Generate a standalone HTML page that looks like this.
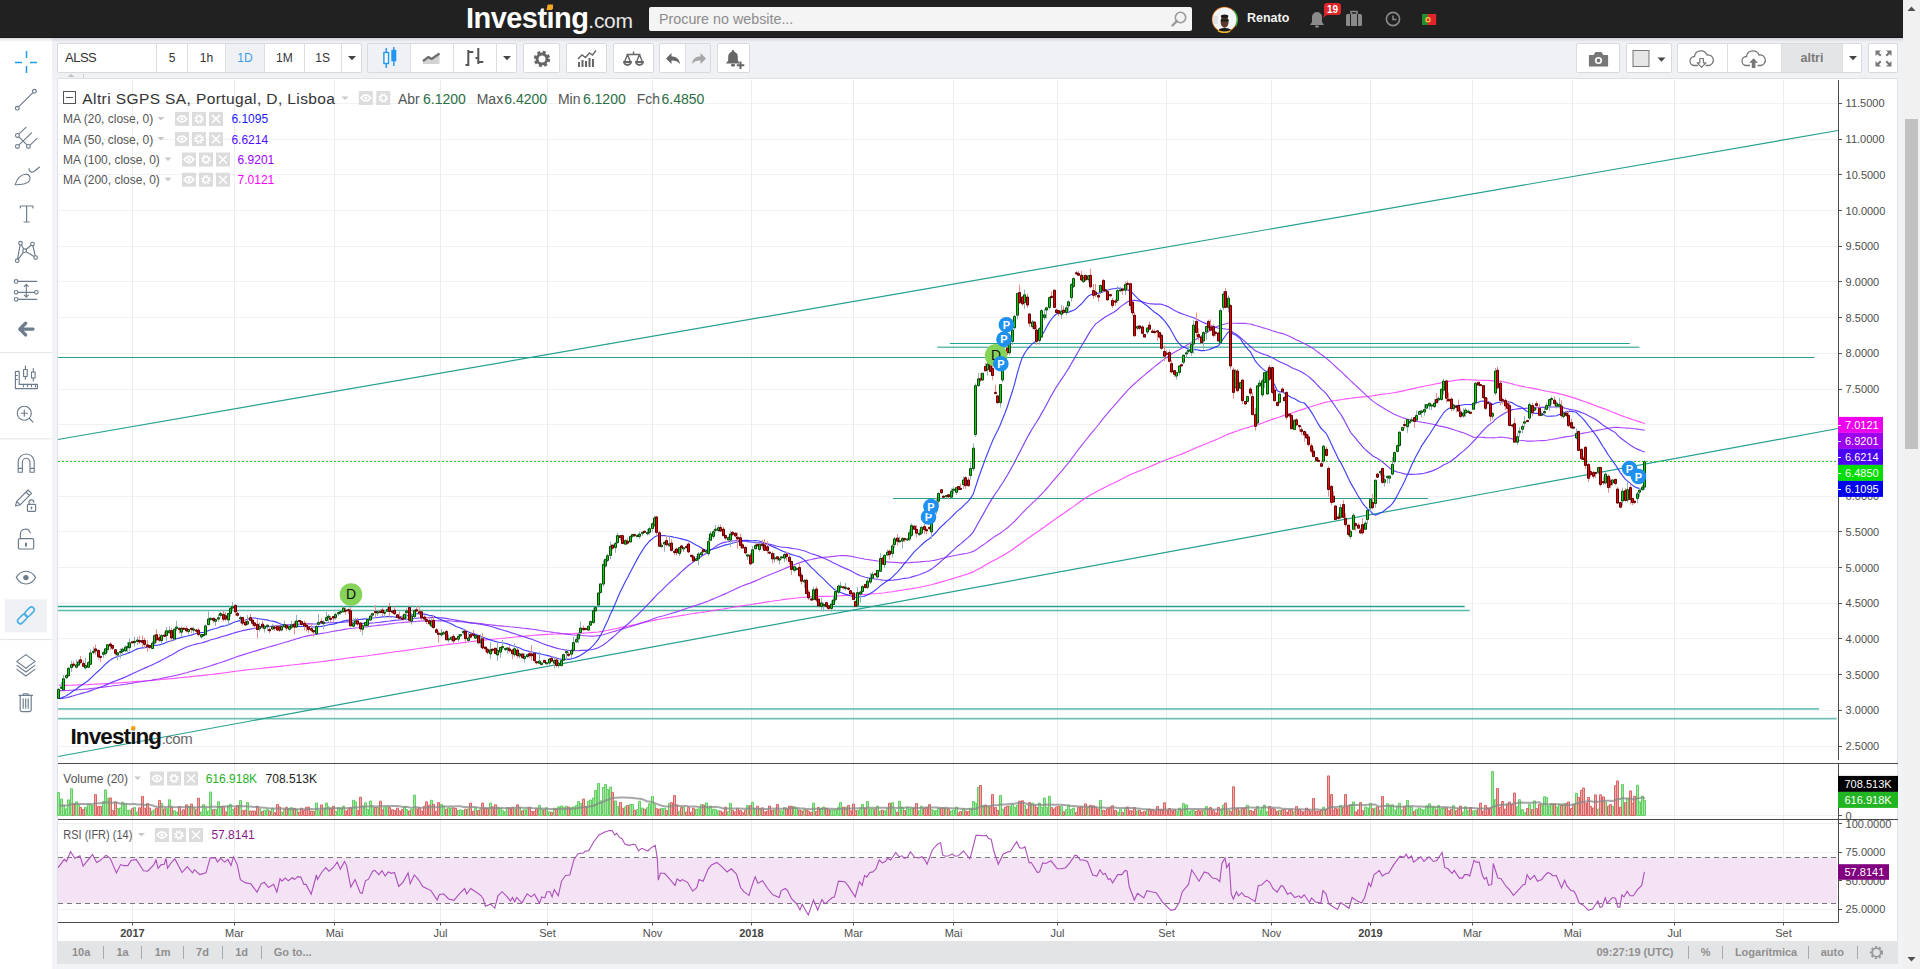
<!DOCTYPE html>
<html><head><meta charset="utf-8">
<style>
*{box-sizing:border-box;margin:0;padding:0}
html,body{width:1920px;height:969px;overflow:hidden;background:#f1f3f6;font-family:"Liberation Sans",sans-serif}
.abs{position:absolute}
#hdr{left:0;top:0;width:1903px;height:38px;background:#212121}
#logo{left:466px;top:3px;color:#fff;font-weight:bold;font-size:29px;letter-spacing:-0.55px;line-height:30px}
#logo span{font-weight:normal;font-size:21px;letter-spacing:-0.3px;color:#e8e8e8}
#search{left:649px;top:7px;width:543px;height:24px;background:#f4f4f4;border-radius:2px}
#search .ph{position:absolute;left:10px;top:4px;font-size:14.3px;color:#8c8c8c}
#uname{left:1247px;top:11px;font-size:12.5px;font-weight:bold;color:#f2f2f2}
#sb{left:1903px;top:0;width:17px;height:969px;background:#f1f1f1}
#thumb{left:1905px;top:119px;width:13px;height:330px;background:#c1c1c1}
#side{left:0;top:38px;width:52px;height:931px;background:#fff}
#tb{left:52px;top:38px;width:1851px;height:41px;background:#f0f1f5}
.grp{position:absolute;top:43.5px;height:29px;background:#fff;border:1px solid #d6d8db;border-radius:2px;overflow:hidden}
.btn{position:absolute;top:0;height:27px;border-left:1px solid #dcdde0;font-size:12px;color:#333;text-align:center;line-height:27px}
.btn.first{border-left:none}
.btn.on{background:#eff1f4}
#chart{left:57px;top:79px;width:1841px;height:885px;background:#fff;border-left:1px solid #dfe2e6;border-right:1px solid #e0e3e7}
#bbar{left:58px;top:941px;width:1840px;height:22.5px;background:#e3e4e6}
.bb{position:absolute;top:4.5px;font-size:11px;font-weight:bold;color:#8f8f8f}
.bsep{position:absolute;top:4.5px;width:1px;height:13px;background:#a8a8a8}
svg text{font-family:"Liberation Sans",sans-serif}
.ax{font-size:11px;fill:#4e4e4e}
.axw{font-size:11px;fill:#fff}
.tx{font-size:11px;fill:#4e4e4e}
.tx.b{font-weight:bold;fill:#444}
.ttl{font-size:15.5px;fill:#333;letter-spacing:0.4px}
.ohl{font-size:14px}
.lg{font-size:12px;fill:#555}
.wm{font-size:22.5px;font-weight:bold;fill:#111;letter-spacing:-0.9px}
.wmc{font-size:15px;font-weight:normal;fill:#666;letter-spacing:-0.5px}
</style></head><body>
<!-- header -->
<div id="hdr" class="abs"></div>
<div id="logo" class="abs">Investing<span>.com</span></div>
<svg class="abs" style="left:546px;top:3px" width="12" height="10"><rect x="2" y="1.5" width="5.5" height="5.5" fill="#f5a623" transform="skewX(-12)"/></svg>
<div id="search" class="abs"><div class="ph">Procure no website...</div>
<svg style="position:absolute;left:521px;top:3px" width="18" height="18" viewBox="0 0 18 18"><circle cx="10.5" cy="7.5" r="5.2" fill="none" stroke="#9a9a9a" stroke-width="1.6"/><path d="M6.8 11.2L2.5 15.5" stroke="#9a9a9a" stroke-width="2.4" stroke-linecap="round"/></svg>
</div>
<svg class="abs" style="left:1211px;top:6px" width="27" height="27" viewBox="0 0 27 27">
<defs><clipPath id="av"><circle cx="13.5" cy="13.4" r="12"/></clipPath></defs>
<circle cx="13.5" cy="13.4" r="12.7" fill="#e8780f"/>
<path d="M22.5 4.5A12.7 12.7 0 0 1 24.5 20" stroke="#3aa83a" stroke-width="1.6" fill="none"/>
<path d="M7 24.5A12.7 12.7 0 0 0 19 25" stroke="#f0b81a" stroke-width="1.8" fill="none"/>
<g clip-path="url(#av)"><rect width="27" height="27" fill="#f2f5f7"/><rect x="2" y="10" width="5" height="8" fill="#dfe2e8"/>
<ellipse cx="13.6" cy="15.6" rx="4" ry="6.2" fill="#5b3a2c"/><ellipse cx="13.6" cy="10.3" rx="3.8" ry="1.9" fill="#1c1c1c"/>
<rect x="9.8" y="13.2" width="7.8" height="2.2" rx="1" fill="#17201f"/>
<path d="M6.5 27L8 23.3Q13.5 20.8 19.5 23.3L21 27z" fill="#151515"/></g>
</svg>
<div id="uname" class="abs">Renato</div>
<svg class="abs" style="left:1306px;top:8px" width="22" height="22" viewBox="0 0 22 22"><path d="M4 17h14l-2-3V9a5 5 0 0 0-10 0v5z" fill="#8a8a8a"/><rect x="9" y="17.5" width="4" height="2" rx="1" fill="#8a8a8a"/></svg>
<svg class="abs" style="left:1321px;top:2px" width="22" height="16" viewBox="0 0 22 16"><path d="M6 1h11a3 3 0 0 1 3 3v6a3 3 0 0 1-3 3H6l-4 2.5 1.5-3.5A3 3 0 0 1 3 10V4a3 3 0 0 1 3-3z" fill="#e0262b"/><text x="11.5" y="11" font-size="10" font-weight="bold" fill="#fff" text-anchor="middle">19</text></svg>
<svg class="abs" style="left:1345px;top:10px" width="19" height="18" viewBox="0 0 19 18"><rect x="1" y="4" width="16" height="12" rx="1.5" fill="#8a8a8a"/><rect x="6" y="1.5" width="6" height="3" fill="none" stroke="#8a8a8a" stroke-width="1.5"/><path d="M5.5 4v12M12.5 4v12" stroke="#212121" stroke-width="1"/></svg>
<svg class="abs" style="left:1383.5px;top:10.7px" width="18" height="18" viewBox="0 0 18 18"><circle cx="9" cy="8" r="6.6" fill="none" stroke="#8a8a8a" stroke-width="1.6"/><path d="M9 4.5V8.5h3.5" fill="none" stroke="#8a8a8a" stroke-width="1.5"/></svg>
<svg class="abs" style="left:1422px;top:14px" width="15" height="12" viewBox="0 0 15 12"><rect width="14.2" height="11" fill="#e0262b"/><rect width="5.6" height="11" fill="#1f8f2f"/><circle cx="6" cy="5.7" r="2.6" fill="#f5d442"/><circle cx="6" cy="5.7" r="1.5" fill="#e0262b"/></svg>

<!-- scrollbar -->
<div id="sb" class="abs"></div>
<div id="thumb" class="abs"></div>
<svg class="abs" style="left:1906px;top:5px" width="11" height="8"><path d="M1.5 6h8l-4-4.5z" fill="#505050"/></svg>
<svg class="abs" style="left:1906px;top:955px" width="11" height="8"><path d="M1.5 2h8l-4 4.5z" fill="#505050"/></svg>

<!-- left sidebar -->
<div id="side" class="abs"></div>
<svg class="abs" style="left:0;top:38px" width="52" height="931" viewBox="0 38 52 931">
<g fill="none" stroke="#6c7c8c" stroke-width="1.15" stroke-linecap="round" stroke-linejoin="round">
<path d="M26.5 51v7M26.5 66v7M15 62.5h7M30 62.5h7" stroke="#1e9be6" stroke-width="1.5" stroke-linecap="butt"/>
<path d="M18.6 106.9L33 92.6"/><circle cx="17.3" cy="108.3" r="1.9" fill="#fff"/><circle cx="34.4" cy="91.3" r="1.9" fill="#fff"/>
<path d="M18.7 134.2L26 127.4M17.4 146.4L31.6 132.9M29.8 145.3L37 138.4M17.4 135.4L28.4 146.4"/><circle cx="17.4" cy="135.4" r="1.9" fill="#fff"/><circle cx="17.4" cy="146.4" r="1.9" fill="#fff"/><circle cx="28.4" cy="146.4" r="1.9" fill="#fff"/>
<path d="M15.2 184.7C17 179 21 174.6 25.5 174.2C29.5 174 31 178 29.5 180.8C27.5 184 21 184.7 15.2 184.7z"/><path d="M29 168.5c0 3 2.5 4.5 5 3l5.5-4.5"/>
<path d="M20.3 208v-2h12.6v2M26.6 206v16M24 222h5.2"/>
<path d="M20.5 243.2L17.2 260.7L24.6 250.7L20.5 243.2M24.6 250.7L32.5 244L35.6 257.5L24.6 250.7"/><circle cx="20.5" cy="243.2" r="1.8" fill="#fff"/><circle cx="32.5" cy="244" r="1.8" fill="#fff"/><circle cx="24.6" cy="250.7" r="1.8" fill="#fff"/><circle cx="17.2" cy="260.7" r="1.8" fill="#fff"/><circle cx="35.6" cy="257.5" r="1.8" fill="#fff"/>
<path d="M18 281.4H36.8M18 292.3H34.4M18 299.3H36.8M26.3 284.4v12.8M24.3 286.4l2-2 2 2M24.3 295.2l2 2 2-2"/><circle cx="16.1" cy="281.4" r="1.8" fill="#fff"/><circle cx="16.1" cy="292.3" r="1.8" fill="#fff"/><circle cx="36.3" cy="292.3" r="1.8" fill="#fff"/><circle cx="16.1" cy="299.3" r="1.8" fill="#fff"/>
<path d="M20 329.1h13M25.6 323.3l-5.8 5.8 5.8 5.8" stroke-width="3.4" stroke="#6c7c8c"/>
<path d="M0 352.5h52" stroke="#e2e6ea" stroke-width="1" stroke-linecap="butt"/>
<path d="M15.4 371.5v17.1h22v-4.2H19.2v-13z"/><path d="M23.5 384.4v2.3M27.5 384.4v2.3M31.5 384.4v2.3M35.5 384.4v2.3M15.4 375.5h2M15.4 379.5h2"/><rect x="23.6" y="369.5" width="3.6" height="7"/><path d="M25.4 366v3.5M25.4 376.5v2.7"/><rect x="31.5" y="372" width="3.6" height="6"/><path d="M33.3 368.6v3.4M33.3 378v3"/>
<circle cx="24.3" cy="413.2" r="7"/><path d="M21.2 413.2h6.2M24.3 410.1v6.2M29.4 418.5l3.6 3.6"/>
<path d="M0 438.9h52" stroke="#e2e6ea" stroke-width="1" stroke-linecap="butt"/>
<path d="M18.2 472.2V462a8 8 0 0 1 16 0v10.2h-4.2V462a3.8 3.8 0 0 0-7.6 0v10.2zM18.2 468.4h4.2M30 468.4h4.2"/>
<path d="M15.5 506l1.2-4.6 11.4-11.4 3.4 3.4-11.4 11.4zM16.7 501.4l3.4 3.4M26 492.1l3.4 3.4"/><rect x="27.4" y="504.4" width="8.2" height="7" rx="0.8"/><path d="M29 504.4v-2a2.4 2.4 0 0 1 4.8-0.3"/><path d="M31.5 507.3v1.5" stroke-width="1.4"/>
<rect x="18.4" y="538.6" width="15.3" height="10.4" rx="1.3"/><path d="M20.4 538.6v-4.4a5 5 0 0 1 9.8-1.4"/><path d="M26 543.4v2.4" stroke-width="2"/>
<path d="M16.3 577.6c4.5-8.5 14.8-8.5 19.3 0c-4.5 8.5-14.8 8.5-19.3 0z"/><circle cx="25.9" cy="577.6" r="2.7" fill="#6c7c8c" stroke="none"/>
<rect x="5" y="599.3" width="41.8" height="33.1" fill="#eff1f4" stroke="none"/>
<g transform="rotate(-45 25.9 615.4)" stroke="#46ace8" stroke-width="1.5"><rect x="15.3" y="612.6" width="11" height="5.6" rx="2.8"/><rect x="25.5" y="612.6" width="11" height="5.6" rx="2.8"/></g>
<path d="M0 639.6h52" stroke="#e2e6ea" stroke-width="1" stroke-linecap="butt"/>
<path d="M16.7 661.4l9.2-6.8 9.2 6.8-9.2 6.8zM16.9 665.4l9 6.6 9-6.6M16.9 669.4l9 6.6 9-6.6"/>
<path d="M19 695.3h13.5M23.5 695.3v-1.6h4.6v1.6M20.2 695.5v14.3a1.8 1.8 0 0 0 1.8 1.8h7.4a1.8 1.8 0 0 0 1.8-1.8V695.5M23.2 698.8v9.4M25.7 698.8v9.4M28.2 698.8v9.4"/>
</g>
</svg>

<!-- toolbar -->
<div id="tb" class="abs"></div>
<div class="abs" style="left:57.0px;top:43.0px;width:305.0px;height:30.0px;background:#fff;border:1px solid #d8dadd;border-radius:2px"></div><div class="abs" style="left:225.3px;top:44.0px;width:39.2px;height:28.0px;background:#eff1f4"></div><div class="abs" style="left:155.8px;top:44.0px;width:1px;height:28.0px;background:#dddee1"></div><div class="abs" style="left:187.0px;top:44.0px;width:1px;height:28.0px;background:#dddee1"></div><div class="abs" style="left:224.8px;top:44.0px;width:1px;height:28.0px;background:#dddee1"></div><div class="abs" style="left:264.0px;top:44.0px;width:1px;height:28.0px;background:#dddee1"></div><div class="abs" style="left:303.5px;top:44.0px;width:1px;height:28.0px;background:#dddee1"></div><div class="abs" style="left:340.8px;top:44.0px;width:1px;height:28.0px;background:#dddee1"></div>
<div class="abs" style="left:65px;top:50.0px;font-size:13px;color:#333;line-height:16px;letter-spacing:-0.5px">ALSS</div>
<div class="abs" style="left:172.0px;top:49.5px;width:60px;margin-left:-30px;text-align:center;font-size:12.0px;color:#333;line-height:16px;">5</div>
<div class="abs" style="left:206.4px;top:49.5px;width:60px;margin-left:-30px;text-align:center;font-size:12.0px;color:#333;line-height:16px;">1h</div>
<div class="abs" style="left:244.9px;top:49.5px;width:60px;margin-left:-30px;text-align:center;font-size:12.0px;color:#3a9fe8;line-height:16px;">1D</div>
<div class="abs" style="left:284.3px;top:49.5px;width:60px;margin-left:-30px;text-align:center;font-size:12.0px;color:#333;line-height:16px;">1M</div>
<div class="abs" style="left:322.6px;top:49.5px;width:60px;margin-left:-30px;text-align:center;font-size:12.0px;color:#333;line-height:16px;">1S</div>
<svg class="abs" style="left:346.7px;top:54.0px" width="10" height="8" viewBox="0 0 10 8"><path d="M1 2h8l-4 4.2z" fill="#444"/></svg>
<div class="abs" style="left:367.3px;top:43.0px;width:150.0px;height:30.0px;background:#fff;border:1px solid #d8dadd;border-radius:2px"></div><div class="abs" style="left:368.3px;top:44.0px;width:42.3px;height:28.0px;background:#eff1f4"></div><div class="abs" style="left:410.1px;top:44.0px;width:1px;height:28.0px;background:#dddee1"></div><div class="abs" style="left:453.2px;top:44.0px;width:1px;height:28.0px;background:#dddee1"></div><div class="abs" style="left:496.0px;top:44.0px;width:1px;height:28.0px;background:#dddee1"></div>
<svg class="abs" style="left:379.0px;top:47.0px" width="20" height="22" viewBox="0 0 20 22"><path d="M7.2 1v20M14.8 0v19" stroke="#2196f3" stroke-width="1.4"/><rect x="4.9" y="5.5" width="4.6" height="11" fill="#fff" stroke="#2196f3" stroke-width="1.4"/><rect x="12.3" y="2.8" width="5" height="11.5" fill="#2196f3"/></svg>
<svg class="abs" style="left:422.0px;top:51.0px" width="20" height="16" viewBox="0 0 20 16"><path d="M1 13V10L6.5 6 9.5 8 17.5 2.5V13z" fill="#d2d2d2"/><path d="M1 10L6.5 6 9.5 8 17.5 2.5" fill="none" stroke="#6e6e6e" stroke-width="2.2" stroke-linejoin="round"/></svg>
<svg class="abs" style="left:464.0px;top:47.0px" width="22" height="22" viewBox="0 0 22 22"><path d="M4.3 3v16M1.5 18h2.8M4.3 5h5M14.3 1v16M11.5 11h2.8M14.3 15h5" stroke="#555" stroke-width="2" fill="none"/></svg>
<svg class="abs" style="left:502.0px;top:54.0px" width="10" height="8" viewBox="0 0 10 8"><path d="M1 2h8l-4 4.2z" fill="#444"/></svg>
<div class="abs" style="left:522.5px;top:43.0px;width:37.9px;height:30.0px;background:#fff;border:1px solid #d8dadd;border-radius:2px"></div>
<svg class="abs" style="left:532.5px;top:49.5px" width="18" height="18" viewBox="0 0 18 18"><circle cx="9" cy="9" r="6.2" fill="none" stroke="#666" stroke-width="4" stroke-dasharray="2.6 2.26"/><circle cx="9" cy="9" r="5" fill="none" stroke="#666" stroke-width="3"/></svg>
<div class="abs" style="left:565.6px;top:43.0px;width:41.9px;height:30.0px;background:#fff;border:1px solid #d8dadd;border-radius:2px"></div>
<svg class="abs" style="left:577.0px;top:49.0px" width="20" height="20" viewBox="0 0 20 20"><path d="M2 18v-5M5.5 18v-7M9 18v-6M12.5 18v-9M16 18v-8" stroke="#666" stroke-width="2"/><path d="M1 10l4-4 3.5 2.5 4-4.5 3 2 3.5-4.5" fill="none" stroke="#666" stroke-width="1.4"/></svg>
<div class="abs" style="left:612.5px;top:43.0px;width:41.7px;height:30.0px;background:#fff;border:1px solid #d8dadd;border-radius:2px"></div>
<svg class="abs" style="left:623.0px;top:49.0px" width="21" height="20" viewBox="0 0 21 20"><path d="M3.5 5.5h14M10.5 2.5v3M4.5 5.5l-3 7.5M4.5 5.5l3 7.5M16.5 5.5l-3 7.5M16.5 5.5l3 7.5" stroke="#666" stroke-width="1.4" fill="none"/><path d="M1 13a3.5 3 0 0 0 7 0zM13 13a3.5 3 0 0 0 7 0z" fill="none" stroke="#666" stroke-width="1.8"/></svg>
<div class="abs" style="left:659.4px;top:43.0px;width:52.1px;height:30.0px;background:#fff;border:1px solid #d8dadd;border-radius:2px"></div><div class="abs" style="left:685.4px;top:44.0px;width:25.1px;height:28.0px;background:#eff1f4"></div><div class="abs" style="left:684.9px;top:44.0px;width:1px;height:28.0px;background:#dddee1"></div>
<svg class="abs" style="left:665.0px;top:50.0px" width="16" height="16" viewBox="0 0 16 16"><path d="M15 14c-0.5-5-3.5-7.5-8.5-7.5V3L1 8.5l5.5 5.5v-3.5c4 0 6.5 1 8.5 3.5z" fill="#666"/></svg>
<svg class="abs" style="left:690.5px;top:50.0px" width="16" height="16" viewBox="0 0 16 16"><path d="M1 14c0.5-5 3.5-7.5 8.5-7.5V3L15 8.5 9.5 14v-3.5c-4 0-6.5 1-8.5 3.5z" fill="#a6a6a6"/></svg>
<div class="abs" style="left:716.9px;top:43.0px;width:33.3px;height:30.0px;background:#fff;border:1px solid #d8dadd;border-radius:2px"></div>
<svg class="abs" style="left:724.0px;top:47.5px" width="22" height="22" viewBox="0 0 22 22"><path d="M2 15.5h14l-2.2-3V8.5a4.8 4.8 0 0 0-9.6 0v4z" fill="#666"/><circle cx="9" cy="3.2" r="1.2" fill="#666"/><rect x="7" y="16" width="4" height="2.5" rx="1.2" fill="#666"/><path d="M16.5 13.5v7.5M12.8 17.3h7.5" stroke="#666" stroke-width="2"/></svg>
<div class="abs" style="left:1575.6px;top:43.0px;width:44.8px;height:30.0px;background:#fff;border:1px solid #d8dadd;border-radius:2px"></div>
<svg class="abs" style="left:1587.5px;top:50.0px" width="21" height="18" viewBox="0 0 21 18"><path d="M1.5 5.5h4.5l1.8-3h5.4l1.8 3h4.5v10.5H1.5z" fill="#777" stroke="#777" stroke-width="1.2" stroke-linejoin="round"/><circle cx="10.5" cy="10.5" r="3.6" fill="#fff"/><circle cx="10.5" cy="10.5" r="1.9" fill="#777"/></svg>
<div class="abs" style="left:1625.6px;top:43.0px;width:46.0px;height:30.0px;background:#fff;border:1px solid #d8dadd;border-radius:2px"></div>
<svg class="abs" style="left:1631.5px;top:48.0px" width="38" height="22" viewBox="0 0 38 22"><rect x="1" y="2.5" width="16" height="16" fill="#e6e6e6" stroke="#777" stroke-width="1"/><path d="M25.5 9.5h8l-4 4.2z" fill="#444"/></svg>
<div class="abs" style="left:1676.6px;top:43.0px;width:185.7px;height:30.0px;background:#fff;border:1px solid #d8dadd;border-radius:2px"></div><div class="abs" style="left:1781.3px;top:44.0px;width:61.3px;height:28.0px;background:#e4e5e7"></div><div class="abs" style="left:1726.9px;top:44.0px;width:1px;height:28.0px;background:#dddee1"></div><div class="abs" style="left:1780.8px;top:44.0px;width:1px;height:28.0px;background:#dddee1"></div><div class="abs" style="left:1842.1px;top:44.0px;width:1px;height:28.0px;background:#dddee1"></div>
<svg class="abs" style="left:1688.0px;top:48.0px" width="28" height="22" viewBox="0 0 28 22"><path d="M6.5 17.5a4.5 4.5 0 0 1 0-9 6.5 6.5 0 0 1 12.5-1.5A5 5 0 0 1 21 17.5h-3.5M10 17.5H6.5" fill="none" stroke="#777" stroke-width="1.3"/><path d="M11.8 10.5h3.6v4.3h2.6L13.6 19.3 9.2 14.8h2.6z" fill="#fff" stroke="#777" stroke-width="1.2" stroke-linejoin="round"/></svg>
<svg class="abs" style="left:1740.0px;top:48.0px" width="28" height="22" viewBox="0 0 28 22"><path d="M6.5 17.5a4.5 4.5 0 0 1 0-9 6.5 6.5 0 0 1 12.5-1.5A5 5 0 0 1 21 17.5h-3.5M10 17.5H6.5" fill="none" stroke="#777" stroke-width="1.3"/><path d="M11.8 20v-5.2H9.2L13.6 10.3l4.4 4.5h-2.6V20z" fill="#777"/></svg>
<div class="abs" style="left:1812.0px;top:49.5px;width:60px;margin-left:-30px;text-align:center;font-size:12.5px;color:#7a7a7a;line-height:16px;font-weight:bold;">altri</div>
<svg class="abs" style="left:1847.5px;top:54.0px" width="10" height="8" viewBox="0 0 10 8"><path d="M1 2h8l-4 4.2z" fill="#444"/></svg>
<div class="abs" style="left:1867.5px;top:43.0px;width:30.9px;height:30.0px;background:#fff;border:1px solid #d8dadd;border-radius:2px"></div>
<svg class="abs" style="left:1873.5px;top:48.5px" width="19" height="19" viewBox="0 0 19 19"><path d="M1.5 1.5h5.5L5 3.5l2.5 2.5-1.5 1.5L3.5 5 1.5 7zM17.5 1.5H12l2 2-2.5 2.5 1.5 1.5L15.5 5l2 2zM1.5 17.5H7l-2-2 2.5-2.5-1.5-1.5L3.5 14l-2-2zM17.5 17.5H12l2-2-2.5-2.5 1.5-1.5 2.5 2.5 2-2z" fill="#777"/></svg>
<div class="abs" style="left:0;top:37px;width:1903px;height:1px;background:#18181a"></div>
<div class="abs" style="left:0;top:38px;width:1903px;height:3.5px;background:linear-gradient(rgba(0,0,20,0.13),rgba(0,0,20,0))"></div>
<!-- sub strip -->
<div class="abs" style="left:57px;top:78px;width:1841px;height:1px;background:#dfe1e5"></div>
<svg class="abs" style="left:57px;top:72px" width="30" height="7"><path d="M10.5 5h7l-3.5-3z" fill="#bfc2c6"/><path d="M26.5 1.5v5" stroke="#d0d2d6"/></svg>

<!-- chart -->
<div id="chart" class="abs"></div>
<div id="bbar" class="abs">
 <div class="bb" style="left:14px">10a</div><div class="bsep" style="left:44.7px"></div>
 <div class="bb" style="left:58.4px">1a</div><div class="bsep" style="left:82.6px"></div>
 <div class="bb" style="left:96.7px">1m</div><div class="bsep" style="left:124.5px"></div>
 <div class="bb" style="left:138.1px">7d</div><div class="bsep" style="left:163.6px"></div>
 <div class="bb" style="left:177.2px">1d</div><div class="bsep" style="left:202.6px"></div>
 <div class="bb" style="left:215.8px">Go to...</div>
 <div class="bb" style="left:1538.5px">09:27:19 (UTC)</div><div class="bsep" style="left:1629.5px"></div>
 <div class="bb" style="left:1642.7px">%</div><div class="bsep" style="left:1663.7px"></div>
 <div class="bb" style="left:1676.9px">Logarítmica</div><div class="bsep" style="left:1749.5px"></div>
 <div class="bb" style="left:1762.7px">auto</div><div class="bsep" style="left:1798.6px"></div>
 <svg style="position:absolute;left:1810px;top:3px" width="17" height="17" viewBox="0 0 20 20"><circle cx="10" cy="10" r="6" fill="none" stroke="#9a9a9a" stroke-width="3.4" stroke-dasharray="2.4 1.9"/><circle cx="10" cy="10" r="5" fill="none" stroke="#9a9a9a" stroke-width="2"/></svg>
</div>
<svg class="abs" style="left:0;top:0" width="1920" height="969" viewBox="0 0 1920 969">
<path d="M58 746.5H1838M58 710.5H1838M58 674.5H1838M58 638.5H1838M58 603.5H1838M58 567.5H1838M58 531.5H1838M58 496.5H1838M58 460.5H1838M58 424.5H1838M58 389.5H1838M58 353.5H1838M58 317.5H1838M58 281.5H1838M58 246.5H1838M58 210.5H1838M58 174.5H1838M58 139.5H1838M58 103.5H1838M58 815.5H1838M58 823.5H1838M58 852.5H1838M58 880.5H1838M58 909.5H1838" stroke="#f1f1f1" stroke-width="1" fill="none"/>
<path d="M132.5 80V763M132.5 764V819M132.5 820V922M234.5 80V763M234.5 764V819M234.5 820V922M334.5 80V763M334.5 764V819M334.5 820V922M440.5 80V763M440.5 764V819M440.5 820V922M547.5 80V763M547.5 764V819M547.5 820V922M652.5 80V763M652.5 764V819M652.5 820V922M751.5 80V763M751.5 764V819M751.5 820V922M853.5 80V763M853.5 764V819M853.5 820V922M953.5 80V763M953.5 764V819M953.5 820V922M1057.5 80V763M1057.5 764V819M1057.5 820V922M1166.5 80V763M1166.5 764V819M1166.5 820V922M1271.5 80V763M1271.5 764V819M1271.5 820V922M1370.5 80V763M1370.5 764V819M1370.5 820V922M1472.5 80V763M1472.5 764V819M1472.5 820V922M1572.5 80V763M1572.5 764V819M1572.5 820V922M1674.5 80V763M1674.5 764V819M1674.5 820V922M1783.5 80V763M1783.5 764V819M1783.5 820V922" stroke="#ececec" stroke-width="1" fill="none"/>
<rect x="58" y="857.5" width="1779" height="46" fill="#f3e3f5"/>
<path d="M58 857.5H1837M58 903.5H1837" stroke="#777" stroke-width="1" stroke-dasharray="5 4" fill="none"/>
<g stroke="#26a08f" fill="none">
<path d="M58 439.5L1838 130.5" stroke-width="1.2"/>
<path d="M58 756.5L1838 428.5" stroke-width="1.2"/>
<path d="M58 357.5H1814.5" stroke-width="1.2"/>
<path d="M949.8 343.5H1629.8" stroke-width="1.2"/>
<path d="M937.3 347.3H1639.5" stroke-width="1.6" opacity="0.7"/>
<path d="M893 498.5H1428" stroke-width="1.2"/>
<path d="M58 606.5H1464.7" stroke-width="1.3"/>
<path d="M58 610.5H1469.7" stroke-width="1.6" opacity="0.75"/>
<path d="M58 708.8H1819" stroke-width="1.8" opacity="0.65"/>
<path d="M58 718.7H1836.8" stroke-width="1.8" opacity="0.65"/>
</g>
<path d="M58 461.5H1838" stroke="#22cc22" stroke-width="1" stroke-dasharray="2 2"/>
<path d="M58.9 685.3L61.4 685.3L63.8 685.3L66.3 685.3L68.7 685.2L71.2 685.2L73.6 685.1L76.1 685.0L78.5 684.9L81.0 684.8L83.4 684.7L85.9 684.7L88.3 684.6L90.8 684.4L93.2 684.3L95.7 684.1L98.1 684.0L100.6 683.9L103.0 683.8L105.5 683.6L107.9 683.5L110.4 683.3L112.8 683.1L115.3 683.0L117.7 682.9L120.2 682.7L122.6 682.6L125.1 682.4L127.5 682.2L130.0 682.0L132.4 681.8L134.9 681.6L137.3 681.4L139.8 681.2L142.2 681.1L144.7 680.9L147.1 680.7L149.6 680.6L152.0 680.4L154.5 680.1L156.9 679.9L159.4 679.7L161.8 679.5L164.3 679.3L166.8 679.1L169.2 678.8L171.7 678.6L174.1 678.4L176.6 678.1L179.0 677.8L181.5 677.6L183.9 677.3L186.4 677.1L188.8 676.9L191.3 676.6L193.7 676.3L196.2 676.1L198.6 675.9L201.1 675.7L203.5 675.4L206.0 675.1L208.4 674.8L210.9 674.5L213.3 674.2L215.8 673.9L218.2 673.6L220.7 673.3L223.1 673.0L225.6 672.7L228.0 672.4L230.5 672.0L232.9 671.6L235.4 671.3L237.8 671.0L240.3 670.7L242.7 670.4L245.2 670.1L247.6 669.8L250.1 669.5L252.5 669.2L255.0 669.0L257.4 668.7L259.9 668.5L262.3 668.2L264.8 667.9L267.2 667.6L269.7 667.4L272.2 667.1L274.6 666.9L277.1 666.6L279.5 666.4L282.0 666.1L284.4 665.8L286.9 665.6L289.3 665.3L291.8 665.0L294.2 664.8L296.7 664.5L299.1 664.2L301.6 663.9L304.0 663.6L306.5 663.4L308.9 663.1L311.4 662.8L313.8 662.6L316.3 662.3L318.7 662.0L321.2 661.7L323.6 661.4L326.1 661.1L328.5 660.7L331.0 660.4L333.4 660.1L335.9 659.8L338.3 659.4L340.8 659.1L343.2 658.7L345.7 658.3L348.1 658.0L350.6 657.7L353.0 657.4L355.5 657.1L357.9 656.8L360.4 656.5L362.8 656.3L365.3 656.0L367.7 655.7L370.2 655.3L372.6 655.0L375.1 654.6L377.6 654.3L380.0 653.9L382.5 653.6L384.9 653.2L387.4 652.9L389.8 652.5L392.3 652.2L394.7 651.8L397.2 651.5L399.6 651.2L402.1 650.9L404.5 650.6L407.0 650.2L409.4 649.9L411.9 649.6L414.3 649.2L416.8 648.8L419.2 648.5L421.7 648.1L424.1 647.8L426.6 647.4L429.0 647.1L431.5 646.7L433.9 646.4L436.4 646.0L438.8 645.7L441.3 645.4L443.7 645.0L446.2 644.7L448.6 644.4L451.1 644.1L453.5 643.8L456.0 643.6L458.4 643.2L460.9 642.9L463.3 642.6L465.8 642.3L468.2 642.0L470.7 641.7L473.1 641.4L475.6 641.0L478.0 640.7L480.5 640.5L483.0 640.2L485.4 639.9L487.9 639.7L490.3 639.5L492.8 639.2L495.2 639.0L497.7 638.7L500.1 638.5L502.6 638.2L505.0 638.0L507.5 637.7L509.9 637.5L512.4 637.3L514.8 637.0L517.3 636.8L519.7 636.6L522.2 636.4L524.6 636.2L527.1 635.9L529.5 635.7L532.0 635.5L534.4 635.3L536.9 635.1L539.3 634.9L541.8 634.8L544.2 634.6L546.7 634.4L549.1 634.2L551.6 634.1L554.0 634.0L556.5 634.0L558.9 633.9L561.4 633.9L563.8 633.9L566.3 633.8L568.7 633.8L571.2 633.7L573.6 633.6L576.1 633.4L578.5 633.3L581.0 633.2L583.4 633.1L585.9 633.0L588.4 632.8L590.8 632.6L593.3 632.4L595.7 632.2L598.2 632.0L600.6 631.6L603.1 631.2L605.5 630.8L608.0 630.3L610.4 629.7L612.9 629.2L615.3 628.7L617.8 628.2L620.2 627.6L622.7 627.1L625.1 626.6L627.6 626.2L630.0 625.6L632.5 625.1L634.9 624.5L637.4 624.0L639.8 623.4L642.3 622.9L644.7 622.4L647.2 621.8L649.6 621.3L652.1 620.7L654.5 620.1L657.0 619.6L659.4 619.2L661.9 618.7L664.3 618.3L666.8 617.9L669.2 617.5L671.7 617.1L674.1 616.7L676.6 616.3L679.0 615.9L681.5 615.5L683.9 615.1L686.4 614.7L688.8 614.2L691.3 613.8L693.8 613.5L696.2 613.1L698.7 612.8L701.1 612.5L703.6 612.1L706.0 611.8L708.5 611.4L710.9 611.0L713.4 610.6L715.8 610.1L718.3 609.7L720.7 609.3L723.2 609.0L725.6 608.6L728.1 608.2L730.5 607.8L733.0 607.3L735.4 606.9L737.9 606.5L740.3 606.1L742.8 605.7L745.2 605.4L747.7 605.0L750.1 604.7L752.6 604.3L755.0 603.9L757.5 603.5L759.9 603.1L762.4 602.7L764.8 602.3L767.3 601.9L769.7 601.5L772.2 601.2L774.6 600.8L777.1 600.5L779.5 600.2L782.0 599.8L784.4 599.4L786.9 599.1L789.3 598.8L791.8 598.6L794.2 598.3L796.7 598.0L799.2 597.7L801.6 597.5L804.1 597.2L806.5 597.0L809.0 596.9L811.4 596.8L813.9 596.6L816.3 596.5L818.8 596.5L821.2 596.4L823.7 596.3L826.1 596.3L828.6 596.3L831.0 596.2L833.5 596.2L835.9 596.1L838.4 596.0L840.8 595.8L843.3 595.6L845.7 595.4L848.2 595.3L850.6 595.1L853.1 595.0L855.5 594.9L858.0 594.7L860.4 594.6L862.9 594.5L865.3 594.4L867.8 594.2L870.2 594.0L872.7 593.8L875.1 593.7L877.6 593.5L880.0 593.2L882.5 593.0L884.9 592.7L887.4 592.3L889.8 592.0L892.3 591.7L894.7 591.3L897.2 590.9L899.6 590.5L902.1 590.1L904.5 589.8L907.0 589.4L909.5 589.0L911.9 588.6L914.4 588.1L916.8 587.7L919.3 587.2L921.7 586.8L924.2 586.3L926.6 585.8L929.1 585.2L931.5 584.7L934.0 584.0L936.4 583.4L938.9 582.6L941.3 581.9L943.8 581.2L946.2 580.5L948.7 579.8L951.1 579.1L953.6 578.3L956.0 577.6L958.5 576.8L960.9 576.1L963.4 575.3L965.8 574.6L968.3 573.8L970.7 572.9L973.2 571.9L975.6 570.6L978.1 569.3L980.5 567.9L983.0 566.5L985.4 565.1L987.9 563.7L990.3 562.3L992.8 560.9L995.2 559.7L997.7 558.4L1000.1 557.1L1002.6 555.7L1005.0 554.3L1007.5 552.7L1009.9 551.2L1012.4 549.5L1014.9 547.8L1017.3 546.0L1019.8 544.3L1022.2 542.5L1024.7 540.7L1027.1 538.9L1029.6 537.2L1032.0 535.5L1034.5 533.8L1036.9 532.2L1039.4 530.6L1041.8 528.8L1044.3 527.1L1046.7 525.3L1049.2 523.5L1051.6 521.7L1054.1 519.9L1056.5 518.2L1059.0 516.5L1061.4 514.8L1063.9 513.2L1066.3 511.5L1068.8 509.8L1071.2 508.1L1073.7 506.4L1076.1 504.6L1078.6 502.8L1081.0 501.1L1083.5 499.5L1085.9 497.8L1088.4 496.2L1090.8 494.8L1093.3 493.4L1095.7 492.1L1098.2 490.8L1100.6 489.5L1103.1 488.2L1105.5 486.9L1108.0 485.8L1110.4 484.6L1112.9 483.4L1115.3 482.2L1117.8 480.9L1120.3 479.7L1122.7 478.5L1125.2 477.2L1127.6 475.9L1130.1 474.8L1132.5 473.7L1135.0 472.7L1137.4 471.7L1139.9 470.7L1142.3 469.7L1144.8 468.8L1147.2 467.8L1149.7 466.7L1152.1 465.7L1154.6 464.6L1157.0 463.5L1159.5 462.5L1161.9 461.5L1164.4 460.5L1166.8 459.5L1169.3 458.6L1171.7 457.7L1174.2 456.8L1176.6 456.0L1179.1 455.0L1181.5 454.1L1184.0 453.1L1186.4 452.0L1188.9 451.0L1191.3 450.0L1193.8 448.8L1196.2 447.7L1198.7 446.7L1201.1 445.8L1203.6 444.8L1206.0 443.8L1208.5 442.8L1210.9 441.7L1213.4 440.7L1215.8 439.7L1218.3 438.7L1220.7 437.6L1223.2 436.4L1225.7 435.3L1228.1 434.1L1230.6 433.2L1233.0 432.4L1235.5 431.5L1237.9 430.7L1240.4 429.8L1242.8 429.0L1245.3 428.3L1247.7 427.6L1250.2 426.8L1252.6 426.1L1255.1 425.5L1257.5 424.7L1260.0 423.9L1262.4 423.0L1264.9 422.0L1267.3 421.1L1269.8 420.2L1272.2 419.4L1274.7 418.6L1277.1 417.8L1279.6 417.0L1282.0 416.1L1284.5 415.3L1286.9 414.5L1289.4 413.7L1291.8 413.0L1294.3 412.2L1296.7 411.3L1299.2 410.5L1301.6 409.6L1304.1 408.9L1306.5 408.0L1309.0 407.2L1311.4 406.5L1313.9 405.7L1316.3 405.0L1318.8 404.3L1321.2 403.6L1323.7 402.8L1326.1 402.1L1328.6 401.7L1331.1 401.2L1333.5 400.8L1336.0 400.5L1338.4 400.1L1340.9 399.7L1343.3 399.3L1345.8 398.9L1348.2 398.6L1350.7 398.3L1353.1 397.9L1355.6 397.6L1358.0 397.3L1360.5 397.1L1362.9 396.9L1365.4 396.7L1367.8 396.3L1370.3 396.1L1372.7 395.8L1375.2 395.4L1377.6 395.0L1380.1 394.6L1382.5 394.3L1385.0 394.0L1387.4 393.7L1389.9 393.3L1392.3 393.0L1394.8 392.5L1397.2 392.1L1399.7 391.6L1402.1 391.1L1404.6 390.6L1407.0 390.0L1409.5 389.4L1411.9 388.9L1414.4 388.4L1416.8 387.8L1419.3 387.2L1421.7 386.6L1424.2 386.2L1426.6 385.7L1429.1 385.2L1431.5 384.8L1434.0 384.3L1436.5 383.8L1438.9 383.4L1441.4 382.8L1443.8 382.3L1446.3 381.9L1448.7 381.4L1451.2 381.0L1453.6 380.6L1456.1 380.2L1458.5 379.9L1461.0 379.6L1463.4 379.4L1465.9 379.6L1468.3 379.7L1470.8 379.9L1473.2 380.0L1475.7 380.1L1478.1 380.2L1480.6 380.3L1483.0 380.4L1485.5 380.4L1487.9 380.5L1490.4 380.6L1492.8 380.9L1495.3 380.9L1497.7 381.0L1500.2 381.3L1502.6 381.7L1505.1 382.1L1507.5 382.7L1510.0 383.3L1512.4 383.9L1514.9 384.7L1517.3 385.3L1519.8 385.9L1522.2 386.4L1524.7 386.9L1527.1 387.3L1529.6 387.6L1532.0 388.1L1534.5 388.6L1536.9 389.1L1539.4 389.7L1541.9 390.3L1544.3 390.8L1546.8 391.3L1549.2 391.7L1551.7 392.1L1554.1 392.6L1556.6 393.1L1559.0 393.6L1561.5 394.2L1563.9 394.9L1566.4 395.6L1568.8 396.4L1571.3 397.1L1573.7 397.9L1576.2 398.6L1578.6 399.5L1581.1 400.4L1583.5 401.2L1586.0 402.0L1588.4 402.9L1590.9 403.9L1593.3 404.8L1595.8 405.7L1598.2 406.6L1600.7 407.5L1603.1 408.4L1605.6 409.2L1608.0 410.2L1610.5 411.2L1612.9 412.2L1615.4 413.1L1617.8 414.2L1620.3 415.3L1622.7 416.1L1625.2 417.0L1627.6 417.8L1630.1 418.6L1632.5 419.5L1635.0 420.3L1637.4 421.1L1639.9 421.9L1642.3 422.7L1644.8 423.4" stroke="#ff40ff" stroke-width="1.15" fill="none" opacity="0.9"/>
<path d="M58.9 690.6L61.4 690.6L63.8 690.6L66.3 690.5L68.7 690.4L71.2 690.2L73.6 690.0L76.1 689.9L78.5 689.7L81.0 689.5L83.4 689.3L85.9 689.1L88.3 688.9L90.8 688.6L93.2 688.3L95.7 688.0L98.1 687.8L100.6 687.5L103.0 687.2L105.5 686.9L107.9 686.5L110.4 686.2L112.8 685.8L115.3 685.5L117.7 685.3L120.2 685.0L122.6 684.6L125.1 684.3L127.5 683.9L130.0 683.5L132.4 683.1L134.9 682.7L137.3 682.3L139.8 681.9L142.2 681.5L144.7 681.2L147.1 680.8L149.6 680.5L152.0 680.1L154.5 679.6L156.9 679.2L159.4 678.8L161.8 678.3L164.3 677.9L166.8 677.4L169.2 676.8L171.7 676.4L174.1 675.8L176.6 675.2L179.0 674.6L181.5 674.0L183.9 673.3L186.4 672.7L188.8 672.0L191.3 671.3L193.7 670.6L196.2 669.9L198.6 669.3L201.1 668.7L203.5 668.0L206.0 667.3L208.4 666.5L210.9 665.7L213.3 664.9L215.8 664.1L218.2 663.3L220.7 662.5L223.1 661.7L225.6 660.9L228.0 660.0L230.5 659.1L232.9 658.2L235.4 657.3L237.8 656.4L240.3 655.6L242.7 654.9L245.2 654.1L247.6 653.3L250.1 652.6L252.5 651.8L255.0 651.1L257.4 650.4L259.9 649.6L262.3 648.9L264.8 648.2L267.2 647.5L269.7 646.8L272.2 646.1L274.6 645.4L277.1 644.7L279.5 644.0L282.0 643.3L284.4 642.5L286.9 641.8L289.3 641.1L291.8 640.3L294.2 639.6L296.7 638.8L299.1 638.1L301.6 637.3L304.0 636.7L306.5 636.1L308.9 635.6L311.4 635.1L313.8 634.7L316.3 634.4L318.7 633.9L321.2 633.5L323.6 633.1L326.1 632.7L328.5 632.2L331.0 631.7L333.4 631.3L335.9 630.9L338.3 630.5L340.8 630.1L343.2 629.6L345.7 629.1L348.1 628.7L350.6 628.5L353.0 628.3L355.5 628.0L357.9 627.8L360.4 627.5L362.8 627.3L365.3 627.0L367.7 626.7L370.2 626.4L372.6 626.0L375.1 625.7L377.6 625.4L380.0 625.1L382.5 624.9L384.9 624.6L387.4 624.2L389.8 623.9L392.3 623.6L394.7 623.2L397.2 623.0L399.6 622.8L402.1 622.6L404.5 622.3L407.0 622.1L409.4 621.9L411.9 621.8L414.3 621.6L416.8 621.3L419.2 621.1L421.7 621.0L424.1 620.9L426.6 620.9L429.0 620.8L431.5 620.7L433.9 620.7L436.4 620.7L438.8 620.8L441.3 620.8L443.7 620.8L446.2 620.8L448.6 620.9L451.1 621.0L453.5 621.2L456.0 621.4L458.4 621.6L460.9 621.7L463.3 621.9L465.8 622.1L468.2 622.3L470.7 622.5L473.1 622.7L475.6 623.0L478.0 623.3L480.5 623.6L483.0 623.9L485.4 624.3L487.9 624.5L490.3 624.8L492.8 625.1L495.2 625.4L497.7 625.7L500.1 625.9L502.6 626.1L505.0 626.3L507.5 626.5L509.9 626.8L512.4 627.0L514.8 627.2L517.3 627.5L519.7 627.8L522.2 628.1L524.6 628.3L527.1 628.6L529.5 628.9L532.0 629.2L534.4 629.5L536.9 629.9L539.3 630.2L541.8 630.7L544.2 631.1L546.7 631.5L549.1 631.8L551.6 632.1L554.0 632.5L556.5 632.8L558.9 633.1L561.4 633.5L563.8 633.8L566.3 634.1L568.7 634.4L571.2 634.7L573.6 635.0L576.1 635.2L578.5 635.4L581.0 635.5L583.4 635.7L585.9 635.8L588.4 636.0L590.8 636.1L593.3 636.1L595.7 635.9L598.2 635.6L600.6 635.3L603.1 634.7L605.5 634.0L608.0 633.3L610.4 632.5L612.9 631.8L615.3 631.1L617.8 630.3L620.2 629.5L622.7 628.9L625.1 628.1L627.6 627.5L630.0 626.7L632.5 625.9L634.9 625.2L637.4 624.4L639.8 623.6L642.3 622.8L644.7 621.9L647.2 621.1L649.6 620.2L652.1 619.3L654.5 618.3L657.0 617.5L659.4 616.8L661.9 616.2L664.3 615.5L666.8 614.7L669.2 614.0L671.7 613.3L674.1 612.6L676.6 611.9L679.0 611.1L681.5 610.2L683.9 609.4L686.4 608.5L688.8 607.7L691.3 606.9L693.8 606.1L696.2 605.3L698.7 604.4L701.1 603.6L703.6 602.7L706.0 601.9L708.5 601.0L710.9 599.9L713.4 598.9L715.8 597.8L718.3 596.7L720.7 595.7L723.2 594.6L725.6 593.6L728.1 592.5L730.5 591.3L733.0 590.2L735.4 589.0L737.9 587.9L740.3 586.8L742.8 585.8L745.2 584.9L747.7 583.9L750.1 583.1L752.6 582.1L755.0 581.1L757.5 580.0L759.9 578.9L762.4 577.8L764.8 576.8L767.3 575.7L769.7 574.7L772.2 573.7L774.6 572.8L777.1 571.8L779.5 570.8L782.0 569.7L784.4 568.7L786.9 567.6L789.3 566.6L791.8 565.6L794.2 564.7L796.7 563.8L799.2 562.9L801.6 562.1L804.1 561.3L806.5 560.6L809.0 560.0L811.4 559.5L813.9 558.9L816.3 558.4L818.8 558.0L821.2 557.6L823.7 557.3L826.1 557.1L828.6 556.9L831.0 556.6L833.5 556.4L835.9 556.1L838.4 555.8L840.8 555.6L843.3 555.6L845.7 555.6L848.2 555.9L850.6 556.2L853.1 556.6L855.5 557.2L858.0 557.7L860.4 558.2L862.9 558.7L865.3 559.2L867.8 559.5L870.2 559.9L872.7 560.2L875.1 560.6L877.6 561.0L880.0 561.2L882.5 561.5L884.9 561.7L887.4 561.9L889.8 562.1L892.3 562.3L894.7 562.4L897.2 562.5L899.6 562.8L902.1 562.8L904.5 562.8L907.0 562.7L909.5 562.6L911.9 562.4L914.4 562.3L916.8 562.1L919.3 561.9L921.7 561.6L924.2 561.5L926.6 561.3L929.1 561.1L931.5 560.8L934.0 560.4L936.4 559.9L938.9 559.2L941.3 558.5L943.8 558.0L946.2 557.4L948.7 556.8L951.1 556.2L953.6 555.7L956.0 555.2L958.5 554.8L960.9 554.4L963.4 553.9L965.8 553.5L968.3 553.0L970.7 552.3L973.2 551.4L975.6 549.9L978.1 548.4L980.5 546.8L983.0 545.1L985.4 543.4L987.9 541.5L990.3 539.7L992.8 537.9L995.2 536.2L997.7 534.8L1000.1 533.2L1002.6 531.4L1005.0 529.6L1007.5 527.7L1009.9 525.6L1012.4 523.4L1014.9 521.0L1017.3 518.3L1019.8 515.8L1022.2 513.2L1024.7 510.6L1027.1 508.1L1029.6 505.8L1032.0 503.4L1034.5 501.1L1036.9 498.8L1039.4 496.4L1041.8 493.8L1044.3 491.2L1046.7 488.5L1049.2 485.7L1051.6 482.7L1054.1 479.8L1056.5 476.9L1059.0 474.2L1061.4 471.3L1063.9 468.3L1066.3 465.4L1068.8 462.4L1071.2 459.1L1073.7 455.9L1076.1 452.5L1078.6 449.3L1081.0 446.2L1083.5 443.1L1085.9 440.0L1088.4 436.9L1090.8 433.9L1093.3 431.0L1095.7 428.0L1098.2 425.0L1100.6 421.8L1103.1 418.7L1105.5 415.7L1108.0 412.9L1110.4 409.9L1112.9 407.2L1115.3 404.4L1117.8 401.6L1120.3 398.7L1122.7 395.9L1125.2 393.2L1127.6 390.4L1130.1 387.9L1132.5 385.5L1135.0 383.3L1137.4 381.1L1139.9 379.0L1142.3 376.9L1144.8 374.9L1147.2 372.8L1149.7 370.7L1152.1 368.6L1154.6 366.6L1157.0 364.7L1159.5 362.8L1161.9 360.9L1164.4 359.1L1166.8 357.4L1169.3 355.7L1171.7 354.1L1174.2 352.6L1176.6 351.1L1179.1 349.7L1181.5 348.3L1184.0 346.9L1186.4 345.5L1188.9 344.1L1191.3 342.6L1193.8 340.8L1196.2 339.3L1198.7 337.7L1201.1 336.3L1203.6 334.7L1206.0 333.1L1208.5 331.6L1210.9 330.0L1213.4 328.5L1215.8 327.2L1218.3 326.1L1220.7 325.3L1223.2 324.5L1225.7 323.8L1228.1 323.0L1230.6 323.0L1233.0 323.2L1235.5 323.2L1237.9 323.4L1240.4 323.3L1242.8 323.3L1245.3 323.4L1247.7 323.8L1250.2 324.0L1252.6 324.6L1255.1 325.5L1257.5 326.0L1260.0 326.7L1262.4 327.6L1264.9 328.3L1267.3 329.0L1269.8 329.8L1272.2 330.7L1274.7 331.4L1277.1 332.3L1279.6 332.9L1282.0 333.4L1284.5 334.2L1286.9 335.2L1289.4 336.2L1291.8 337.4L1294.3 338.7L1296.7 339.9L1299.2 341.1L1301.6 342.3L1304.1 343.5L1306.5 344.8L1309.0 346.1L1311.4 347.6L1313.9 349.1L1316.3 350.9L1318.8 352.7L1321.2 354.6L1323.7 356.3L1326.1 358.1L1328.6 360.2L1331.1 362.4L1333.5 364.7L1336.0 367.0L1338.4 369.3L1340.9 371.4L1343.3 373.6L1345.8 376.0L1348.2 378.4L1350.7 380.8L1353.1 383.0L1355.6 385.3L1358.0 387.5L1360.5 389.8L1362.9 392.2L1365.4 394.6L1367.8 396.8L1370.3 398.9L1372.7 401.1L1375.2 402.9L1377.6 404.5L1380.1 405.9L1382.5 407.5L1385.0 409.0L1387.4 410.4L1389.9 411.8L1392.3 413.2L1394.8 414.4L1397.2 415.5L1399.7 416.5L1402.1 417.5L1404.6 418.4L1407.0 419.1L1409.5 419.7L1411.9 420.4L1414.4 421.0L1416.8 421.4L1419.3 421.8L1421.7 422.2L1424.2 422.6L1426.6 423.0L1429.1 423.5L1431.5 424.0L1434.0 424.5L1436.5 425.1L1438.9 425.9L1441.4 426.4L1443.8 426.9L1446.3 427.4L1448.7 428.1L1451.2 428.9L1453.6 429.7L1456.1 430.5L1458.5 431.2L1461.0 432.1L1463.4 432.8L1465.9 433.8L1468.3 434.9L1470.8 436.0L1473.2 437.1L1475.7 437.2L1478.1 437.2L1480.6 437.3L1483.0 437.4L1485.5 437.6L1487.9 437.7L1490.4 437.8L1492.8 437.9L1495.3 437.7L1497.7 437.5L1500.2 437.2L1502.6 437.3L1505.1 437.6L1507.5 437.8L1510.0 438.4L1512.4 438.9L1514.9 439.5L1517.3 440.0L1519.8 440.3L1522.2 440.5L1524.7 440.8L1527.1 441.1L1529.6 441.1L1532.0 441.1L1534.5 441.0L1536.9 440.8L1539.4 440.7L1541.9 440.6L1544.3 440.5L1546.8 440.2L1549.2 439.8L1551.7 439.5L1554.1 439.0L1556.6 438.6L1559.0 438.0L1561.5 437.6L1563.9 437.1L1566.4 436.6L1568.8 436.4L1571.3 436.1L1573.7 435.5L1576.2 434.8L1578.6 434.3L1581.1 433.7L1583.5 433.1L1586.0 432.7L1588.4 432.3L1590.9 431.8L1593.3 431.2L1595.8 430.6L1598.2 430.1L1600.7 429.7L1603.1 429.3L1605.6 428.7L1608.0 428.2L1610.5 427.9L1612.9 427.5L1615.4 427.4L1617.8 427.3L1620.3 427.6L1622.7 427.8L1625.2 428.0L1627.6 428.1L1630.1 428.3L1632.5 428.6L1635.0 428.8L1637.4 429.1L1639.9 429.5L1642.3 429.9L1644.8 430.2" stroke="#a033ff" stroke-width="1.15" fill="none" opacity="0.9"/>
<path d="M58.9 698.6L61.4 698.5L63.8 698.1L66.3 697.7L68.7 697.1L71.2 696.4L73.6 695.7L76.1 695.0L78.5 694.3L81.0 693.6L83.4 692.9L85.9 692.3L88.3 691.6L90.8 690.6L93.2 689.7L95.7 688.7L98.1 687.9L100.6 687.1L103.0 686.2L105.5 685.1L107.9 684.1L110.4 683.0L112.8 681.9L115.3 681.0L117.7 680.1L120.2 679.1L122.6 678.1L125.1 677.1L127.5 676.0L130.0 674.9L132.4 673.8L134.9 672.6L137.3 671.5L139.8 670.3L142.2 669.2L144.7 668.1L147.1 667.1L149.6 666.1L152.0 664.9L154.5 663.7L156.9 662.5L159.4 661.4L161.8 660.1L164.3 658.8L166.8 657.5L169.2 656.1L171.7 654.9L174.1 653.4L176.6 652.0L179.0 650.6L181.5 649.4L183.9 648.2L186.4 647.2L188.8 646.3L191.3 645.5L193.7 644.8L196.2 644.1L198.6 643.5L201.1 643.0L203.5 642.4L206.0 641.6L208.4 640.7L210.9 639.8L213.3 639.2L215.8 638.5L218.2 637.9L220.7 637.0L223.1 636.2L225.6 635.6L228.0 634.9L230.5 634.1L232.9 633.3L235.4 632.6L237.8 631.9L240.3 631.2L242.7 630.6L245.2 630.1L247.6 629.6L250.1 629.1L252.5 628.7L255.0 628.3L257.4 628.1L259.9 627.8L262.3 627.5L264.8 627.2L267.2 626.8L269.7 626.5L272.2 626.1L274.6 625.8L277.1 625.7L279.5 625.5L282.0 625.2L284.4 625.0L286.9 624.8L289.3 624.7L291.8 624.6L294.2 624.4L296.7 624.2L299.1 624.1L301.6 624.0L304.0 624.0L306.5 623.9L308.9 623.9L311.4 623.9L313.8 624.0L316.3 623.9L318.7 623.7L321.2 623.5L323.6 623.2L326.1 622.9L328.5 622.7L331.0 622.7L333.4 622.7L335.9 622.6L338.3 622.4L340.8 622.3L343.2 622.2L345.7 622.0L348.1 621.9L350.6 622.1L353.0 622.4L355.5 622.7L357.9 623.0L360.4 623.2L362.8 623.4L365.3 623.4L367.7 623.3L370.2 623.1L372.6 623.0L375.1 622.8L377.6 622.5L380.0 622.2L382.5 621.9L384.9 621.6L387.4 621.3L389.8 621.0L392.3 620.6L394.7 620.4L397.2 620.2L399.6 619.9L402.1 619.7L404.5 619.5L407.0 619.2L409.4 619.0L411.9 618.8L414.3 618.5L416.8 618.2L419.2 618.0L421.7 618.0L424.1 617.9L426.6 617.8L429.0 617.7L431.5 617.6L433.9 617.5L436.4 617.5L438.8 617.7L441.3 617.9L443.7 618.1L446.2 618.4L448.6 618.9L451.1 619.3L453.5 619.7L456.0 620.1L458.4 620.6L460.9 621.0L463.3 621.4L465.8 622.0L468.2 622.6L470.7 623.1L473.1 623.3L475.6 623.5L478.0 624.0L480.5 624.3L483.0 624.7L485.4 625.1L487.9 625.7L490.3 626.3L492.8 627.0L495.2 627.8L497.7 628.6L500.1 629.3L502.6 630.0L505.0 630.7L507.5 631.4L509.9 632.2L512.4 633.1L514.8 633.8L517.3 634.7L519.7 635.4L522.2 636.2L524.6 636.9L527.1 637.7L529.5 638.6L532.0 639.3L534.4 640.2L536.9 641.3L539.3 642.3L541.8 643.3L544.2 644.2L546.7 645.1L549.1 645.8L551.6 646.6L554.0 647.4L556.5 648.1L558.9 648.7L561.4 649.3L563.8 649.7L566.3 650.1L568.7 650.4L571.2 650.6L573.6 650.7L576.1 650.7L578.5 650.6L581.0 650.4L583.4 650.3L585.9 650.3L588.4 650.0L590.8 649.7L593.3 649.2L595.7 648.6L598.2 647.8L600.6 646.6L603.1 645.1L605.5 643.3L608.0 641.4L610.4 639.3L612.9 637.3L615.3 635.1L617.8 632.8L620.2 630.5L622.7 628.5L625.1 626.3L627.6 624.2L630.0 622.0L632.5 619.7L634.9 617.3L637.4 615.0L639.8 612.6L642.3 610.2L644.7 607.7L647.2 605.2L649.6 602.7L652.1 600.0L654.5 597.3L657.0 594.7L659.4 592.4L661.9 590.1L664.3 587.6L666.8 585.3L669.2 582.9L671.7 580.7L674.1 578.6L676.6 576.4L679.0 574.0L681.5 571.7L683.9 569.5L686.4 567.3L688.8 565.3L691.3 563.4L693.8 561.6L696.2 559.9L698.7 558.2L701.1 556.5L703.6 555.0L706.0 553.5L708.5 551.7L710.9 549.9L713.4 548.1L715.8 546.4L718.3 544.8L720.7 543.6L723.2 542.6L725.6 542.1L728.1 541.7L730.5 541.2L733.0 541.0L735.4 540.8L737.9 540.7L740.3 540.9L742.8 541.1L745.2 541.3L747.7 541.6L750.1 542.0L752.6 542.2L755.0 542.5L757.5 542.7L759.9 542.8L762.4 543.1L764.8 543.4L767.3 543.8L769.7 544.2L772.2 544.8L774.6 545.5L777.1 546.3L779.5 546.8L782.0 547.1L784.4 547.3L786.9 547.5L789.3 547.9L791.8 548.4L794.2 548.7L796.7 549.0L799.2 549.5L801.6 550.2L804.1 550.8L806.5 551.7L809.0 552.8L811.4 553.7L813.9 554.4L816.3 555.2L818.8 556.1L821.2 557.1L823.7 558.1L826.1 559.2L828.6 560.3L831.0 561.6L833.5 562.9L835.9 564.1L838.4 565.2L840.8 566.4L843.3 567.5L845.7 568.6L848.2 569.6L850.6 570.7L853.1 572.0L855.5 573.5L858.0 574.6L860.4 575.7L862.9 576.5L865.3 577.3L867.8 577.8L870.2 578.3L872.7 578.5L875.1 579.0L877.6 579.5L880.0 579.7L882.5 580.1L884.9 580.3L887.4 580.4L889.8 580.4L892.3 580.3L894.7 579.9L897.2 579.6L899.6 579.2L902.1 578.8L904.5 578.4L907.0 578.1L909.5 577.7L911.9 576.9L914.4 576.1L916.8 575.5L919.3 574.7L921.7 573.8L924.2 572.7L926.6 571.7L929.1 570.4L931.5 568.9L934.0 567.1L936.4 565.3L938.9 563.2L941.3 560.9L943.8 558.8L946.2 556.6L948.7 554.5L951.1 552.1L953.6 549.8L956.0 547.6L958.5 545.5L960.9 543.6L963.4 541.5L965.8 539.4L968.3 537.4L970.7 535.0L973.2 532.1L975.6 527.8L978.1 523.2L980.5 519.0L983.0 514.6L985.4 510.3L987.9 505.8L990.3 501.6L992.8 497.6L995.2 494.0L997.7 490.5L1000.1 486.8L1002.6 483.0L1005.0 479.0L1007.5 475.0L1009.9 470.8L1012.4 466.3L1014.9 461.7L1017.3 456.8L1019.8 452.0L1022.2 447.3L1024.7 442.4L1027.1 437.7L1029.6 433.4L1032.0 429.2L1034.5 425.2L1036.9 421.5L1039.4 417.4L1041.8 412.9L1044.3 408.7L1046.7 404.3L1049.2 399.6L1051.6 395.0L1054.1 390.7L1056.5 386.8L1059.0 383.0L1061.4 379.4L1063.9 375.7L1066.3 372.0L1068.8 368.1L1071.2 363.8L1073.7 359.6L1076.1 355.3L1078.6 351.0L1081.0 346.8L1083.5 342.6L1085.9 338.6L1088.4 334.4L1090.8 330.4L1093.3 327.0L1095.7 323.9L1098.2 322.1L1100.6 320.3L1103.1 318.5L1105.5 316.8L1108.0 315.4L1110.4 314.0L1112.9 312.7L1115.3 311.3L1117.8 309.2L1120.3 306.9L1122.7 305.1L1125.2 303.4L1127.6 301.8L1130.1 300.8L1132.5 300.3L1135.0 300.4L1137.4 300.6L1139.9 301.3L1142.3 301.9L1144.8 302.5L1147.2 303.2L1149.7 303.7L1152.1 303.9L1154.6 304.1L1157.0 304.1L1159.5 304.0L1161.9 304.4L1164.4 305.3L1166.8 306.1L1169.3 307.2L1171.7 308.7L1174.2 310.2L1176.6 311.5L1179.1 312.6L1181.5 313.6L1184.0 314.5L1186.4 315.3L1188.9 316.2L1191.3 317.0L1193.8 317.8L1196.2 318.9L1198.7 320.2L1201.1 321.5L1203.6 322.6L1206.0 323.6L1208.5 324.5L1210.9 325.6L1213.4 326.6L1215.8 327.3L1218.3 328.3L1220.7 328.5L1223.2 328.7L1225.7 329.0L1228.1 329.2L1230.6 330.5L1233.0 332.4L1235.5 333.7L1237.9 335.5L1240.4 337.4L1242.8 339.6L1245.3 341.8L1247.7 344.1L1250.2 346.3L1252.6 348.4L1255.1 350.7L1257.5 351.7L1260.0 352.8L1262.4 353.9L1264.9 354.7L1267.3 355.4L1269.8 356.4L1272.2 357.7L1274.7 359.0L1277.1 360.5L1279.6 361.7L1282.0 362.8L1284.5 363.9L1286.9 365.1L1289.4 366.3L1291.8 367.7L1294.3 368.7L1296.7 369.7L1299.2 370.8L1301.6 372.1L1304.1 373.5L1306.5 375.1L1309.0 376.9L1311.4 379.0L1313.9 381.2L1316.3 383.9L1318.8 386.5L1321.2 389.1L1323.7 391.1L1326.1 393.6L1328.6 396.9L1331.1 400.4L1333.5 403.8L1336.0 407.5L1338.4 411.2L1340.9 414.5L1343.3 418.6L1345.8 423.3L1348.2 427.8L1350.7 432.5L1353.1 435.4L1355.6 438.1L1358.0 441.3L1360.5 444.1L1362.9 447.1L1365.4 449.6L1367.8 451.7L1370.3 453.7L1372.7 456.0L1375.2 457.3L1377.6 458.4L1380.1 460.1L1382.5 462.1L1385.0 464.0L1387.4 466.1L1389.9 468.2L1392.3 469.9L1394.8 471.1L1397.2 472.0L1399.7 472.5L1402.1 473.2L1404.6 473.9L1407.0 474.3L1409.5 474.4L1411.9 474.4L1414.4 474.3L1416.8 474.2L1419.3 473.9L1421.7 473.6L1424.2 473.2L1426.6 472.6L1429.1 471.9L1431.5 471.1L1434.0 470.1L1436.5 469.0L1438.9 467.8L1441.4 466.4L1443.8 464.7L1446.3 463.7L1448.7 462.6L1451.2 461.0L1453.6 459.0L1456.1 457.2L1458.5 455.0L1461.0 452.9L1463.4 451.1L1465.9 448.9L1468.3 446.6L1470.8 444.2L1473.2 441.6L1475.7 439.0L1478.1 436.2L1480.6 433.3L1483.0 430.6L1485.5 428.1L1487.9 425.7L1490.4 423.9L1492.8 422.1L1495.3 419.4L1497.7 417.6L1500.2 416.0L1502.6 414.6L1505.1 413.1L1507.5 411.7L1510.0 410.6L1512.4 409.6L1514.9 409.2L1517.3 408.9L1519.8 408.6L1522.2 408.5L1524.7 408.4L1527.1 408.3L1529.6 408.0L1532.0 407.8L1534.5 407.6L1536.9 407.2L1539.4 407.2L1541.9 407.3L1544.3 407.3L1546.8 407.2L1549.2 407.1L1551.7 407.0L1554.1 407.0L1556.6 407.0L1559.0 407.0L1561.5 407.4L1563.9 407.9L1566.4 408.5L1568.8 409.1L1571.3 409.6L1573.7 410.0L1576.2 410.6L1578.6 411.4L1581.1 412.4L1583.5 413.2L1586.0 414.3L1588.4 415.7L1590.9 416.9L1593.3 418.2L1595.8 419.6L1598.2 421.3L1600.7 423.3L1603.1 425.2L1605.6 426.7L1608.0 428.3L1610.5 430.0L1612.9 431.2L1615.4 432.6L1617.8 435.3L1620.3 437.7L1622.7 439.5L1625.2 441.5L1627.6 443.1L1630.1 445.0L1632.5 446.5L1635.0 448.0L1637.4 449.1L1639.9 450.1L1642.3 451.2L1644.8 452.0" stroke="#6a2bff" stroke-width="1.15" fill="none" opacity="0.9"/>
<path d="M58.9 698.5L61.4 697.9L63.8 696.9L66.3 695.7L68.7 694.2L71.2 692.5L73.6 690.8L76.1 689.2L78.5 687.3L81.0 685.6L83.4 684.0L85.9 682.3L88.3 680.5L90.8 678.1L93.2 675.8L95.7 673.3L98.1 671.2L100.6 669.1L103.0 666.7L105.5 664.2L107.9 662.0L110.4 659.9L112.8 658.4L115.3 657.3L117.7 656.5L120.2 655.8L122.6 655.0L125.1 654.2L127.5 653.4L130.0 652.4L132.4 651.2L134.9 650.0L137.3 648.9L139.8 648.3L142.2 647.9L144.7 647.6L147.1 647.1L149.6 646.6L152.0 646.1L154.5 645.4L156.9 645.2L159.4 644.9L161.8 644.3L164.3 643.4L166.8 642.3L169.2 641.2L171.7 640.7L174.1 639.8L176.6 638.8L179.0 638.1L181.5 637.4L183.9 636.8L186.4 636.3L188.8 635.7L191.3 635.1L193.7 634.3L196.2 633.5L198.6 632.9L201.1 632.5L203.5 632.4L206.0 631.7L208.4 630.6L210.9 629.8L213.3 629.0L215.8 628.5L218.2 627.8L220.7 626.6L223.1 626.1L225.6 625.7L228.0 624.9L230.5 623.9L232.9 622.8L235.4 621.8L237.8 621.1L240.3 620.6L242.7 620.2L245.2 620.0L247.6 619.3L250.1 618.6L252.5 618.0L255.0 618.0L257.4 618.5L259.9 618.9L262.3 619.2L264.8 619.6L267.2 619.9L269.7 620.8L272.2 621.1L274.6 621.6L277.1 622.4L279.5 623.5L282.0 624.5L284.4 625.1L286.9 625.7L289.3 626.2L291.8 626.3L294.2 626.4L296.7 626.3L299.1 626.4L301.6 626.5L304.0 626.5L306.5 626.3L308.9 626.5L311.4 626.7L313.8 627.0L316.3 627.0L318.7 626.6L321.2 626.4L323.6 626.1L326.1 625.5L328.5 624.8L331.0 624.4L333.4 624.1L335.9 623.4L338.3 622.8L340.8 622.1L343.2 621.1L345.7 620.6L348.1 620.1L350.6 620.2L353.0 620.1L355.5 619.8L357.9 619.5L360.4 619.4L362.8 619.1L365.3 618.9L367.7 618.8L370.2 618.5L372.6 618.0L375.1 617.8L377.6 617.5L380.0 617.2L382.5 616.9L384.9 616.8L387.4 616.6L389.8 616.6L392.3 616.8L394.7 617.0L397.2 617.3L399.6 616.9L402.1 616.7L404.5 616.3L407.0 615.7L409.4 615.3L411.9 614.8L414.3 614.2L416.8 613.8L419.2 613.6L421.7 613.8L424.1 614.1L426.6 614.6L429.0 615.2L431.5 615.6L433.9 616.4L436.4 617.5L438.8 618.7L441.3 619.7L443.7 620.7L446.2 621.8L448.6 622.8L451.1 623.7L453.5 625.1L456.0 626.5L458.4 627.3L460.9 628.2L463.3 629.3L465.8 630.7L468.2 631.9L470.7 632.9L473.1 633.7L475.6 634.4L478.0 635.4L480.5 636.3L483.0 637.4L485.4 638.2L487.9 639.1L490.3 639.9L492.8 640.8L495.2 641.4L497.7 642.0L500.1 642.5L502.6 642.8L505.0 643.3L507.5 643.9L509.9 644.7L512.4 645.8L514.8 646.3L517.3 647.2L519.7 648.0L522.2 649.2L524.6 650.2L527.1 650.8L529.5 651.6L532.0 652.0L534.4 652.5L536.9 653.1L539.3 653.6L541.8 654.3L544.2 654.7L546.7 655.4L549.1 655.9L551.6 656.7L554.0 657.3L556.5 658.1L558.9 658.7L561.4 659.1L563.8 659.4L566.3 659.2L568.7 659.3L571.2 658.9L573.6 658.2L576.1 657.4L578.5 656.4L581.0 655.0L583.4 653.4L585.9 651.8L588.4 650.0L590.8 647.9L593.3 645.4L595.7 642.6L598.2 639.3L600.6 635.4L603.1 630.6L605.5 625.3L608.0 619.9L610.4 614.2L612.9 608.9L615.3 603.5L617.8 597.5L620.2 591.9L622.7 586.9L625.1 582.0L627.6 577.4L630.0 572.8L632.5 568.1L634.9 563.4L637.4 558.9L639.8 554.5L642.3 550.6L644.7 546.8L647.2 543.8L649.6 541.0L652.1 539.0L654.5 536.9L657.0 535.7L659.4 535.7L661.9 535.6L664.3 535.5L666.8 536.0L669.2 536.3L671.7 536.6L674.1 537.2L676.6 537.7L679.0 538.3L681.5 538.9L683.9 539.6L686.4 540.1L688.8 541.0L691.3 542.2L693.8 543.7L696.2 545.0L698.7 546.2L701.1 547.7L703.6 549.4L706.0 550.3L708.5 550.1L710.9 549.5L713.4 549.0L715.8 548.2L718.3 547.4L720.7 546.5L723.2 545.6L725.6 544.9L728.1 544.4L730.5 543.7L733.0 543.0L735.4 542.5L737.9 541.8L740.3 541.3L742.8 540.6L745.2 540.3L747.7 540.4L750.1 540.9L752.6 540.8L755.0 540.5L757.5 540.8L759.9 541.3L762.4 542.0L764.8 543.0L767.3 544.2L769.7 545.3L772.2 546.4L774.6 547.4L777.1 548.5L779.5 549.8L782.0 550.9L784.4 551.8L786.9 552.7L789.3 553.5L791.8 554.6L794.2 555.3L796.7 556.0L799.2 556.6L801.6 558.1L804.1 559.9L806.5 562.3L809.0 564.9L811.4 567.6L813.9 569.6L816.3 572.1L818.8 574.7L821.2 576.9L823.7 579.2L826.1 581.6L828.6 584.1L831.0 586.4L833.5 588.7L835.9 590.4L838.4 591.6L840.8 592.5L843.3 593.5L845.7 594.4L848.2 595.1L850.6 595.7L853.1 596.7L855.5 597.3L858.0 597.1L860.4 596.7L862.9 596.5L865.3 595.9L867.8 594.7L870.2 593.4L872.7 591.9L875.1 590.3L877.6 588.4L880.0 586.1L882.5 584.3L884.9 582.5L887.4 580.8L889.8 579.3L892.3 577.2L894.7 574.7L897.2 572.3L899.6 569.7L902.1 566.7L904.5 563.3L907.0 560.6L909.5 557.7L911.9 554.6L914.4 551.7L916.8 549.3L919.3 547.1L921.7 544.7L924.2 542.5L926.6 540.5L929.1 539.0L931.5 536.8L934.0 534.5L936.4 532.0L938.9 529.0L941.3 526.3L943.8 524.2L946.2 521.9L948.7 519.7L951.1 517.4L953.6 514.8L956.0 512.3L958.5 510.1L960.9 508.3L963.4 505.8L965.8 503.4L968.3 501.1L970.7 498.1L973.2 494.1L975.6 486.8L978.1 479.3L980.5 472.3L983.0 465.5L985.4 458.9L987.9 452.5L990.3 446.4L992.8 440.3L995.2 435.2L997.7 430.5L1000.1 425.2L1002.6 419.0L1005.0 413.0L1007.5 406.2L1009.9 398.8L1012.4 391.3L1014.9 382.8L1017.3 373.2L1019.8 364.9L1022.2 357.7L1024.7 353.2L1027.1 349.5L1029.6 346.6L1032.0 344.1L1034.5 342.0L1036.9 340.9L1039.4 338.7L1041.8 335.5L1044.3 331.5L1046.7 326.8L1049.2 322.4L1051.6 319.0L1054.1 316.0L1056.5 314.0L1059.0 312.6L1061.4 311.6L1063.9 311.4L1066.3 312.2L1068.8 312.1L1071.2 311.1L1073.7 310.3L1076.1 308.8L1078.6 306.4L1081.0 304.3L1083.5 301.7L1085.9 298.6L1088.4 296.0L1090.8 294.8L1093.3 293.8L1095.7 293.2L1098.2 293.2L1100.6 292.6L1103.1 291.7L1105.5 290.6L1108.0 290.0L1110.4 289.2L1112.9 288.8L1115.3 288.6L1117.8 288.0L1120.3 288.3L1122.7 288.9L1125.2 289.4L1127.6 289.9L1130.1 291.1L1132.5 292.9L1135.0 295.7L1137.4 298.2L1139.9 300.3L1142.3 302.2L1144.8 304.3L1147.2 305.8L1149.7 308.0L1152.1 310.1L1154.6 312.2L1157.0 313.8L1159.5 315.8L1161.9 318.0L1164.4 320.7L1166.8 323.9L1169.3 327.4L1171.7 331.5L1174.2 336.0L1176.6 340.4L1179.1 343.4L1181.5 346.0L1184.0 347.0L1186.4 348.3L1188.9 349.5L1191.3 350.0L1193.8 349.4L1196.2 349.7L1198.7 350.1L1201.1 350.6L1203.6 350.6L1206.0 350.3L1208.5 349.8L1210.9 348.9L1213.4 347.9L1215.8 346.9L1218.3 345.8L1220.7 342.8L1223.2 338.8L1225.7 335.5L1228.1 332.1L1230.6 332.1L1233.0 334.0L1235.5 334.9L1237.9 336.9L1240.4 338.8L1242.8 342.6L1245.3 346.2L1247.7 349.1L1250.2 351.6L1252.6 355.8L1255.1 360.7L1257.5 363.7L1260.0 366.3L1262.4 368.6L1264.9 370.6L1267.3 372.1L1269.8 375.5L1272.2 380.5L1274.7 385.1L1277.1 390.5L1279.6 391.9L1282.0 391.8L1284.5 393.3L1286.9 394.7L1289.4 396.3L1291.8 397.7L1294.3 398.5L1296.7 400.0L1299.2 401.6L1301.6 402.5L1304.1 402.9L1306.5 405.5L1309.0 408.6L1311.4 412.1L1313.9 416.3L1316.3 420.8L1318.8 424.9L1321.2 428.5L1323.7 430.8L1326.1 433.3L1328.6 438.1L1331.1 443.6L1333.5 448.7L1336.0 453.8L1338.4 458.9L1340.9 462.9L1343.3 467.7L1345.8 472.7L1348.2 478.1L1350.7 483.1L1353.1 487.1L1355.6 491.5L1358.0 495.7L1360.5 499.8L1362.9 503.6L1365.4 506.7L1367.8 509.2L1370.3 510.8L1372.7 513.9L1375.2 515.1L1377.6 514.5L1380.1 513.0L1382.5 512.0L1385.0 510.0L1387.4 507.9L1389.9 506.3L1392.3 503.7L1394.8 500.1L1397.2 495.6L1399.7 490.7L1402.1 486.3L1404.6 481.3L1407.0 475.8L1409.5 470.3L1411.9 464.6L1414.4 459.6L1416.8 454.8L1419.3 450.4L1421.7 445.6L1424.2 442.1L1426.6 438.4L1429.1 435.0L1431.5 431.2L1434.0 427.3L1436.5 423.6L1438.9 419.8L1441.4 416.0L1443.8 412.5L1446.3 410.1L1448.7 408.5L1451.2 407.6L1453.6 406.5L1456.1 405.9L1458.5 405.4L1461.0 405.2L1463.4 404.8L1465.9 404.5L1468.3 404.5L1470.8 404.6L1473.2 404.3L1475.7 403.2L1478.1 402.3L1480.6 401.3L1483.0 401.0L1485.5 401.3L1487.9 401.6L1490.4 402.9L1492.8 404.5L1495.3 403.2L1497.7 402.5L1500.2 402.1L1502.6 401.9L1505.1 401.8L1507.5 401.7L1510.0 402.1L1512.4 402.8L1514.9 404.4L1517.3 405.7L1519.8 406.6L1522.2 407.8L1524.7 409.7L1527.1 411.5L1529.6 412.5L1532.0 413.2L1534.5 413.2L1536.9 413.3L1539.4 413.2L1541.9 413.3L1544.3 415.3L1546.8 416.2L1549.2 416.2L1551.7 416.1L1554.1 416.0L1556.6 415.7L1559.0 414.6L1561.5 414.1L1563.9 412.7L1566.4 411.6L1568.8 411.3L1571.3 411.4L1573.7 411.7L1576.2 412.3L1578.6 414.6L1581.1 416.9L1583.5 419.4L1586.0 422.4L1588.4 425.6L1590.9 428.6L1593.3 431.8L1595.8 435.2L1598.2 438.6L1600.7 442.9L1603.1 446.8L1605.6 450.4L1608.0 454.5L1610.5 458.0L1612.9 461.3L1615.4 464.8L1617.8 468.6L1620.3 472.6L1622.7 475.8L1625.2 479.1L1627.6 481.1L1630.1 483.1L1632.5 485.3L1635.0 487.1L1637.4 487.9L1639.9 488.7L1642.3 489.2L1644.8 488.7" stroke="#2b2bff" stroke-width="1.15" fill="none" opacity="0.9"/>
<path d="M58.5 688.0V698.8M61.5 682.0V688.5M63.5 674.9V690.2M66.5 673.8V679.2M68.5 666.8V676.7M71.5 660.8V672.0M76.5 659.7V668.4M78.5 659.8V666.1M85.5 657.7V669.4M88.5 661.2V667.8M90.5 649.3V664.4M93.5 647.0V654.3M103.5 650.6V657.9M105.5 648.4V655.4M107.5 644.0V652.7M117.5 652.5V660.5M120.5 648.3V658.4M122.5 647.5V656.1M125.5 645.3V651.8M127.5 642.0V653.7M129.5 638.3V651.1M134.5 636.4V646.5M137.5 636.9V644.9M152.5 641.2V648.8M154.5 634.3V644.6M161.5 633.9V644.7M166.5 626.7V642.3M169.5 626.2V633.2M174.5 628.8V640.8M176.5 620.8V630.9M181.5 626.5V637.2M188.5 629.2V634.4M193.5 626.7V633.9M201.5 633.8V638.8M203.5 633.9V636.7M205.5 624.4V635.0M208.5 611.4V625.3M210.5 616.7V620.7M215.5 618.2V625.9M218.5 614.1V621.7M220.5 611.6V617.4M228.5 612.7V625.1M230.5 606.1V616.5M232.5 601.8V611.3M240.5 615.6V623.5M247.5 615.0V625.2M259.5 622.5V631.5M264.5 625.4V632.6M267.5 624.3V631.0M272.5 623.6V629.7M281.5 625.2V631.4M284.5 620.6V627.0M289.5 625.2V631.3M291.5 620.6V629.1M296.5 614.9V627.6M316.5 625.1V633.9M318.5 614.0V625.6M323.5 620.2V629.1M326.5 611.7V623.2M328.5 614.1V622.4M335.5 612.7V619.8M338.5 612.4V615.9M340.5 610.6V614.6M343.5 606.0V611.9M353.5 618.1V626.9M355.5 617.9V624.8M362.5 624.2V635.2M365.5 622.1V626.2M367.5 618.2V627.4M370.5 614.4V620.9M372.5 612.5V617.6M377.5 610.5V616.1M384.5 611.3V617.9M387.5 605.6V611.5M404.5 613.9V619.7M406.5 608.4V620.5M411.5 613.1V624.7M414.5 609.0V618.6M431.5 618.5V627.5M441.5 629.1V636.4M443.5 631.1V634.6M448.5 634.5V642.4M451.5 636.9V641.2M458.5 634.3V641.6M460.5 634.1V636.5M463.5 628.8V635.0M468.5 630.5V642.1M475.5 635.6V638.9M480.5 634.3V647.6M490.5 642.2V659.1M497.5 642.6V660.9M500.5 647.3V657.9M502.5 639.9V649.8M505.5 648.4V651.0M507.5 648.2V653.8M514.5 643.4V656.8M519.5 652.5V658.7M524.5 653.4V662.6M527.5 653.7V658.1M539.5 651.8V663.3M541.5 662.4V665.2M546.5 662.9V663.7M549.5 658.0V665.5M554.5 656.6V668.4M558.5 660.0V668.1M561.5 660.4V666.5M563.5 654.4V661.1M566.5 648.9V660.6M571.5 648.7V658.5M573.5 636.7V652.6M576.5 636.7V642.9M578.5 632.2V643.4M580.5 621.3V635.2M588.5 625.7V631.1M590.5 620.5V625.4M593.5 607.4V623.1M595.5 607.2V612.0M598.5 591.8V605.5M600.5 583.7V593.6M603.5 560.3V586.8M605.5 559.2V567.5M607.5 553.7V562.1M610.5 541.6V559.1M615.5 541.6V552.8M617.5 532.8V543.7M625.5 539.1V544.3M630.5 535.8V542.4M632.5 533.8V538.0M637.5 534.1V536.8M639.5 531.7V538.8M642.5 532.0V536.0M647.5 528.9V535.4M649.5 526.9V535.2M652.5 522.5V532.2M654.5 515.9V526.9M661.5 542.5V547.7M664.5 541.3V551.7M669.5 536.4V547.2M679.5 547.4V556.3M683.5 547.8V551.9M696.5 556.0V560.4M698.5 552.0V565.0M701.5 550.8V556.0M706.5 550.6V551.7M708.5 537.8V555.8M710.5 530.9V540.7M713.5 529.6V539.0M715.5 524.7V532.8M718.5 525.2V532.3M728.5 536.4V540.1M730.5 530.7V546.9M747.5 554.4V559.7M752.5 546.2V563.8M755.5 541.0V549.4M759.5 543.7V551.7M774.5 553.0V562.6M779.5 557.6V564.3M781.5 557.0V559.3M784.5 552.5V562.1M794.5 565.6V572.4M796.5 567.3V570.1M804.5 578.9V587.9M813.5 586.7V600.0M821.5 597.7V609.7M823.5 602.5V611.7M831.5 600.4V611.8M833.5 596.3V605.2M835.5 588.4V601.5M838.5 584.6V594.1M840.5 582.1V591.1M845.5 583.0V590.7M857.5 587.3V605.9M860.5 590.6V603.0M862.5 585.5V593.8M867.5 577.7V589.0M870.5 572.8V584.2M872.5 571.6V579.5M877.5 570.2V580.1M880.5 553.1V571.8M884.5 554.3V568.2M887.5 549.4V555.4M892.5 543.6V557.4M894.5 537.0V547.9M899.5 536.5V542.8M902.5 537.1V548.4M907.5 538.5V540.3M909.5 529.4V541.1M911.5 523.4V537.1M919.5 529.5V536.0M921.5 526.2V534.9M931.5 518.1V538.9M933.5 505.0V523.0M936.5 497.6V514.2M938.5 492.4V506.5M946.5 495.5V497.0M951.5 488.6V497.4M953.5 486.7V494.4M956.5 487.0V494.9M963.5 476.6V488.9M970.5 462.2V479.8M973.5 443.5V471.1M975.5 383.4V436.9M978.5 373.0V386.7M982.5 373.2V381.1M987.5 361.7V375.3M1000.5 384.3V407.6M1002.5 361.4V382.4M1009.5 337.0V355.2M1012.5 327.7V345.0M1014.5 314.7V329.4M1017.5 293.5V319.5M1024.5 289.5V309.1M1032.5 319.8V328.8M1039.5 326.8V344.7M1041.5 309.1V337.3M1044.5 308.8V320.1M1046.5 306.7V318.8M1049.5 296.5V309.5M1061.5 304.9V319.0M1066.5 305.4V315.1M1068.5 300.4V310.9M1071.5 283.2V301.6M1073.5 277.1V288.2M1083.5 275.0V282.6M1088.5 275.3V282.6M1100.5 284.5V293.7M1117.5 286.0V302.4M1120.5 286.8V291.6M1125.5 281.7V295.2M1137.5 326.3V330.1M1147.5 327.5V334.3M1176.5 372.2V379.7M1179.5 365.2V375.6M1183.5 354.7V364.4M1186.5 350.9V357.1M1188.5 346.1V353.5M1191.5 341.8V355.8M1193.5 319.8V353.8M1203.5 331.4V349.5M1206.5 326.1V340.0M1220.5 308.6V343.9M1223.5 291.0V310.0M1228.5 295.5V312.6M1235.5 369.2V388.7M1240.5 382.2V388.3M1247.5 395.8V401.9M1257.5 385.7V425.4M1259.5 379.6V386.6M1262.5 378.6V397.2M1264.5 372.1V387.9M1267.5 368.9V394.4M1279.5 393.5V403.5M1294.5 419.8V429.8M1323.5 444.8V463.4M1340.5 504.0V518.7M1350.5 529.3V539.0M1353.5 513.3V530.0M1365.5 520.6V529.8M1367.5 509.5V523.9M1370.5 498.2V511.3M1375.5 479.7V507.7M1380.5 470.6V475.8M1384.5 474.6V486.7M1387.5 475.3V483.5M1389.5 475.8V483.6M1392.5 457.1V475.4M1394.5 451.9V463.5M1397.5 444.4V452.1M1399.5 431.4V446.7M1402.5 426.9V430.8M1407.5 419.2V432.9M1409.5 421.6V423.4M1411.5 416.9V422.1M1416.5 410.5V420.6M1419.5 410.4V415.1M1421.5 409.9V417.5M1424.5 404.2V415.7M1426.5 404.1V408.9M1429.5 403.2V410.0M1431.5 404.9V410.3M1434.5 398.9V408.0M1438.5 396.3V402.5M1441.5 388.4V400.8M1443.5 378.8V394.4M1453.5 404.1V411.1M1463.5 408.3V417.6M1465.5 407.9V416.8M1468.5 409.5V413.4M1473.5 402.5V409.4M1475.5 382.3V404.9M1492.5 412.3V419.5M1495.5 367.9V395.2M1517.5 433.3V444.9M1519.5 427.2V437.2M1522.5 423.7V433.1M1524.5 415.9V427.0M1529.5 402.4V419.8M1534.5 406.2V411.2M1541.5 411.6V415.9M1544.5 407.9V415.8M1546.5 402.6V410.1M1549.5 398.9V410.8M1551.5 396.4V404.5M1556.5 401.2V408.5M1559.5 397.8V408.6M1563.5 411.4V418.5M1576.5 428.4V439.5M1598.5 466.8V474.4M1605.5 472.3V484.5M1612.5 479.8V485.8M1622.5 487.6V505.7M1627.5 482.3V502.4M1637.5 491.8V503.1M1639.5 487.6V496.9M1642.5 484.7V490.7M1644.5 460.2V490.0" stroke="#8fb3b8" stroke-width="1" fill="none"/>
<path d="M73.5 661.3V667.1M80.5 656.1V664.2M83.5 660.5V667.2M95.5 644.5V654.8M98.5 650.2V659.6M100.5 656.2V662.2M110.5 642.3V650.1M112.5 645.2V650.1M115.5 649.7V655.6M132.5 641.4V642.6M139.5 635.9V644.0M142.5 635.6V647.0M144.5 637.8V648.2M147.5 640.0V651.8M149.5 645.4V649.1M156.5 629.1V642.8M159.5 633.8V641.8M164.5 631.5V637.1M171.5 627.9V642.0M179.5 627.3V633.5M183.5 628.0V629.4M186.5 626.2V632.5M191.5 628.2V633.1M196.5 628.9V633.2M198.5 628.2V636.6M213.5 617.9V623.0M223.5 611.0V621.5M225.5 612.1V621.0M235.5 604.5V615.7M237.5 611.2V616.6M242.5 616.9V625.6M245.5 618.9V625.7M250.5 613.8V621.3M252.5 618.6V625.9M254.5 621.9V629.3M257.5 619.1V638.1M262.5 620.7V628.6M269.5 627.1V633.4M274.5 625.1V630.7M277.5 624.5V630.5M279.5 625.8V632.1M286.5 624.4V630.8M294.5 621.0V634.4M299.5 619.8V622.1M301.5 620.7V625.6M304.5 620.6V630.3M306.5 622.5V631.5M308.5 625.8V633.1M311.5 623.7V632.3M313.5 630.4V636.9M321.5 618.6V622.9M330.5 615.9V622.6M333.5 615.8V621.6M345.5 607.7V614.8M348.5 608.7V614.0M350.5 606.9V626.9M357.5 617.9V625.9M360.5 622.0V631.9M375.5 605.1V617.2M380.5 609.4V612.5M382.5 607.2V616.4M389.5 602.7V617.6M392.5 611.0V613.8M394.5 606.2V615.1M397.5 614.6V618.4M399.5 611.5V619.7M402.5 614.8V619.3M409.5 605.3V622.7M416.5 606.0V612.2M419.5 606.0V615.0M421.5 610.1V620.8M424.5 615.3V620.4M426.5 616.8V624.1M429.5 616.4V625.6M433.5 615.7V628.8M436.5 628.0V633.3M438.5 631.2V642.8M446.5 629.8V640.2M453.5 634.1V643.0M455.5 638.1V640.7M465.5 629.3V643.5M470.5 632.6V638.0M473.5 630.0V636.8M478.5 635.0V643.4M482.5 633.1V649.5M485.5 646.9V652.1M487.5 648.1V654.5M492.5 649.6V652.1M495.5 647.9V654.2M509.5 645.0V652.4M512.5 649.1V659.4M517.5 648.0V658.5M522.5 653.7V658.5M529.5 652.3V658.1M531.5 645.1V660.4M534.5 652.6V662.3M536.5 661.8V664.3M544.5 659.9V662.6M551.5 657.1V661.9M556.5 657.7V667.4M568.5 651.9V656.9M583.5 625.5V630.5M585.5 627.9V629.6M612.5 544.8V550.4M620.5 535.7V540.2M622.5 534.7V543.8M627.5 538.0V544.6M634.5 533.7V536.7M644.5 530.8V532.8M656.5 516.4V535.3M659.5 530.5V546.4M666.5 535.2V546.7M671.5 539.2V551.5M674.5 549.4V555.3M676.5 547.7V555.5M681.5 544.7V551.9M686.5 544.6V548.3M688.5 542.1V553.4M691.5 555.2V558.2M693.5 555.1V562.6M703.5 548.0V552.2M720.5 524.7V531.7M723.5 526.9V535.8M725.5 534.5V540.0M732.5 531.1V536.0M735.5 532.6V537.5M737.5 532.3V548.9M740.5 534.0V547.9M742.5 542.7V548.2M745.5 546.4V554.3M750.5 552.9V565.1M757.5 544.0V546.1M762.5 539.6V548.8M764.5 539.0V551.1M767.5 541.2V553.9M769.5 552.1V553.9M772.5 551.5V563.7M777.5 556.7V561.4M786.5 551.7V560.7M789.5 554.0V564.9M791.5 560.7V574.9M799.5 562.9V577.3M801.5 572.8V584.4M806.5 578.9V594.0M808.5 589.6V599.9M811.5 598.0V600.7M816.5 586.3V602.4M818.5 598.4V606.6M826.5 601.9V608.0M828.5 605.3V610.9M843.5 586.6V587.7M848.5 587.2V590.3M850.5 590.3V595.7M853.5 592.8V599.6M855.5 601.2V607.0M865.5 584.2V588.7M875.5 574.1V575.3M882.5 556.8V564.8M889.5 549.5V559.5M897.5 533.9V545.8M904.5 537.5V542.2M914.5 525.8V529.4M916.5 525.2V537.4M924.5 523.4V534.2M926.5 527.7V534.4M929.5 526.8V530.1M941.5 489.2V494.2M943.5 495.8V497.4M948.5 494.2V499.3M958.5 486.2V490.4M960.5 483.5V490.0M965.5 476.2V488.8M968.5 477.3V486.5M980.5 372.9V382.0M985.5 363.2V371.1M990.5 363.1V372.1M992.5 364.8V380.3M995.5 384.8V393.8M997.5 394.7V403.7M1005.5 365.6V370.0M1007.5 345.5V354.9M1019.5 284.6V304.1M1022.5 296.1V305.6M1027.5 293.5V307.9M1029.5 313.1V326.9M1034.5 321.6V329.0M1036.5 324.9V345.0M1051.5 291.4V298.6M1054.5 289.9V307.8M1056.5 308.7V312.9M1058.5 310.2V316.3M1063.5 306.1V314.1M1076.5 271.1V274.3M1078.5 271.1V275.6M1081.5 270.9V281.1M1085.5 274.8V280.8M1090.5 268.8V288.5M1093.5 284.1V298.9M1095.5 283.9V297.0M1098.5 293.7V301.9M1103.5 279.1V291.6M1105.5 289.2V291.9M1107.5 290.8V300.5M1110.5 294.1V296.8M1112.5 297.9V308.0M1115.5 299.0V305.9M1122.5 287.6V294.9M1127.5 280.7V290.3M1130.5 282.9V310.2M1132.5 301.2V315.3M1134.5 311.8V336.9M1139.5 325.6V330.3M1142.5 325.0V334.0M1144.5 334.2V337.3M1149.5 321.5V330.3M1152.5 328.9V333.1M1154.5 329.4V333.4M1157.5 330.8V340.8M1159.5 332.2V338.9M1161.5 333.8V350.0M1164.5 345.5V361.0M1166.5 350.2V355.3M1169.5 349.5V362.5M1171.5 360.3V373.2M1174.5 370.4V377.0M1181.5 363.8V366.9M1196.5 312.7V336.9M1198.5 328.4V340.4M1201.5 336.7V343.7M1208.5 319.6V331.0M1210.5 319.3V331.2M1213.5 324.4V337.3M1215.5 331.0V336.4M1218.5 331.8V341.0M1225.5 287.9V308.2M1230.5 304.2V369.4M1233.5 367.4V399.0M1237.5 369.1V392.3M1242.5 379.9V404.1M1245.5 401.1V405.2M1250.5 387.1V395.7M1252.5 392.4V414.7M1255.5 407.9V430.7M1269.5 364.8V380.6M1272.5 366.9V394.1M1274.5 386.5V401.6M1277.5 401.8V406.1M1282.5 387.1V393.0M1284.5 396.4V401.0M1286.5 391.5V419.8M1289.5 413.9V417.4M1291.5 413.7V429.0M1296.5 418.4V425.5M1299.5 424.8V431.7M1301.5 426.5V435.2M1304.5 430.6V441.8M1306.5 432.3V438.8M1308.5 433.9V446.5M1311.5 443.3V453.4M1313.5 447.4V457.3M1316.5 457.0V461.4M1318.5 457.7V461.7M1321.5 460.4V466.8M1326.5 446.6V456.6M1328.5 466.4V496.7M1331.5 485.0V505.3M1333.5 491.3V503.1M1335.5 505.1V520.1M1338.5 513.3V519.7M1343.5 499.9V517.5M1345.5 513.3V527.2M1348.5 524.8V536.3M1355.5 522.4V530.8M1358.5 522.7V528.8M1360.5 528.2V534.1M1362.5 518.2V534.4M1372.5 494.0V509.3M1377.5 472.8V478.1M1382.5 467.9V484.0M1404.5 420.5V428.5M1414.5 417.6V428.0M1436.5 393.0V403.4M1446.5 380.2V402.7M1448.5 392.6V401.0M1451.5 397.5V411.2M1456.5 406.2V412.4M1458.5 399.5V411.6M1460.5 408.4V418.0M1470.5 412.4V413.9M1478.5 382.0V385.3M1480.5 384.1V385.7M1483.5 385.0V398.9M1485.5 397.0V410.0M1487.5 397.9V403.8M1490.5 402.7V421.6M1497.5 366.6V388.7M1500.5 380.4V405.6M1502.5 397.8V404.3M1505.5 398.4V409.9M1507.5 400.7V412.6M1509.5 401.2V426.4M1512.5 424.9V427.6M1514.5 418.2V442.5M1527.5 419.8V421.4M1532.5 402.6V416.3M1536.5 401.3V409.3M1539.5 403.8V416.5M1554.5 396.5V405.9M1561.5 400.2V417.7M1566.5 410.6V417.1M1568.5 410.9V427.3M1571.5 418.7V429.0M1573.5 427.5V428.4M1578.5 430.7V450.8M1581.5 448.1V460.3M1583.5 456.2V459.9M1585.5 446.0V468.9M1588.5 463.4V482.0M1590.5 467.4V476.8M1593.5 470.7V478.5M1595.5 472.9V478.2M1600.5 466.7V486.5M1603.5 477.3V484.8M1608.5 474.6V492.8M1610.5 478.1V488.3M1615.5 479.3V485.5M1617.5 487.1V503.5M1620.5 502.5V507.9M1625.5 487.8V501.8M1630.5 483.6V504.7M1632.5 498.0V505.1M1634.5 500.2V504.1" stroke="#f08c8c" stroke-width="1" fill="none"/>
<path d="M57.5 689.4h2v9.1h-2zM60.5 687.1h2v1.2h-2zM62.5 678.8h2v11.0h-2zM65.5 675.6h2v2.1h-2zM67.5 668.3h2v7.5h-2zM70.5 664.7h2v2.9h-2zM75.5 664.9h2v2.4h-2zM77.5 662.0h2v3.2h-2zM84.5 665.4h2v2.5h-2zM87.5 662.5h2v4.8h-2zM89.5 652.9h2v11.4h-2zM92.5 651.3h2v1.2h-2zM102.5 652.7h2v1.6h-2zM104.5 648.8h2v4.6h-2zM106.5 644.7h2v5.0h-2zM116.5 652.8h2v2.2h-2zM119.5 651.5h2v1.2h-2zM121.5 649.1h2v2.4h-2zM124.5 647.2h2v3.7h-2zM126.5 646.6h2v1.2h-2zM128.5 642.8h2v4.8h-2zM133.5 641.3h2v1.3h-2zM136.5 640.0h2v1.4h-2zM151.5 643.1h2v5.4h-2zM153.5 635.8h2v7.2h-2zM160.5 635.6h2v5.1h-2zM165.5 630.8h2v4.7h-2zM168.5 630.7h2v2.2h-2zM173.5 629.1h2v9.9h-2zM175.5 627.1h2v1.5h-2zM180.5 628.5h2v3.7h-2zM187.5 629.5h2v2.1h-2zM192.5 629.0h2v1.2h-2zM200.5 634.6h2v2.3h-2zM202.5 634.5h2v1.2h-2zM204.5 625.9h2v8.9h-2zM207.5 619.0h2v5.7h-2zM209.5 618.3h2v1.2h-2zM214.5 619.5h2v1.8h-2zM217.5 617.7h2v1.4h-2zM219.5 613.5h2v1.9h-2zM227.5 613.5h2v6.5h-2zM229.5 608.3h2v5.2h-2zM231.5 606.8h2v1.3h-2zM239.5 617.7h2v1.2h-2zM246.5 621.4h2v2.7h-2zM258.5 626.4h2v2.5h-2zM263.5 626.1h2v2.5h-2zM266.5 625.2h2v1.4h-2zM271.5 626.7h2v2.4h-2zM280.5 626.5h2v3.5h-2zM283.5 624.6h2v2.3h-2zM288.5 626.5h2v2.8h-2zM290.5 624.9h2v2.5h-2zM295.5 621.0h2v6.1h-2zM315.5 626.5h2v7.2h-2zM317.5 622.4h2v1.9h-2zM322.5 622.1h2v1.6h-2zM325.5 617.6h2v2.9h-2zM327.5 616.2h2v1.2h-2zM334.5 614.6h2v3.1h-2zM337.5 612.6h2v1.2h-2zM339.5 611.6h2v1.2h-2zM342.5 608.0h2v3.9h-2zM352.5 623.6h2v2.7h-2zM354.5 620.9h2v2.2h-2zM361.5 625.6h2v3.7h-2zM364.5 622.4h2v3.3h-2zM366.5 619.5h2v5.9h-2zM369.5 616.1h2v4.0h-2zM371.5 613.6h2v1.6h-2zM376.5 611.7h2v1.4h-2zM383.5 612.1h2v1.2h-2zM386.5 609.4h2v2.0h-2zM403.5 614.3h2v4.4h-2zM405.5 610.9h2v1.8h-2zM410.5 615.9h2v5.3h-2zM413.5 610.8h2v5.9h-2zM430.5 621.4h2v4.5h-2zM440.5 633.3h2v1.6h-2zM442.5 632.7h2v1.2h-2zM447.5 638.7h2v1.2h-2zM450.5 637.2h2v2.2h-2zM457.5 636.4h2v2.8h-2zM459.5 634.6h2v1.3h-2zM462.5 631.5h2v1.3h-2zM467.5 637.9h2v2.6h-2zM474.5 635.6h2v2.6h-2zM479.5 640.1h2v2.3h-2zM489.5 649.8h2v4.1h-2zM496.5 650.5h2v4.5h-2zM499.5 647.5h2v4.6h-2zM501.5 646.6h2v1.2h-2zM504.5 648.4h2v1.3h-2zM506.5 647.9h2v1.2h-2zM513.5 648.7h2v6.0h-2zM518.5 653.8h2v2.3h-2zM523.5 656.5h2v2.1h-2zM526.5 654.8h2v1.7h-2zM538.5 661.1h2v2.2h-2zM540.5 663.0h2v1.6h-2zM545.5 662.7h2v1.2h-2zM548.5 659.1h2v4.0h-2zM553.5 660.6h2v2.6h-2zM557.5 663.0h2v2.6h-2zM560.5 660.6h2v5.0h-2zM562.5 654.6h2v5.7h-2zM565.5 651.6h2v1.3h-2zM570.5 650.5h2v3.7h-2zM572.5 642.6h2v7.7h-2zM575.5 639.5h2v2.4h-2zM577.5 634.3h2v4.6h-2zM579.5 628.0h2v4.5h-2zM587.5 626.2h2v3.9h-2zM589.5 621.6h2v3.6h-2zM592.5 610.7h2v12.0h-2zM594.5 607.6h2v3.3h-2zM597.5 593.0h2v12.1h-2zM599.5 583.9h2v8.5h-2zM602.5 564.4h2v19.7h-2zM604.5 559.3h2v6.8h-2zM606.5 555.7h2v4.7h-2zM609.5 546.3h2v9.1h-2zM614.5 543.5h2v4.1h-2zM616.5 535.6h2v7.1h-2zM624.5 540.5h2v3.7h-2zM629.5 536.3h2v5.7h-2zM631.5 534.6h2v1.6h-2zM636.5 535.5h2v1.2h-2zM638.5 534.1h2v2.3h-2zM641.5 532.2h2v1.2h-2zM646.5 532.6h2v1.2h-2zM648.5 528.7h2v3.6h-2zM651.5 523.7h2v4.8h-2zM653.5 518.0h2v7.1h-2zM660.5 545.2h2v1.5h-2zM663.5 542.5h2v1.5h-2zM668.5 543.8h2v1.9h-2zM678.5 547.6h2v5.9h-2zM682.5 547.8h2v1.2h-2zM695.5 558.7h2v1.7h-2zM697.5 554.0h2v4.9h-2zM700.5 552.7h2v2.2h-2zM705.5 550.9h2v1.2h-2zM707.5 541.6h2v12.1h-2zM709.5 533.9h2v6.4h-2zM712.5 531.7h2v4.7h-2zM714.5 529.2h2v1.2h-2zM717.5 527.8h2v2.7h-2zM727.5 537.6h2v2.4h-2zM729.5 534.0h2v6.1h-2zM746.5 554.8h2v1.3h-2zM751.5 549.8h2v12.8h-2zM754.5 545.6h2v3.2h-2zM758.5 544.2h2v5.2h-2zM773.5 557.8h2v1.2h-2zM778.5 558.9h2v1.2h-2zM780.5 556.8h2v1.2h-2zM783.5 554.5h2v3.6h-2zM793.5 566.7h2v3.7h-2zM795.5 568.4h2v1.2h-2zM803.5 580.5h2v1.5h-2zM812.5 589.8h2v9.9h-2zM820.5 602.9h2v3.5h-2zM822.5 604.4h2v1.5h-2zM830.5 604.1h2v4.3h-2zM832.5 600.0h2v4.5h-2zM834.5 591.5h2v8.1h-2zM837.5 586.0h2v6.2h-2zM839.5 586.2h2v1.2h-2zM844.5 587.3h2v1.2h-2zM856.5 592.6h2v12.7h-2zM859.5 592.0h2v2.1h-2zM861.5 586.4h2v5.1h-2zM866.5 581.1h2v6.2h-2zM869.5 578.2h2v3.9h-2zM871.5 574.3h2v3.8h-2zM876.5 570.4h2v6.6h-2zM879.5 558.5h2v12.8h-2zM883.5 555.3h2v9.3h-2zM886.5 552.1h2v3.0h-2zM891.5 545.9h2v7.6h-2zM893.5 538.8h2v5.8h-2zM898.5 540.7h2v1.2h-2zM901.5 538.4h2v2.7h-2zM906.5 538.9h2v1.2h-2zM908.5 532.8h2v6.3h-2zM910.5 525.6h2v9.7h-2zM918.5 533.1h2v1.5h-2zM920.5 527.3h2v5.8h-2zM930.5 521.3h2v10.6h-2zM932.5 508.2h2v13.4h-2zM935.5 502.6h2v8.2h-2zM937.5 493.5h2v7.7h-2zM945.5 495.5h2v1.3h-2zM950.5 491.2h2v6.0h-2zM952.5 489.1h2v1.3h-2zM955.5 487.7h2v4.6h-2zM962.5 480.0h2v4.5h-2zM969.5 468.6h2v6.9h-2zM972.5 448.2h2v20.4h-2zM974.5 385.7h2v48.8h-2zM977.5 378.9h2v6.8h-2zM981.5 373.2h2v6.8h-2zM986.5 364.0h2v5.8h-2zM999.5 384.5h2v18.2h-2zM1001.5 365.2h2v14.8h-2zM1008.5 341.4h2v11.3h-2zM1011.5 330.0h2v11.4h-2zM1013.5 316.4h2v11.3h-2zM1016.5 293.6h2v21.6h-2zM1023.5 294.8h2v7.9h-2zM1031.5 322.0h2v4.6h-2zM1038.5 328.7h2v11.8h-2zM1040.5 310.6h2v26.5h-2zM1043.5 314.8h2v2.8h-2zM1045.5 307.8h2v2.3h-2zM1048.5 297.6h2v9.8h-2zM1060.5 311.1h2v3.2h-2zM1065.5 307.8h2v4.7h-2zM1067.5 301.8h2v4.2h-2zM1070.5 284.6h2v13.0h-2zM1072.5 278.6h2v7.9h-2zM1082.5 277.6h2v4.2h-2zM1087.5 275.8h2v3.7h-2zM1099.5 285.5h2v6.5h-2zM1116.5 290.6h2v9.8h-2zM1119.5 289.8h2v1.2h-2zM1124.5 284.6h2v5.6h-2zM1136.5 326.4h2v1.8h-2zM1146.5 327.9h2v4.1h-2zM1175.5 372.4h2v3.7h-2zM1178.5 365.9h2v6.5h-2zM1182.5 355.2h2v7.0h-2zM1185.5 352.8h2v1.2h-2zM1187.5 350.2h2v1.2h-2zM1190.5 344.6h2v7.9h-2zM1192.5 325.1h2v19.0h-2zM1202.5 332.5h2v8.4h-2zM1205.5 326.5h2v5.5h-2zM1219.5 310.6h2v32.2h-2zM1222.5 294.0h2v13.3h-2zM1227.5 298.2h2v9.1h-2zM1234.5 371.0h2v16.4h-2zM1239.5 382.5h2v5.8h-2zM1246.5 396.5h2v5.0h-2zM1256.5 385.8h2v37.2h-2zM1258.5 383.0h2v3.0h-2zM1261.5 380.8h2v14.1h-2zM1263.5 372.6h2v9.9h-2zM1266.5 371.7h2v22.3h-2zM1278.5 394.0h2v8.3h-2zM1293.5 420.2h2v9.3h-2zM1322.5 446.2h2v15.0h-2zM1339.5 507.6h2v9.8h-2zM1349.5 531.3h2v5.2h-2zM1352.5 515.3h2v14.0h-2zM1364.5 523.1h2v6.2h-2zM1366.5 510.2h2v9.3h-2zM1369.5 499.3h2v8.8h-2zM1374.5 480.2h2v23.3h-2zM1379.5 471.5h2v1.5h-2zM1383.5 479.7h2v2.6h-2zM1386.5 476.4h2v1.2h-2zM1388.5 476.1h2v2.1h-2zM1391.5 464.3h2v9.8h-2zM1393.5 452.4h2v9.3h-2zM1396.5 445.7h2v5.8h-2zM1398.5 432.2h2v13.3h-2zM1401.5 427.4h2v3.0h-2zM1406.5 419.6h2v7.1h-2zM1408.5 421.7h2v1.2h-2zM1410.5 419.8h2v1.2h-2zM1415.5 415.5h2v4.6h-2zM1418.5 411.6h2v2.7h-2zM1420.5 410.9h2v1.6h-2zM1423.5 409.5h2v2.4h-2zM1425.5 404.6h2v3.6h-2zM1428.5 403.2h2v2.6h-2zM1430.5 404.9h2v1.2h-2zM1433.5 403.1h2v3.5h-2zM1437.5 398.5h2v1.5h-2zM1440.5 389.2h2v10.3h-2zM1442.5 381.2h2v9.0h-2zM1452.5 405.0h2v3.7h-2zM1462.5 413.0h2v3.1h-2zM1464.5 410.0h2v3.0h-2zM1467.5 411.1h2v1.4h-2zM1472.5 403.2h2v6.1h-2zM1474.5 383.2h2v19.6h-2zM1491.5 413.4h2v2.8h-2zM1494.5 371.2h2v21.8h-2zM1516.5 436.7h2v5.5h-2zM1518.5 431.2h2v1.2h-2zM1521.5 426.4h2v2.8h-2zM1523.5 421.8h2v1.4h-2zM1528.5 404.6h2v13.5h-2zM1533.5 407.9h2v2.3h-2zM1540.5 413.9h2v1.4h-2zM1543.5 411.6h2v1.2h-2zM1545.5 405.5h2v3.8h-2zM1548.5 399.6h2v6.3h-2zM1550.5 398.5h2v1.2h-2zM1555.5 403.2h2v3.0h-2zM1558.5 404.3h2v2.0h-2zM1562.5 413.0h2v3.6h-2zM1575.5 433.4h2v4.6h-2zM1597.5 467.5h2v4.6h-2zM1604.5 474.2h2v8.8h-2zM1611.5 479.9h2v3.1h-2zM1621.5 491.2h2v9.8h-2zM1626.5 489.7h2v10.3h-2zM1636.5 493.8h2v4.6h-2zM1638.5 490.2h2v2.0h-2zM1641.5 487.1h2v2.6h-2zM1643.5 461.8h2v25.3h-2z" fill="#0fcf0f" stroke="#0b4a0b" stroke-width="1"/>
<path d="M72.5 664.1h2v1.2h-2zM79.5 659.8h2v2.8h-2zM82.5 663.4h2v2.9h-2zM94.5 648.9h2v2.0h-2zM97.5 650.3h2v6.5h-2zM99.5 656.3h2v1.2h-2zM109.5 644.0h2v2.1h-2zM111.5 645.4h2v2.9h-2zM114.5 649.7h2v3.6h-2zM131.5 641.7h2v1.2h-2zM138.5 640.5h2v1.5h-2zM141.5 640.5h2v2.0h-2zM143.5 640.4h2v4.0h-2zM146.5 644.9h2v1.8h-2zM148.5 645.5h2v1.9h-2zM155.5 634.7h2v5.2h-2zM158.5 637.8h2v2.4h-2zM163.5 635.1h2v1.2h-2zM170.5 630.6h2v7.4h-2zM178.5 628.4h2v1.2h-2zM182.5 628.1h2v1.2h-2zM185.5 628.6h2v2.2h-2zM190.5 628.2h2v1.2h-2zM195.5 630.0h2v1.2h-2zM197.5 630.2h2v4.4h-2zM212.5 618.2h2v2.2h-2zM222.5 614.4h2v4.8h-2zM224.5 615.8h2v3.3h-2zM234.5 605.3h2v6.6h-2zM236.5 613.6h2v1.7h-2zM241.5 617.4h2v5.8h-2zM244.5 622.0h2v3.0h-2zM249.5 617.6h2v2.7h-2zM251.5 620.0h2v3.2h-2zM253.5 622.9h2v2.7h-2zM256.5 624.3h2v5.2h-2zM261.5 624.1h2v2.7h-2zM268.5 629.6h2v1.2h-2zM273.5 627.0h2v1.2h-2zM276.5 626.6h2v3.5h-2zM278.5 627.0h2v3.1h-2zM285.5 625.3h2v2.8h-2zM293.5 624.0h2v3.1h-2zM298.5 620.5h2v1.2h-2zM300.5 621.5h2v3.0h-2zM303.5 623.2h2v2.6h-2zM305.5 625.1h2v1.8h-2zM307.5 627.1h2v2.4h-2zM310.5 628.5h2v1.8h-2zM312.5 630.6h2v1.4h-2zM320.5 621.4h2v1.2h-2zM329.5 618.2h2v1.2h-2zM332.5 616.5h2v1.6h-2zM344.5 610.0h2v1.2h-2zM347.5 609.7h2v1.2h-2zM349.5 610.8h2v15.1h-2zM356.5 620.8h2v3.3h-2zM359.5 623.1h2v5.6h-2zM374.5 611.5h2v1.2h-2zM379.5 611.4h2v1.2h-2zM381.5 610.0h2v2.5h-2zM388.5 607.0h2v4.5h-2zM391.5 611.1h2v1.2h-2zM393.5 610.3h2v3.5h-2zM396.5 614.8h2v2.6h-2zM398.5 617.1h2v1.2h-2zM401.5 618.1h2v1.2h-2zM408.5 607.5h2v12.8h-2zM415.5 609.8h2v1.2h-2zM418.5 611.8h2v1.2h-2zM420.5 611.8h2v6.1h-2zM423.5 617.0h2v2.1h-2zM425.5 619.5h2v1.9h-2zM428.5 620.7h2v3.0h-2zM432.5 620.3h2v7.3h-2zM435.5 629.8h2v2.6h-2zM437.5 633.2h2v1.2h-2zM445.5 631.5h2v8.3h-2zM452.5 636.4h2v4.6h-2zM454.5 638.3h2v1.2h-2zM464.5 631.2h2v7.5h-2zM469.5 634.4h2v2.8h-2zM472.5 634.1h2v1.3h-2zM477.5 635.7h2v7.3h-2zM481.5 638.7h2v9.3h-2zM484.5 647.0h2v1.9h-2zM486.5 649.3h2v3.0h-2zM491.5 649.1h2v1.2h-2zM494.5 648.3h2v5.2h-2zM508.5 648.9h2v1.9h-2zM511.5 650.1h2v3.6h-2zM516.5 650.0h2v5.6h-2zM521.5 653.9h2v3.8h-2zM528.5 653.7h2v1.9h-2zM530.5 653.9h2v1.9h-2zM533.5 653.4h2v7.3h-2zM535.5 661.7h2v1.2h-2zM543.5 660.3h2v2.2h-2zM550.5 658.3h2v2.9h-2zM555.5 659.9h2v5.6h-2zM567.5 654.2h2v1.2h-2zM582.5 628.3h2v1.4h-2zM584.5 628.4h2v1.2h-2zM611.5 545.0h2v3.2h-2zM619.5 535.7h2v1.9h-2zM621.5 535.7h2v7.9h-2zM626.5 541.2h2v2.0h-2zM633.5 534.6h2v1.2h-2zM643.5 531.2h2v1.2h-2zM655.5 516.9h2v15.5h-2zM658.5 532.8h2v13.4h-2zM665.5 540.6h2v4.1h-2zM670.5 543.1h2v7.3h-2zM673.5 551.4h2v1.2h-2zM675.5 549.0h2v3.7h-2zM680.5 545.9h2v1.8h-2zM685.5 546.5h2v1.2h-2zM687.5 544.0h2v7.9h-2zM690.5 555.2h2v1.2h-2zM692.5 556.8h2v4.3h-2zM702.5 549.7h2v2.1h-2zM719.5 527.6h2v3.5h-2zM722.5 529.2h2v6.5h-2zM724.5 535.6h2v2.5h-2zM731.5 532.3h2v2.0h-2zM734.5 533.2h2v2.8h-2zM736.5 537.2h2v1.8h-2zM739.5 537.7h2v7.8h-2zM741.5 544.8h2v3.3h-2zM744.5 547.3h2v5.6h-2zM749.5 555.2h2v8.7h-2zM756.5 544.3h2v1.6h-2zM761.5 544.0h2v1.7h-2zM763.5 544.9h2v5.4h-2zM766.5 546.7h2v4.0h-2zM768.5 552.0h2v1.2h-2zM771.5 553.6h2v5.2h-2zM776.5 556.8h2v2.1h-2zM785.5 554.1h2v2.5h-2zM788.5 557.3h2v4.3h-2zM790.5 561.5h2v8.0h-2zM798.5 567.4h2v8.3h-2zM800.5 575.2h2v6.0h-2zM805.5 580.2h2v13.5h-2zM807.5 592.2h2v5.7h-2zM810.5 598.9h2v1.2h-2zM815.5 589.0h2v11.0h-2zM817.5 599.2h2v6.7h-2zM825.5 602.6h2v3.7h-2zM827.5 605.8h2v2.6h-2zM842.5 586.8h2v1.2h-2zM847.5 588.1h2v1.2h-2zM849.5 590.7h2v3.1h-2zM852.5 592.9h2v6.6h-2zM854.5 601.4h2v4.9h-2zM864.5 584.4h2v3.2h-2zM874.5 573.7h2v1.2h-2zM881.5 558.2h2v5.7h-2zM888.5 551.1h2v3.5h-2zM896.5 538.0h2v3.2h-2zM903.5 538.6h2v1.2h-2zM913.5 526.1h2v3.2h-2zM915.5 529.3h2v3.9h-2zM923.5 526.6h2v2.9h-2zM925.5 529.7h2v1.2h-2zM928.5 527.4h2v1.2h-2zM940.5 489.7h2v3.1h-2zM942.5 496.1h2v1.2h-2zM947.5 494.8h2v1.9h-2zM957.5 486.5h2v2.9h-2zM959.5 488.3h2v1.2h-2zM964.5 477.7h2v8.0h-2zM967.5 480.0h2v5.7h-2zM979.5 378.8h2v1.2h-2zM984.5 366.4h2v4.5h-2zM989.5 364.0h2v7.6h-2zM991.5 368.6h2v6.9h-2zM994.5 392.4h2v1.2h-2zM996.5 395.9h2v6.8h-2zM1004.5 366.0h2v1.9h-2zM1006.5 348.2h2v4.5h-2zM1018.5 292.5h2v10.2h-2zM1021.5 297.0h2v6.9h-2zM1026.5 297.0h2v8.0h-2zM1028.5 314.0h2v9.2h-2zM1033.5 322.0h2v6.9h-2zM1035.5 330.0h2v11.4h-2zM1050.5 296.3h2v1.2h-2zM1053.5 290.2h2v17.2h-2zM1055.5 310.0h2v2.5h-2zM1057.5 310.6h2v2.8h-2zM1062.5 310.1h2v2.4h-2zM1075.5 272.8h2v1.2h-2zM1077.5 273.5h2v1.8h-2zM1080.5 275.3h2v4.7h-2zM1084.5 275.3h2v4.7h-2zM1089.5 275.3h2v11.6h-2zM1092.5 290.6h2v4.7h-2zM1094.5 292.0h2v2.8h-2zM1097.5 295.3h2v1.8h-2zM1102.5 280.4h2v10.2h-2zM1104.5 289.8h2v1.2h-2zM1106.5 291.6h2v8.3h-2zM1109.5 294.6h2v1.2h-2zM1111.5 300.4h2v5.1h-2zM1114.5 300.9h2v1.3h-2zM1121.5 289.1h2v1.2h-2zM1126.5 283.3h2v1.2h-2zM1129.5 283.7h2v21.8h-2zM1131.5 302.2h2v10.7h-2zM1133.5 315.2h2v20.5h-2zM1138.5 325.9h2v2.3h-2zM1141.5 326.9h2v6.5h-2zM1143.5 334.4h2v2.7h-2zM1148.5 325.1h2v4.1h-2zM1151.5 331.2h2v1.2h-2zM1153.5 331.5h2v1.2h-2zM1156.5 330.8h2v1.2h-2zM1158.5 332.5h2v4.6h-2zM1160.5 335.3h2v13.0h-2zM1163.5 351.5h2v4.7h-2zM1165.5 353.1h2v1.2h-2zM1168.5 352.5h2v8.8h-2zM1170.5 363.6h2v8.4h-2zM1173.5 370.6h2v3.7h-2zM1180.5 364.7h2v1.2h-2zM1195.5 321.4h2v11.1h-2zM1197.5 334.4h2v2.7h-2zM1200.5 337.1h2v5.6h-2zM1207.5 321.4h2v6.0h-2zM1209.5 326.9h2v3.3h-2zM1212.5 326.5h2v8.8h-2zM1214.5 332.2h2v1.2h-2zM1217.5 333.0h2v8.0h-2zM1224.5 291.6h2v15.7h-2zM1229.5 305.6h2v60.4h-2zM1232.5 370.0h2v22.4h-2zM1236.5 371.0h2v19.7h-2zM1241.5 380.0h2v20.7h-2zM1244.5 401.5h2v2.5h-2zM1249.5 389.0h2v4.2h-2zM1251.5 396.5h2v18.2h-2zM1254.5 414.7h2v11.6h-2zM1268.5 367.6h2v11.6h-2zM1271.5 367.6h2v24.8h-2zM1273.5 390.0h2v10.7h-2zM1276.5 402.3h2v3.3h-2zM1281.5 389.0h2v2.6h-2zM1283.5 397.4h2v3.3h-2zM1285.5 392.4h2v24.8h-2zM1288.5 414.0h2v2.0h-2zM1290.5 415.5h2v13.3h-2zM1295.5 419.8h2v5.1h-2zM1298.5 425.5h2v1.2h-2zM1300.5 429.7h2v1.7h-2zM1303.5 431.5h2v3.4h-2zM1305.5 434.6h2v3.4h-2zM1307.5 436.9h2v7.7h-2zM1310.5 445.8h2v5.4h-2zM1312.5 451.2h2v5.4h-2zM1315.5 457.5h2v3.1h-2zM1317.5 460.3h2v1.2h-2zM1320.5 463.7h2v2.6h-2zM1325.5 449.3h2v6.2h-2zM1327.5 468.4h2v21.1h-2zM1330.5 486.4h2v16.0h-2zM1332.5 496.2h2v5.7h-2zM1334.5 506.0h2v13.5h-2zM1337.5 516.9h2v1.5h-2zM1342.5 504.5h2v12.9h-2zM1344.5 518.4h2v6.2h-2zM1347.5 525.1h2v9.3h-2zM1354.5 523.6h2v2.1h-2zM1357.5 525.1h2v3.1h-2zM1359.5 530.3h2v2.6h-2zM1361.5 524.6h2v8.3h-2zM1371.5 502.4h2v5.2h-2zM1376.5 474.1h2v3.1h-2zM1381.5 468.4h2v13.9h-2zM1403.5 424.4h2v1.2h-2zM1413.5 417.6h2v3.9h-2zM1435.5 399.5h2v3.3h-2zM1445.5 380.9h2v17.3h-2zM1447.5 399.3h2v1.7h-2zM1450.5 399.1h2v9.5h-2zM1455.5 406.3h2v1.2h-2zM1457.5 405.5h2v5.6h-2zM1459.5 411.9h2v4.5h-2zM1469.5 412.2h2v1.2h-2zM1477.5 382.3h2v2.8h-2zM1479.5 384.5h2v1.2h-2zM1482.5 385.6h2v12.0h-2zM1484.5 397.6h2v10.7h-2zM1486.5 402.3h2v1.4h-2zM1489.5 403.7h2v12.5h-2zM1496.5 370.2h2v17.7h-2zM1499.5 383.2h2v17.2h-2zM1501.5 399.6h2v1.2h-2zM1504.5 400.4h2v5.6h-2zM1506.5 403.7h2v4.6h-2zM1508.5 405.5h2v20.0h-2zM1511.5 424.9h2v1.2h-2zM1513.5 423.7h2v18.5h-2zM1526.5 420.5h2v1.2h-2zM1531.5 405.5h2v7.0h-2zM1535.5 403.7h2v1.8h-2zM1538.5 408.3h2v7.0h-2zM1553.5 400.1h2v3.5h-2zM1560.5 406.1h2v9.5h-2zM1565.5 413.1h2v2.4h-2zM1567.5 415.4h2v10.2h-2zM1570.5 422.6h2v5.1h-2zM1572.5 427.0h2v1.2h-2zM1577.5 431.4h2v19.0h-2zM1580.5 449.4h2v9.3h-2zM1582.5 458.3h2v1.2h-2zM1584.5 447.3h2v18.1h-2zM1587.5 464.4h2v13.9h-2zM1589.5 471.6h2v3.1h-2zM1592.5 472.6h2v3.6h-2zM1594.5 472.4h2v1.2h-2zM1599.5 467.5h2v17.0h-2zM1602.5 481.6h2v1.2h-2zM1607.5 476.2h2v11.4h-2zM1609.5 480.9h2v4.1h-2zM1614.5 479.3h2v4.2h-2zM1616.5 489.1h2v14.0h-2zM1619.5 502.6h2v4.6h-2zM1624.5 490.7h2v9.8h-2zM1629.5 487.6h2v11.9h-2zM1631.5 498.4h2v4.2h-2zM1633.5 501.2h2v1.2h-2z" fill="#ee0000" stroke="#5a0000" stroke-width="1"/>
<circle cx="351.0" cy="594.5" r="11.3" fill="#86d35a"/><text x="351.0" y="599.0" font-size="14" fill="#111" text-anchor="middle">D</text>
<circle cx="996.1" cy="355.4" r="11.3" fill="#86d35a"/><text x="996.1" y="359.9" font-size="14" fill="#111" text-anchor="middle">D</text>
<circle cx="1006.4" cy="324.7" r="7.8" fill="#1e90f0"/><text x="1006.4" y="328.7" font-size="11" font-weight="bold" fill="#fff" text-anchor="middle">P</text>
<circle cx="1004.0" cy="339.3" r="7.8" fill="#1e90f0"/><text x="1004.0" y="343.3" font-size="11" font-weight="bold" fill="#fff" text-anchor="middle">P</text>
<circle cx="1000.8" cy="363.8" r="7.8" fill="#1e90f0"/><text x="1000.8" y="367.8" font-size="11" font-weight="bold" fill="#fff" text-anchor="middle">P</text>
<circle cx="928.5" cy="517.0" r="7.8" fill="#1e90f0"/><text x="928.5" y="521.0" font-size="11" font-weight="bold" fill="#fff" text-anchor="middle">P</text>
<circle cx="931.0" cy="506.5" r="7.8" fill="#1e90f0"/><text x="931.0" y="510.5" font-size="11" font-weight="bold" fill="#fff" text-anchor="middle">P</text>
<circle cx="1629.5" cy="468.5" r="7.8" fill="#1e90f0"/><text x="1629.5" y="472.5" font-size="11" font-weight="bold" fill="#fff" text-anchor="middle">P</text>
<circle cx="1638.5" cy="476.5" r="7.8" fill="#1e90f0"/><text x="1638.5" y="480.5" font-size="11" font-weight="bold" fill="#fff" text-anchor="middle">P</text>
<path d="M57.5 792.5h2v23.0h-2zM60.5 799.1h2v16.4h-2zM62.5 805.4h2v10.1h-2zM65.5 808.8h2v6.7h-2zM67.5 799.9h2v15.6h-2zM70.5 788.8h2v26.7h-2zM75.5 801.9h2v13.6h-2zM77.5 804.8h2v10.7h-2zM84.5 807.3h2v8.2h-2zM87.5 804.7h2v10.8h-2zM89.5 805.0h2v10.5h-2zM92.5 805.4h2v10.1h-2zM102.5 801.5h2v14.0h-2zM104.5 789.9h2v25.6h-2zM106.5 798.2h2v17.3h-2zM116.5 808.5h2v7.0h-2zM119.5 808.0h2v7.5h-2zM121.5 802.3h2v13.2h-2zM124.5 804.3h2v11.2h-2zM126.5 810.6h2v4.9h-2zM128.5 810.2h2v5.3h-2zM133.5 807.4h2v8.1h-2zM136.5 812.0h2v3.5h-2zM151.5 811.0h2v4.5h-2zM153.5 809.9h2v5.6h-2zM160.5 803.4h2v12.1h-2zM165.5 808.6h2v6.9h-2zM168.5 799.8h2v15.7h-2zM173.5 810.8h2v4.7h-2zM175.5 812.1h2v3.4h-2zM180.5 811.6h2v3.9h-2zM187.5 806.5h2v9.0h-2zM192.5 807.7h2v7.8h-2zM200.5 812.0h2v3.5h-2zM202.5 804.7h2v10.8h-2zM204.5 807.9h2v7.6h-2zM207.5 811.2h2v4.3h-2zM209.5 792.0h2v23.5h-2zM214.5 809.4h2v6.1h-2zM217.5 801.8h2v13.7h-2zM219.5 806.6h2v8.9h-2zM227.5 805.6h2v9.9h-2zM229.5 804.4h2v11.1h-2zM231.5 809.5h2v6.0h-2zM239.5 800.4h2v15.1h-2zM246.5 802.5h2v13.0h-2zM258.5 808.8h2v6.7h-2zM263.5 810.3h2v5.2h-2zM266.5 809.6h2v5.9h-2zM271.5 808.2h2v7.3h-2zM280.5 812.1h2v3.4h-2zM283.5 809.5h2v6.0h-2zM288.5 808.3h2v7.2h-2zM290.5 807.6h2v7.9h-2zM295.5 809.4h2v6.1h-2zM315.5 803.1h2v12.3h-2zM317.5 810.4h2v5.1h-2zM322.5 808.5h2v7.0h-2zM325.5 803.1h2v12.3h-2zM327.5 806.9h2v8.6h-2zM334.5 811.4h2v4.1h-2zM337.5 807.5h2v8.0h-2zM339.5 808.4h2v7.1h-2zM342.5 806.1h2v9.4h-2zM352.5 800.3h2v15.2h-2zM354.5 802.0h2v13.5h-2zM361.5 806.3h2v9.2h-2zM364.5 802.8h2v12.7h-2zM366.5 809.3h2v6.2h-2zM369.5 801.0h2v14.5h-2zM371.5 807.4h2v8.1h-2zM376.5 807.3h2v8.2h-2zM383.5 807.3h2v8.2h-2zM386.5 806.8h2v8.7h-2zM403.5 806.4h2v9.1h-2zM405.5 809.6h2v5.9h-2zM410.5 809.3h2v6.2h-2zM413.5 795.1h2v20.4h-2zM430.5 800.3h2v15.2h-2zM440.5 804.4h2v11.1h-2zM442.5 806.1h2v9.4h-2zM447.5 807.8h2v7.7h-2zM450.5 808.0h2v7.5h-2zM457.5 810.6h2v4.9h-2zM459.5 809.9h2v5.6h-2zM462.5 810.5h2v5.0h-2zM467.5 808.9h2v6.6h-2zM474.5 807.5h2v8.0h-2zM479.5 809.3h2v6.2h-2zM489.5 803.1h2v12.3h-2zM496.5 807.2h2v8.3h-2zM499.5 808.3h2v7.2h-2zM501.5 810.4h2v5.1h-2zM504.5 811.7h2v3.8h-2zM506.5 807.6h2v7.9h-2zM513.5 809.1h2v6.4h-2zM518.5 807.3h2v8.2h-2zM523.5 809.8h2v5.7h-2zM526.5 808.9h2v6.6h-2zM538.5 805.3h2v10.2h-2zM540.5 809.0h2v6.5h-2zM545.5 807.7h2v7.8h-2zM548.5 811.7h2v3.8h-2zM553.5 808.2h2v7.3h-2zM557.5 806.8h2v8.7h-2zM560.5 806.0h2v9.5h-2zM562.5 807.3h2v8.2h-2zM565.5 806.2h2v9.3h-2zM570.5 807.7h2v7.8h-2zM572.5 806.9h2v8.6h-2zM575.5 805.4h2v10.1h-2zM577.5 801.6h2v13.9h-2zM579.5 803.6h2v11.9h-2zM587.5 801.3h2v14.2h-2zM589.5 800.0h2v15.5h-2zM592.5 798.0h2v17.5h-2zM594.5 790.5h2v25.0h-2zM597.5 783.5h2v32.0h-2zM599.5 800.8h2v14.7h-2zM602.5 787.5h2v28.0h-2zM604.5 784.5h2v31.0h-2zM606.5 789.5h2v26.0h-2zM609.5 787.0h2v28.5h-2zM614.5 801.0h2v14.5h-2zM616.5 806.4h2v9.1h-2zM624.5 806.9h2v8.6h-2zM629.5 804.6h2v10.9h-2zM631.5 804.5h2v11.0h-2zM636.5 809.5h2v6.0h-2zM638.5 801.2h2v14.3h-2zM641.5 808.0h2v7.5h-2zM646.5 807.7h2v7.8h-2zM648.5 803.7h2v11.8h-2zM651.5 796.5h2v19.0h-2zM653.5 804.4h2v11.1h-2zM660.5 808.4h2v7.1h-2zM663.5 808.3h2v7.2h-2zM668.5 803.6h2v11.9h-2zM678.5 811.6h2v3.9h-2zM682.5 807.1h2v8.4h-2zM695.5 809.4h2v6.1h-2zM697.5 808.8h2v6.7h-2zM700.5 804.6h2v10.9h-2zM705.5 802.9h2v12.6h-2zM707.5 808.5h2v7.0h-2zM709.5 806.1h2v9.4h-2zM712.5 809.2h2v6.3h-2zM714.5 809.5h2v6.0h-2zM717.5 810.7h2v4.8h-2zM727.5 811.6h2v3.9h-2zM729.5 803.3h2v12.2h-2zM746.5 805.6h2v9.9h-2zM751.5 802.2h2v13.3h-2zM754.5 808.9h2v6.6h-2zM758.5 808.6h2v6.9h-2zM773.5 809.8h2v5.7h-2zM778.5 810.7h2v4.8h-2zM780.5 810.9h2v4.6h-2zM783.5 807.7h2v7.8h-2zM793.5 806.8h2v8.7h-2zM795.5 808.4h2v7.1h-2zM803.5 809.3h2v6.2h-2zM812.5 803.1h2v12.4h-2zM820.5 808.3h2v7.2h-2zM822.5 807.0h2v8.5h-2zM830.5 810.0h2v5.5h-2zM832.5 810.1h2v5.4h-2zM834.5 810.0h2v5.5h-2zM837.5 807.2h2v8.3h-2zM839.5 802.6h2v12.9h-2zM844.5 807.1h2v8.4h-2zM856.5 810.3h2v5.2h-2zM859.5 809.2h2v6.3h-2zM861.5 804.5h2v11.0h-2zM866.5 801.5h2v14.0h-2zM869.5 809.1h2v6.4h-2zM871.5 808.8h2v6.7h-2zM876.5 806.2h2v9.3h-2zM879.5 811.0h2v4.5h-2zM883.5 810.8h2v4.7h-2zM886.5 808.2h2v7.3h-2zM891.5 802.7h2v12.8h-2zM893.5 809.6h2v5.9h-2zM898.5 801.2h2v14.2h-2zM901.5 807.6h2v7.9h-2zM906.5 807.1h2v8.4h-2zM908.5 809.5h2v6.0h-2zM910.5 807.9h2v7.6h-2zM918.5 810.7h2v4.8h-2zM920.5 806.2h2v9.3h-2zM930.5 809.6h2v5.9h-2zM932.5 810.6h2v4.9h-2zM935.5 810.6h2v4.9h-2zM937.5 808.0h2v7.5h-2zM945.5 808.2h2v7.3h-2zM950.5 811.0h2v4.5h-2zM952.5 809.9h2v5.6h-2zM955.5 807.1h2v8.4h-2zM962.5 808.8h2v6.7h-2zM969.5 808.1h2v7.4h-2zM972.5 801.6h2v13.9h-2zM974.5 803.2h2v12.3h-2zM977.5 787.5h2v28.0h-2zM981.5 805.4h2v10.1h-2zM986.5 807.1h2v8.4h-2zM999.5 795.5h2v20.0h-2zM1001.5 809.3h2v6.2h-2zM1008.5 806.1h2v9.4h-2zM1011.5 804.4h2v11.1h-2zM1013.5 807.3h2v8.2h-2zM1016.5 805.3h2v10.2h-2zM1023.5 805.3h2v10.2h-2zM1031.5 803.2h2v12.3h-2zM1038.5 803.1h2v12.4h-2zM1040.5 807.5h2v8.0h-2zM1043.5 798.0h2v17.5h-2zM1045.5 807.3h2v8.2h-2zM1048.5 796.2h2v19.3h-2zM1060.5 806.2h2v9.3h-2zM1065.5 809.7h2v5.8h-2zM1067.5 805.1h2v10.4h-2zM1070.5 809.5h2v6.0h-2zM1072.5 808.1h2v7.4h-2zM1082.5 809.4h2v6.1h-2zM1087.5 807.4h2v8.1h-2zM1099.5 800.4h2v15.1h-2zM1116.5 811.9h2v3.6h-2zM1119.5 809.3h2v6.2h-2zM1124.5 808.2h2v7.3h-2zM1136.5 810.9h2v4.6h-2zM1146.5 809.6h2v5.9h-2zM1175.5 811.5h2v4.0h-2zM1178.5 808.1h2v7.4h-2zM1182.5 803.6h2v11.9h-2zM1185.5 804.9h2v10.6h-2zM1187.5 811.2h2v4.3h-2zM1190.5 810.8h2v4.7h-2zM1192.5 810.5h2v5.0h-2zM1202.5 810.2h2v5.3h-2zM1205.5 806.5h2v9.0h-2zM1219.5 809.5h2v6.0h-2zM1222.5 805.1h2v10.4h-2zM1227.5 810.0h2v5.5h-2zM1234.5 809.4h2v6.1h-2zM1239.5 810.1h2v5.4h-2zM1246.5 805.2h2v10.3h-2zM1256.5 806.4h2v9.1h-2zM1258.5 810.1h2v5.4h-2zM1261.5 807.2h2v8.3h-2zM1263.5 805.1h2v10.4h-2zM1266.5 811.8h2v3.7h-2zM1278.5 810.2h2v5.3h-2zM1293.5 811.6h2v3.9h-2zM1322.5 807.2h2v8.3h-2zM1339.5 805.5h2v10.0h-2zM1349.5 804.7h2v10.8h-2zM1352.5 802.0h2v13.5h-2zM1364.5 807.1h2v8.4h-2zM1366.5 807.9h2v7.6h-2zM1369.5 803.4h2v12.1h-2zM1374.5 808.0h2v7.5h-2zM1379.5 810.1h2v5.4h-2zM1383.5 809.3h2v6.2h-2zM1386.5 803.7h2v11.8h-2zM1388.5 805.2h2v10.3h-2zM1391.5 804.9h2v10.6h-2zM1393.5 810.0h2v5.5h-2zM1396.5 806.3h2v9.2h-2zM1398.5 803.3h2v12.2h-2zM1401.5 809.9h2v5.6h-2zM1406.5 800.4h2v15.1h-2zM1408.5 806.6h2v8.9h-2zM1410.5 807.3h2v8.2h-2zM1415.5 809.2h2v6.3h-2zM1418.5 808.1h2v7.4h-2zM1420.5 809.3h2v6.2h-2zM1423.5 809.9h2v5.6h-2zM1425.5 805.8h2v9.7h-2zM1428.5 803.8h2v11.7h-2zM1430.5 806.3h2v9.2h-2zM1433.5 806.8h2v8.7h-2zM1437.5 805.4h2v10.1h-2zM1440.5 808.7h2v6.8h-2zM1442.5 808.3h2v7.2h-2zM1452.5 805.7h2v9.8h-2zM1462.5 812.0h2v3.5h-2zM1464.5 806.7h2v8.8h-2zM1467.5 810.2h2v5.3h-2zM1472.5 811.0h2v4.5h-2zM1474.5 810.5h2v5.0h-2zM1491.5 771.5h2v44.0h-2zM1494.5 799.7h2v15.8h-2zM1516.5 806.8h2v8.7h-2zM1518.5 799.7h2v15.8h-2zM1521.5 809.6h2v5.9h-2zM1523.5 812.7h2v2.8h-2zM1528.5 804.3h2v11.2h-2zM1533.5 800.9h2v14.6h-2zM1540.5 804.8h2v10.7h-2zM1543.5 796.8h2v18.7h-2zM1545.5 797.7h2v17.8h-2zM1548.5 805.9h2v9.6h-2zM1550.5 803.6h2v11.9h-2zM1555.5 806.9h2v8.6h-2zM1558.5 804.4h2v11.1h-2zM1562.5 803.8h2v11.7h-2zM1575.5 793.3h2v22.2h-2zM1597.5 809.2h2v6.3h-2zM1604.5 802.1h2v13.4h-2zM1611.5 806.3h2v9.2h-2zM1621.5 784.5h2v31.0h-2zM1626.5 798.6h2v16.9h-2zM1636.5 785.3h2v30.2h-2zM1638.5 802.0h2v13.5h-2zM1641.5 796.2h2v19.3h-2zM1643.5 800.2h2v15.3h-2z" fill="#a8e3a8" stroke="#62d062" stroke-width="1"/>
<path d="M72.5 803.6h2v11.9h-2zM79.5 807.5h2v8.0h-2zM82.5 809.6h2v5.9h-2zM94.5 794.6h2v20.9h-2zM97.5 806.6h2v8.9h-2zM99.5 806.5h2v9.0h-2zM109.5 797.9h2v17.6h-2zM111.5 810.6h2v4.9h-2zM114.5 802.1h2v13.4h-2zM131.5 808.7h2v6.8h-2zM138.5 807.8h2v7.7h-2zM141.5 796.4h2v19.1h-2zM143.5 808.1h2v7.4h-2zM146.5 803.6h2v11.9h-2zM148.5 808.0h2v7.5h-2zM155.5 808.2h2v7.3h-2zM158.5 800.4h2v15.1h-2zM163.5 808.9h2v6.6h-2zM170.5 807.6h2v7.9h-2zM178.5 806.5h2v9.0h-2zM182.5 809.8h2v5.7h-2zM185.5 804.9h2v10.6h-2zM190.5 804.1h2v11.4h-2zM195.5 809.7h2v5.8h-2zM197.5 798.2h2v17.3h-2zM212.5 809.7h2v5.8h-2zM222.5 806.6h2v8.9h-2zM224.5 811.9h2v3.6h-2zM234.5 808.0h2v7.5h-2zM236.5 805.6h2v9.9h-2zM241.5 810.7h2v4.8h-2zM244.5 810.1h2v5.4h-2zM249.5 811.1h2v4.4h-2zM251.5 811.1h2v4.4h-2zM253.5 811.1h2v4.4h-2zM256.5 806.3h2v9.2h-2zM261.5 811.6h2v3.9h-2zM268.5 811.0h2v4.5h-2zM273.5 812.6h2v2.9h-2zM276.5 804.5h2v11.0h-2zM278.5 807.0h2v8.5h-2zM285.5 807.3h2v8.2h-2zM293.5 808.3h2v7.2h-2zM298.5 812.1h2v3.4h-2zM300.5 808.2h2v7.3h-2zM303.5 810.6h2v4.9h-2zM305.5 807.4h2v8.1h-2zM307.5 807.1h2v8.4h-2zM310.5 811.1h2v4.4h-2zM312.5 811.5h2v4.0h-2zM320.5 804.9h2v10.6h-2zM329.5 808.5h2v7.0h-2zM332.5 806.2h2v9.3h-2zM344.5 810.9h2v4.6h-2zM347.5 809.7h2v5.8h-2zM349.5 807.6h2v7.9h-2zM356.5 810.3h2v5.2h-2zM359.5 797.2h2v18.3h-2zM374.5 807.5h2v8.0h-2zM379.5 801.2h2v14.3h-2zM381.5 810.0h2v5.5h-2zM388.5 807.6h2v7.9h-2zM391.5 809.8h2v5.7h-2zM393.5 810.5h2v5.0h-2zM396.5 808.1h2v7.4h-2zM398.5 811.0h2v4.5h-2zM401.5 809.6h2v5.9h-2zM408.5 810.9h2v4.6h-2zM415.5 808.9h2v6.6h-2zM418.5 807.7h2v7.8h-2zM420.5 811.0h2v4.5h-2zM423.5 806.3h2v9.2h-2zM425.5 801.8h2v13.7h-2zM428.5 805.2h2v10.3h-2zM432.5 804.3h2v11.2h-2zM435.5 811.4h2v4.1h-2zM437.5 802.5h2v13.0h-2zM445.5 809.3h2v6.2h-2zM452.5 807.9h2v7.6h-2zM454.5 808.4h2v7.1h-2zM464.5 809.2h2v6.3h-2zM469.5 803.1h2v12.3h-2zM472.5 811.3h2v4.2h-2zM477.5 810.6h2v4.9h-2zM481.5 803.1h2v12.3h-2zM484.5 808.4h2v7.1h-2zM486.5 808.5h2v7.0h-2zM491.5 806.8h2v8.7h-2zM494.5 804.8h2v10.7h-2zM508.5 808.2h2v7.3h-2zM511.5 807.6h2v7.9h-2zM516.5 804.8h2v10.7h-2zM521.5 810.8h2v4.7h-2zM528.5 807.4h2v8.1h-2zM530.5 811.4h2v4.1h-2zM533.5 811.5h2v4.0h-2zM535.5 808.8h2v6.7h-2zM543.5 810.0h2v5.5h-2zM550.5 812.4h2v3.1h-2zM555.5 809.6h2v5.9h-2zM567.5 807.0h2v8.5h-2zM582.5 799.1h2v16.4h-2zM584.5 806.5h2v9.0h-2zM611.5 792.3h2v23.2h-2zM619.5 802.5h2v13.0h-2zM621.5 808.2h2v7.3h-2zM626.5 805.5h2v10.0h-2zM633.5 810.3h2v5.2h-2zM643.5 809.3h2v6.2h-2zM655.5 808.7h2v6.8h-2zM658.5 809.2h2v6.3h-2zM665.5 810.5h2v5.0h-2zM670.5 802.7h2v12.8h-2zM673.5 795.5h2v20.0h-2zM675.5 804.8h2v10.7h-2zM680.5 807.6h2v7.9h-2zM685.5 812.1h2v3.4h-2zM687.5 807.4h2v8.1h-2zM690.5 812.3h2v3.2h-2zM692.5 808.2h2v7.3h-2zM702.5 805.0h2v10.5h-2zM719.5 811.1h2v4.4h-2zM722.5 812.2h2v3.3h-2zM724.5 807.2h2v8.3h-2zM731.5 810.4h2v5.1h-2zM734.5 811.9h2v3.6h-2zM736.5 808.3h2v7.2h-2zM739.5 810.5h2v5.0h-2zM741.5 812.7h2v2.8h-2zM744.5 810.4h2v5.1h-2zM749.5 805.5h2v10.0h-2zM756.5 806.3h2v9.2h-2zM761.5 807.9h2v7.6h-2zM763.5 811.9h2v3.6h-2zM766.5 811.1h2v4.4h-2zM768.5 806.0h2v9.5h-2zM771.5 810.4h2v5.1h-2zM776.5 804.5h2v11.0h-2zM785.5 809.0h2v6.5h-2zM788.5 806.2h2v9.3h-2zM790.5 806.3h2v9.2h-2zM798.5 809.9h2v5.6h-2zM800.5 811.0h2v4.5h-2zM805.5 810.5h2v5.0h-2zM807.5 811.1h2v4.4h-2zM810.5 812.4h2v3.1h-2zM815.5 811.5h2v4.0h-2zM817.5 807.5h2v8.0h-2zM825.5 808.1h2v7.4h-2zM827.5 809.9h2v5.6h-2zM842.5 807.2h2v8.3h-2zM847.5 805.6h2v9.9h-2zM849.5 810.8h2v4.7h-2zM852.5 804.1h2v11.4h-2zM854.5 810.8h2v4.7h-2zM864.5 808.4h2v7.1h-2zM874.5 809.7h2v5.8h-2zM881.5 810.2h2v5.3h-2zM888.5 803.2h2v12.3h-2zM896.5 812.3h2v3.2h-2zM903.5 810.5h2v5.0h-2zM913.5 808.0h2v7.5h-2zM915.5 803.5h2v12.0h-2zM923.5 808.1h2v7.4h-2zM925.5 807.2h2v8.3h-2zM928.5 804.6h2v10.9h-2zM940.5 808.2h2v7.3h-2zM942.5 807.9h2v7.6h-2zM947.5 809.1h2v6.4h-2zM957.5 813.0h2v2.5h-2zM959.5 811.6h2v3.9h-2zM964.5 811.1h2v4.4h-2zM967.5 811.5h2v4.0h-2zM979.5 785.5h2v30.0h-2zM984.5 805.0h2v10.5h-2zM989.5 806.8h2v8.7h-2zM991.5 794.6h2v20.9h-2zM994.5 807.5h2v8.0h-2zM996.5 810.4h2v5.1h-2zM1004.5 807.3h2v8.2h-2zM1006.5 806.2h2v9.3h-2zM1018.5 801.1h2v14.4h-2zM1021.5 800.8h2v14.7h-2zM1026.5 809.3h2v6.2h-2zM1028.5 802.5h2v13.0h-2zM1033.5 805.4h2v10.1h-2zM1035.5 807.4h2v8.1h-2zM1050.5 807.6h2v7.9h-2zM1053.5 809.0h2v6.5h-2zM1055.5 807.0h2v8.5h-2zM1057.5 806.6h2v8.9h-2zM1062.5 811.8h2v3.7h-2zM1075.5 812.7h2v2.8h-2zM1077.5 807.4h2v8.1h-2zM1080.5 806.6h2v8.9h-2zM1084.5 803.9h2v11.6h-2zM1089.5 805.4h2v10.1h-2zM1092.5 805.8h2v9.7h-2zM1094.5 807.0h2v8.5h-2zM1097.5 809.1h2v6.4h-2zM1102.5 810.3h2v5.2h-2zM1104.5 810.9h2v4.6h-2zM1106.5 808.7h2v6.8h-2zM1109.5 807.2h2v8.3h-2zM1111.5 805.8h2v9.7h-2zM1114.5 810.3h2v5.2h-2zM1121.5 812.4h2v3.1h-2zM1126.5 807.0h2v8.5h-2zM1129.5 810.7h2v4.8h-2zM1131.5 811.2h2v4.3h-2zM1133.5 807.6h2v7.9h-2zM1138.5 810.5h2v5.0h-2zM1141.5 812.2h2v3.3h-2zM1143.5 811.4h2v4.1h-2zM1148.5 809.0h2v6.5h-2zM1151.5 809.6h2v5.9h-2zM1153.5 811.0h2v4.5h-2zM1156.5 806.5h2v9.0h-2zM1158.5 809.5h2v6.0h-2zM1160.5 809.2h2v6.3h-2zM1163.5 802.8h2v12.7h-2zM1165.5 810.2h2v5.3h-2zM1168.5 808.5h2v7.0h-2zM1170.5 810.9h2v4.6h-2zM1173.5 809.7h2v5.8h-2zM1180.5 810.7h2v4.8h-2zM1195.5 811.3h2v4.2h-2zM1197.5 810.4h2v5.1h-2zM1200.5 810.8h2v4.7h-2zM1207.5 809.4h2v6.1h-2zM1209.5 807.4h2v8.1h-2zM1212.5 810.5h2v5.0h-2zM1214.5 812.8h2v2.7h-2zM1217.5 807.4h2v8.1h-2zM1224.5 803.0h2v12.5h-2zM1229.5 811.4h2v4.1h-2zM1232.5 786.8h2v28.7h-2zM1236.5 808.4h2v7.1h-2zM1241.5 808.6h2v6.9h-2zM1244.5 807.5h2v8.0h-2zM1249.5 810.5h2v5.0h-2zM1251.5 811.5h2v4.0h-2zM1254.5 809.5h2v6.0h-2zM1268.5 806.4h2v9.1h-2zM1271.5 808.2h2v7.3h-2zM1273.5 809.3h2v6.2h-2zM1276.5 811.3h2v4.2h-2zM1281.5 809.9h2v5.6h-2zM1283.5 809.6h2v5.9h-2zM1285.5 812.0h2v3.5h-2zM1288.5 810.0h2v5.5h-2zM1290.5 809.9h2v5.6h-2zM1295.5 806.6h2v8.9h-2zM1298.5 809.5h2v6.0h-2zM1300.5 811.4h2v4.1h-2zM1303.5 811.8h2v3.7h-2zM1305.5 808.1h2v7.4h-2zM1307.5 809.8h2v5.7h-2zM1310.5 811.4h2v4.1h-2zM1312.5 798.5h2v17.0h-2zM1315.5 811.3h2v4.2h-2zM1317.5 811.0h2v4.5h-2zM1320.5 810.1h2v5.4h-2zM1325.5 809.5h2v6.0h-2zM1327.5 775.9h2v39.6h-2zM1330.5 794.5h2v21.0h-2zM1332.5 810.7h2v4.8h-2zM1334.5 808.5h2v7.0h-2zM1337.5 808.9h2v6.6h-2zM1342.5 807.7h2v7.8h-2zM1344.5 794.5h2v21.0h-2zM1347.5 806.2h2v9.3h-2zM1354.5 811.9h2v3.6h-2zM1357.5 809.9h2v5.6h-2zM1359.5 802.6h2v12.9h-2zM1361.5 810.7h2v4.8h-2zM1371.5 808.7h2v6.8h-2zM1376.5 806.9h2v8.6h-2zM1381.5 796.5h2v19.0h-2zM1403.5 806.4h2v9.1h-2zM1413.5 811.3h2v4.2h-2zM1435.5 810.0h2v5.5h-2zM1445.5 807.8h2v7.7h-2zM1447.5 810.7h2v4.8h-2zM1450.5 809.5h2v6.0h-2zM1455.5 810.7h2v4.8h-2zM1457.5 808.9h2v6.6h-2zM1459.5 806.1h2v9.4h-2zM1469.5 807.6h2v7.9h-2zM1477.5 808.6h2v6.9h-2zM1479.5 803.1h2v12.3h-2zM1482.5 811.1h2v4.4h-2zM1484.5 805.4h2v10.1h-2zM1486.5 808.1h2v7.4h-2zM1489.5 807.8h2v7.7h-2zM1496.5 788.5h2v27.0h-2zM1499.5 807.2h2v8.3h-2zM1501.5 801.5h2v14.0h-2zM1504.5 809.1h2v6.4h-2zM1506.5 803.9h2v11.6h-2zM1508.5 802.0h2v13.5h-2zM1511.5 804.5h2v11.0h-2zM1513.5 793.0h2v22.5h-2zM1526.5 808.5h2v7.0h-2zM1531.5 809.5h2v6.0h-2zM1535.5 808.6h2v6.9h-2zM1538.5 804.5h2v11.0h-2zM1553.5 804.0h2v11.5h-2zM1560.5 805.7h2v9.8h-2zM1565.5 803.4h2v12.1h-2zM1567.5 802.0h2v13.5h-2zM1570.5 808.6h2v6.9h-2zM1572.5 804.1h2v11.4h-2zM1577.5 797.4h2v18.1h-2zM1580.5 790.5h2v25.0h-2zM1582.5 788.0h2v27.5h-2zM1584.5 803.2h2v12.3h-2zM1587.5 797.5h2v18.0h-2zM1589.5 806.4h2v9.1h-2zM1592.5 808.0h2v7.5h-2zM1594.5 794.9h2v20.6h-2zM1599.5 794.8h2v20.7h-2zM1602.5 796.9h2v18.6h-2zM1607.5 806.2h2v9.3h-2zM1609.5 804.5h2v11.0h-2zM1614.5 785.7h2v29.8h-2zM1616.5 780.9h2v34.6h-2zM1619.5 807.3h2v8.2h-2zM1624.5 802.6h2v12.9h-2zM1629.5 790.9h2v24.6h-2zM1631.5 803.6h2v11.9h-2zM1633.5 796.3h2v19.2h-2z" fill="#efaaaa" stroke="#d96666" stroke-width="1"/>
<path d="M58.9 805.8L61.4 805.4L63.8 805.4L66.3 805.5L68.7 805.2L71.2 804.3L73.6 804.1L76.1 803.9L78.5 803.8L81.0 803.9L83.4 804.0L85.9 804.1L88.3 804.0L90.8 803.9L93.2 803.8L95.7 803.2L98.1 803.3L100.6 803.2L103.0 803.0L105.5 802.2L107.9 802.5L110.4 802.4L112.8 802.7L115.3 802.3L117.7 802.7L120.2 803.7L122.6 803.6L125.1 803.8L127.5 804.0L130.0 804.2L132.4 804.1L134.9 804.1L137.3 804.5L139.8 804.6L142.2 804.2L144.7 804.9L147.1 804.7L149.6 804.8L152.0 805.3L154.5 806.3L156.9 806.8L159.4 806.9L161.8 806.5L164.3 806.9L166.8 806.9L169.2 806.5L171.7 806.7L174.1 807.1L176.6 807.2L179.0 807.0L181.5 807.1L183.9 807.2L186.4 806.9L188.8 806.8L191.3 807.2L193.7 807.2L196.2 807.5L198.6 807.0L201.1 807.0L203.5 806.8L206.0 806.8L208.4 807.3L210.9 806.7L213.3 806.8L215.8 806.8L218.2 806.9L220.7 806.9L223.1 806.6L225.6 806.6L228.0 806.6L230.5 806.2L232.9 806.2L235.4 806.4L237.8 806.3L240.3 806.1L242.7 806.3L245.2 806.3L247.6 806.5L250.1 806.5L252.5 806.8L255.0 807.0L257.4 806.7L259.9 807.6L262.3 807.6L264.8 807.7L267.2 808.1L269.7 808.3L272.2 808.4L274.6 808.4L277.1 808.4L279.5 808.5L282.0 808.6L284.4 808.7L286.9 808.8L289.3 809.2L291.8 809.0L294.2 808.9L296.7 809.3L299.1 809.3L301.6 809.2L304.0 809.2L306.5 809.2L308.9 809.1L311.4 809.1L313.8 809.2L316.3 808.9L318.7 808.8L321.2 808.7L323.6 808.4L326.1 808.4L328.5 808.4L331.0 808.2L333.4 808.0L335.9 808.2L338.3 808.2L340.8 808.2L343.2 808.1L345.7 808.2L348.1 808.1L350.6 808.0L353.0 807.5L355.5 807.3L357.9 807.4L360.4 806.7L362.8 806.5L365.3 806.4L367.7 806.4L370.2 806.2L372.6 806.1L375.1 806.4L377.6 806.4L380.0 806.0L382.5 806.2L384.9 806.0L387.4 806.0L389.8 805.9L392.3 806.1L394.7 806.1L397.2 806.0L399.6 806.2L402.1 806.7L404.5 806.9L407.0 806.8L409.4 807.5L411.9 807.7L414.3 807.3L416.8 807.3L419.2 807.6L421.7 807.8L424.1 807.7L426.6 807.4L429.0 807.6L431.5 807.1L433.9 807.0L436.4 807.2L438.8 807.0L441.3 806.7L443.7 806.5L446.2 806.5L448.6 806.4L451.1 806.3L453.5 806.4L456.0 806.3L458.4 806.3L460.9 806.3L463.3 807.1L465.8 807.1L468.2 807.2L470.7 806.8L473.1 807.0L475.6 807.3L478.0 807.6L480.5 808.0L483.0 808.0L485.4 807.8L487.9 808.1L490.3 808.1L492.8 808.1L495.2 807.9L497.7 807.9L500.1 807.9L502.6 808.0L505.0 808.2L507.5 808.0L509.9 807.9L512.4 807.8L514.8 807.8L517.3 807.6L519.7 807.8L522.2 807.8L524.6 807.9L527.1 807.8L529.5 807.7L532.0 808.1L534.4 808.3L536.9 808.3L539.3 808.4L541.8 808.5L544.2 808.8L546.7 808.8L549.1 809.0L551.6 809.1L554.0 808.9L556.5 809.0L558.9 808.9L561.4 808.8L563.8 808.7L566.3 808.8L568.7 808.8L571.2 808.7L573.6 808.5L576.1 808.3L578.5 808.0L581.0 807.6L583.4 807.0L585.9 806.9L588.4 806.7L590.8 806.3L593.3 805.7L595.7 804.8L598.2 803.4L600.6 802.8L603.1 801.8L605.5 800.5L608.0 799.7L610.4 798.7L612.9 797.9L615.3 797.7L617.8 797.7L620.2 797.4L622.7 797.5L625.1 797.5L627.6 797.7L630.0 797.8L632.5 798.0L634.9 798.2L637.4 798.6L639.8 798.7L642.3 799.2L644.7 800.1L647.2 801.4L649.6 801.5L652.1 802.0L654.5 802.9L657.0 803.9L659.4 805.0L661.9 805.8L664.3 806.2L666.8 806.4L669.2 806.4L671.7 806.2L674.1 805.6L676.6 805.6L679.0 805.9L681.5 806.1L683.9 805.9L686.4 806.0L688.8 806.4L691.3 806.6L693.8 806.5L696.2 806.6L698.7 806.9L701.1 807.3L703.6 807.3L706.0 807.0L708.5 807.0L710.9 806.9L713.4 806.9L715.8 806.8L718.3 807.2L720.7 807.6L723.2 808.5L725.6 808.6L728.1 808.6L730.5 808.4L733.0 808.5L735.4 808.5L737.9 808.6L740.3 808.5L742.8 808.7L745.2 808.7L747.7 808.6L750.1 808.6L752.6 808.5L755.0 808.8L757.5 808.7L759.9 808.8L762.4 808.7L764.8 808.9L767.3 808.9L769.7 808.6L772.2 808.5L774.6 808.7L777.1 808.3L779.5 808.7L782.0 808.7L784.4 808.5L786.9 808.5L789.3 808.3L791.8 808.0L794.2 807.8L796.7 808.0L799.2 808.2L801.6 808.6L804.1 808.6L806.5 808.9L809.0 809.0L811.4 809.2L813.9 808.8L816.3 808.8L818.8 808.9L821.2 808.8L823.7 808.6L826.1 808.8L828.6 808.8L831.0 808.7L833.5 808.8L835.9 808.9L838.4 808.9L840.8 808.7L843.3 808.8L845.7 808.7L848.2 808.5L850.6 808.5L853.1 808.2L855.5 808.2L858.0 808.2L860.4 808.0L862.9 808.1L865.3 807.9L867.8 807.6L870.2 807.7L872.7 807.8L875.1 807.9L877.6 807.7L880.0 807.7L882.5 807.7L884.9 807.8L887.4 807.8L889.8 807.8L892.3 807.6L894.7 807.7L897.2 808.1L899.6 807.6L902.1 807.8L904.5 807.8L907.0 807.6L909.5 807.6L911.9 807.8L914.4 807.8L916.8 807.9L919.3 807.9L921.7 807.8L924.2 807.7L926.6 807.8L929.1 807.5L931.5 807.4L934.0 807.4L936.4 807.5L938.9 807.8L941.3 808.1L943.8 808.0L946.2 807.8L948.7 808.1L951.1 808.3L953.6 808.3L956.0 808.3L958.5 808.5L960.9 808.7L963.4 808.7L965.8 809.1L968.3 809.1L970.7 809.2L973.2 808.9L975.6 808.7L978.1 807.8L980.5 806.6L983.0 806.4L985.4 806.1L987.9 806.0L990.3 806.0L992.8 805.3L995.2 805.3L997.7 805.3L1000.1 804.6L1002.6 804.5L1005.0 804.5L1007.5 804.2L1009.9 803.9L1012.4 803.7L1014.9 803.5L1017.3 803.2L1019.8 802.9L1022.2 802.8L1024.7 802.9L1027.1 804.0L1029.6 804.9L1032.0 804.8L1034.5 804.8L1036.9 804.8L1039.4 804.6L1041.8 805.2L1044.3 804.8L1046.7 804.6L1049.2 804.7L1051.6 804.6L1054.1 804.7L1056.5 804.7L1059.0 804.7L1061.4 804.8L1063.9 805.0L1066.3 805.3L1068.8 805.5L1071.2 805.9L1073.7 806.0L1076.1 806.2L1078.6 806.4L1081.0 806.6L1083.5 806.8L1085.9 806.6L1088.4 806.8L1090.8 806.7L1093.3 807.1L1095.7 807.1L1098.2 807.8L1100.6 807.4L1103.1 807.5L1105.5 807.7L1108.0 807.8L1110.4 807.8L1112.9 807.5L1115.3 807.5L1117.8 807.9L1120.3 807.9L1122.7 808.1L1125.2 807.9L1127.6 807.8L1130.1 808.1L1132.5 808.1L1135.0 808.3L1137.4 808.5L1139.9 808.8L1142.3 809.1L1144.8 809.3L1147.2 809.3L1149.7 809.8L1152.1 809.7L1154.6 809.7L1157.0 809.6L1159.5 809.7L1161.9 809.9L1164.4 809.5L1166.8 809.4L1169.3 809.4L1171.7 809.3L1174.2 809.4L1176.6 809.6L1179.1 809.5L1181.5 809.5L1184.0 809.3L1186.4 809.0L1188.9 809.0L1191.3 808.9L1193.8 808.9L1196.2 809.0L1198.7 809.1L1201.1 809.1L1203.6 809.1L1206.0 809.1L1208.5 809.1L1210.9 809.0L1213.4 809.4L1215.8 809.5L1218.3 809.4L1220.7 809.4L1223.2 809.1L1225.7 808.7L1228.1 808.8L1230.6 808.8L1233.0 808.0L1235.5 808.2L1237.9 808.1L1240.4 808.1L1242.8 808.0L1245.3 807.8L1247.7 807.5L1250.2 807.5L1252.6 807.6L1255.1 807.7L1257.5 807.6L1260.0 807.7L1262.4 807.5L1264.9 807.1L1267.3 807.4L1269.8 807.2L1272.2 807.4L1274.7 807.7L1277.1 807.7L1279.6 807.7L1282.0 808.8L1284.5 808.8L1286.9 809.0L1289.4 809.0L1291.8 809.1L1294.3 809.3L1296.7 809.4L1299.2 809.3L1301.6 809.3L1304.1 809.4L1306.5 809.5L1309.0 809.5L1311.4 809.7L1313.9 809.4L1316.3 809.3L1318.8 809.6L1321.2 809.7L1323.7 809.6L1326.1 809.5L1328.6 807.8L1331.1 807.0L1333.5 807.0L1336.0 806.9L1338.4 806.8L1340.9 806.6L1343.3 806.4L1345.8 805.8L1348.2 805.6L1350.7 805.3L1353.1 804.8L1355.6 805.0L1358.0 805.0L1360.5 804.6L1362.9 805.2L1365.4 805.0L1367.8 804.8L1370.3 804.5L1372.7 804.5L1375.2 804.5L1377.6 806.0L1380.1 806.8L1382.5 806.1L1385.0 806.1L1387.4 805.9L1389.9 805.8L1392.3 805.7L1394.8 806.5L1397.2 806.5L1399.7 806.4L1402.1 806.8L1404.6 806.5L1407.0 806.1L1409.5 806.3L1411.9 806.1L1414.4 806.3L1416.8 806.4L1419.3 806.6L1421.7 806.6L1424.2 806.7L1426.6 806.7L1429.1 806.4L1431.5 806.8L1434.0 806.7L1436.5 807.0L1438.9 807.0L1441.4 807.2L1443.8 807.1L1446.3 807.2L1448.7 807.6L1451.2 807.6L1453.6 807.5L1456.1 808.0L1458.5 808.2L1461.0 808.1L1463.4 808.1L1465.9 808.0L1468.3 808.1L1470.8 808.0L1473.2 808.1L1475.7 808.3L1478.1 808.6L1480.6 808.4L1483.0 808.6L1485.5 808.4L1487.9 808.5L1490.4 808.5L1492.8 806.6L1495.3 806.2L1497.7 805.1L1500.2 805.0L1502.6 804.8L1505.1 804.7L1507.5 804.5L1510.0 804.3L1512.4 803.9L1514.9 803.2L1517.3 803.1L1519.8 802.7L1522.2 802.6L1524.7 802.7L1527.1 802.7L1529.6 802.7L1532.0 802.7L1534.5 802.4L1536.9 802.5L1539.4 802.3L1541.9 804.0L1544.3 803.8L1546.8 804.3L1549.2 804.2L1551.7 804.3L1554.1 804.1L1556.6 804.2L1559.0 804.3L1561.5 804.4L1563.9 804.9L1566.4 804.8L1568.8 804.9L1571.3 804.8L1573.7 804.4L1576.2 803.6L1578.6 803.3L1581.1 802.3L1583.5 801.7L1586.0 801.4L1588.4 801.1L1590.9 801.2L1593.3 801.7L1595.8 801.6L1598.2 801.8L1600.7 801.3L1603.1 801.0L1605.6 800.7L1608.0 800.8L1610.5 800.7L1612.9 800.9L1615.4 800.0L1617.8 798.9L1620.3 798.9L1622.7 797.9L1625.2 798.4L1627.6 798.4L1630.1 798.4L1632.5 799.2L1635.0 798.9L1637.4 798.3L1639.9 798.0L1642.3 797.4L1644.8 797.9" stroke="#8a8a8a" stroke-width="2" fill="none" opacity="0.75"/>
<path d="M58.1 867.7L64.3 859.4L66.4 861.5L70.6 851.7L74.8 858.3L80.0 855.8L83.1 866.2L92.5 854.6L96.6 862.5L99.8 860.8L106.0 855.2L110.2 858.3L116.4 872.9L120.6 864.6L123.7 865.6L127.9 865.6L131.0 860.4L136.2 859.4L143.5 870.8L147.7 871.2L153.9 864.6L156.0 860.0L158.1 868.3L161.2 864.6L164.3 864.2L166.0 858.3L167.5 868.3L170.6 863.5L174.8 858.8L182.0 872.5L187.2 866.7L192.5 872.9L194.5 869.8L199.8 874.6L206.0 872.9L210.2 857.9L215.4 857.9L217.5 862.1L220.6 858.3L224.8 862.1L227.9 859.4L231.0 865.6L233.5 856.7L237.2 864.6L240.4 879.6L245.6 882.9L250.8 883.8L257.0 892.1L261.2 883.8L264.3 882.3L268.5 887.5L273.7 884.4L276.8 892.1L280.0 878.8L282.0 881.2L285.2 878.1L288.3 880.8L292.5 877.5L294.5 879.6L297.7 876.7L300.8 877.1L303.9 884.4L306.0 884.4L311.2 894.2L316.4 875.0L317.5 879.6L321.6 872.5L325.8 867.7L328.9 871.2L333.1 867.7L337.2 862.1L340.4 869.2L344.5 861.5L346.6 865.6L350.8 887.1L355.0 879.6L360.2 892.7L362.2 893.3L365.4 880.8L368.5 879.2L372.7 871.2L374.8 870.4L378.9 874.6L382.0 870.8L385.2 876.0L388.3 871.9L391.4 873.3L394.5 872.5L398.7 886.5L402.9 882.3L408.1 872.9L410.2 883.8L414.3 875.0L418.5 879.6L419.5 881.2L422.7 886.5L431.0 890.6L437.2 900.0L439.3 894.8L443.5 893.8L448.7 899.0L453.9 900.4L459.4 893.8L464.6 888.5L466.7 893.8L470.8 888.5L477.1 892.7L481.2 895.8L483.3 899.0L485.4 906.2L490.6 904.2L494.8 908.3L497.9 895.8L502.1 891.7L507.3 896.9L510.4 901.0L512.5 897.5L514.6 901.7L516.7 897.5L521.9 903.1L527.1 893.8L531.2 896.9L534.4 894.2L539.6 903.1L541.7 896.9L544.8 897.9L546.9 891.7L550.0 891.7L552.1 896.9L554.2 889.6L558.3 895.8L561.5 881.2L565.6 875.4L569.8 875.0L574.0 859.4L578.1 853.8L583.3 853.1L585.4 851.0L588.5 851.0L593.8 841.7L599.0 835.0L604.2 832.3L609.4 830.6L612.1 830.6L614.6 835.0L616.7 833.3L619.8 837.9L621.9 838.5L625.0 844.2L629.2 845.4L633.3 844.2L635.4 844.8L638.5 851.0L641.7 848.3L647.9 851.0L651.0 847.9L655.2 845.4L657.3 858.3L658.3 880.2L660.4 873.3L664.6 873.3L668.8 878.1L675.0 885.4L677.1 878.8L680.2 881.2L682.3 879.6L687.5 882.3L692.7 891.2L696.9 887.5L699.0 879.6L703.1 881.2L708.3 868.8L711.5 865.0L716.7 862.5L720.8 865.6L727.1 871.9L731.2 868.8L736.5 874.0L740.6 887.5L743.8 891.7L749.0 895.4L752.1 885.4L755.2 876.7L757.9 883.3L762.5 880.8L767.7 888.5L772.9 894.8L779.2 897.5L781.2 890.6L785.4 888.5L787.5 890.6L791.7 899.0L796.9 904.2L800.0 910.0L802.1 904.2L808.3 915.0L813.5 900.0L817.7 910.0L821.9 899.6L825.0 903.8L832.3 897.5L834.4 897.1L838.5 881.2L844.8 881.7L847.9 885.4L855.2 896.9L859.4 881.7L862.1 885.4L864.6 875.4L866.7 877.1L869.8 872.5L872.9 871.9L876.0 868.8L879.2 860.0L882.3 862.9L885.4 861.5L887.5 858.3L890.6 860.0L895.8 852.5L899.0 856.7L902.1 855.8L904.2 858.3L907.3 857.3L910.4 851.7L914.6 857.3L918.8 857.9L921.9 856.7L925.0 860.0L927.1 864.2L932.3 850.0L937.5 844.2L940.6 842.7L942.7 855.2L945.8 856.2L949.0 855.8L952.1 853.8L955.2 856.2L958.3 855.8L963.5 851.0L969.8 858.8L971.9 851.7L976.0 835.4L979.2 835.4L983.3 835.8L986.5 835.4L988.5 838.5L991.2 839.2L993.8 851.0L998.3 864.2L1003.1 854.2L1007.3 852.1L1010.4 851.2L1016.7 841.7L1019.8 847.9L1022.5 848.3L1025.0 846.9L1029.2 862.9L1031.2 862.5L1037.5 872.5L1039.6 871.9L1042.7 862.9L1045.8 863.5L1051.0 860.8L1057.3 868.8L1061.5 868.8L1065.6 867.7L1069.8 862.9L1075.0 855.2L1077.1 855.8L1080.2 860.0L1083.3 860.0L1087.5 861.5L1092.7 875.0L1096.9 876.0L1100.0 869.8L1103.1 874.6L1105.2 873.3L1108.3 879.6L1110.4 878.8L1112.5 882.9L1114.6 879.6L1117.7 874.6L1121.9 874.6L1125.0 870.4L1127.1 871.2L1129.2 886.5L1134.4 900.0L1137.5 893.3L1143.8 897.9L1146.9 890.6L1151.0 891.7L1156.2 892.7L1162.5 902.1L1170.8 910.4L1175.0 909.4L1179.2 902.5L1182.3 891.7L1188.5 884.4L1191.7 869.8L1199.0 881.2L1204.2 871.9L1208.3 873.3L1212.5 878.1L1216.7 878.8L1219.8 881.7L1221.9 863.5L1225.0 857.9L1226.7 867.7L1229.2 863.5L1231.2 893.8L1233.3 899.0L1236.5 891.7L1238.5 895.8L1241.7 892.7L1244.8 896.2L1247.9 896.9L1255.2 901.7L1258.3 885.4L1261.5 885.0L1266.7 880.2L1269.8 882.3L1272.9 888.5L1277.1 892.1L1281.2 885.4L1283.3 886.5L1287.5 894.2L1290.6 892.7L1294.8 897.5L1299.0 895.8L1301.0 897.9L1304.2 894.8L1309.4 902.5L1311.5 897.9L1315.6 902.1L1320.8 903.1L1322.9 890.6L1326.0 893.8L1328.8 903.8L1332.3 906.2L1337.5 909.4L1340.6 902.5L1344.8 905.2L1349.0 908.3L1352.1 897.5L1356.2 900.4L1361.5 903.1L1364.6 897.9L1368.8 882.9L1370.8 886.5L1374.0 874.6L1376.0 873.3L1379.2 870.4L1382.3 876.0L1386.5 873.3L1388.5 873.3L1393.8 864.6L1400.0 856.2L1404.2 857.3L1406.2 854.2L1408.3 858.3L1411.5 855.8L1413.5 862.1L1420.8 856.7L1424.0 861.5L1429.2 856.7L1433.3 861.5L1436.5 860.8L1442.1 852.5L1444.8 867.7L1447.9 868.8L1452.1 873.3L1454.2 870.4L1459.4 878.1L1462.5 878.1L1464.6 874.6L1467.7 874.6L1469.8 876.0L1474.0 860.4L1476.0 862.1L1479.2 862.1L1482.3 875.0L1484.4 879.2L1486.5 877.5L1488.5 885.4L1491.7 884.4L1493.3 863.5L1496.9 875.0L1497.9 878.1L1501.0 878.8L1506.2 886.5L1509.4 889.6L1513.5 895.4L1518.8 889.6L1522.9 885.0L1525.0 884.4L1527.1 874.6L1530.2 879.6L1534.4 875.4L1537.5 881.2L1541.7 879.6L1544.8 875.4L1547.9 872.5L1551.0 874.0L1553.1 876.0L1556.2 875.4L1561.5 887.9L1564.6 880.2L1566.7 885.4L1570.8 890.6L1574.0 891.2L1576.0 894.8L1579.2 903.1L1583.3 905.2L1588.5 910.4L1592.7 908.8L1597.9 901.0L1600.0 907.3L1602.1 906.7L1605.2 897.9L1607.3 903.1L1612.5 897.5L1615.6 898.3L1617.7 906.7L1619.8 907.3L1621.9 894.8L1624.0 896.9L1627.1 891.2L1630.2 895.8L1633.3 895.8L1637.5 889.6L1641.7 885.4L1644.4 871.9" stroke="#ad4fbb" stroke-width="1.1" fill="none"/>
<path d="M58 763.5H1898M58 819.5H1898M58 922.5H1838.5" stroke="#4a4a4a" stroke-width="1"/>
<path d="M1838.5 80V760M1838.5 764V922.5" stroke="#4a4a4a" stroke-width="1"/>
<path d="M1838.5 746.5h3.5" stroke="#555" stroke-width="1"/>
<text x="1845.6" y="750.1" class="ax">2.5000</text>
<path d="M1838.5 710.5h3.5" stroke="#555" stroke-width="1"/>
<text x="1845.6" y="714.4" class="ax">3.0000</text>
<path d="M1838.5 674.5h3.5" stroke="#555" stroke-width="1"/>
<text x="1845.6" y="678.7" class="ax">3.5000</text>
<path d="M1838.5 638.5h3.5" stroke="#555" stroke-width="1"/>
<text x="1845.6" y="643.0" class="ax">4.0000</text>
<path d="M1838.5 603.5h3.5" stroke="#555" stroke-width="1"/>
<text x="1845.6" y="607.3" class="ax">4.5000</text>
<path d="M1838.5 567.5h3.5" stroke="#555" stroke-width="1"/>
<text x="1845.6" y="571.6" class="ax">5.0000</text>
<path d="M1838.5 531.5h3.5" stroke="#555" stroke-width="1"/>
<text x="1845.6" y="535.9" class="ax">5.5000</text>
<path d="M1838.5 496.5h3.5" stroke="#555" stroke-width="1"/>
<text x="1845.6" y="500.2" class="ax">6.0000</text>
<path d="M1838.5 460.5h3.5" stroke="#555" stroke-width="1"/>
<text x="1845.6" y="464.4" class="ax">6.5000</text>
<path d="M1838.5 424.5h3.5" stroke="#555" stroke-width="1"/>
<text x="1845.6" y="428.7" class="ax">7.0000</text>
<path d="M1838.5 389.5h3.5" stroke="#555" stroke-width="1"/>
<text x="1845.6" y="393.0" class="ax">7.5000</text>
<path d="M1838.5 353.5h3.5" stroke="#555" stroke-width="1"/>
<text x="1845.6" y="357.3" class="ax">8.0000</text>
<path d="M1838.5 317.5h3.5" stroke="#555" stroke-width="1"/>
<text x="1845.6" y="321.6" class="ax">8.5000</text>
<path d="M1838.5 281.5h3.5" stroke="#555" stroke-width="1"/>
<text x="1845.6" y="285.9" class="ax">9.0000</text>
<path d="M1838.5 246.5h3.5" stroke="#555" stroke-width="1"/>
<text x="1845.6" y="250.2" class="ax">9.5000</text>
<path d="M1838.5 210.5h3.5" stroke="#555" stroke-width="1"/>
<text x="1845.6" y="214.5" class="ax">10.0000</text>
<path d="M1838.5 174.5h3.5" stroke="#555" stroke-width="1"/>
<text x="1845.6" y="178.8" class="ax">10.5000</text>
<path d="M1838.5 139.5h3.5" stroke="#555" stroke-width="1"/>
<text x="1845.6" y="143.1" class="ax">11.0000</text>
<path d="M1838.5 103.5h3.5" stroke="#555" stroke-width="1"/>
<text x="1845.6" y="107.4" class="ax">11.5000</text>
<path d="M1838.5 823.5h3.5" stroke="#555" stroke-width="1"/>
<text x="1845.6" y="827.8" class="ax">100.0000</text>
<path d="M1838.5 852.5h3.5" stroke="#555" stroke-width="1"/>
<text x="1845.6" y="856.3" class="ax">75.0000</text>
<path d="M1838.5 880.5h3.5" stroke="#555" stroke-width="1"/>
<text x="1845.6" y="884.8" class="ax">50.0000</text>
<path d="M1838.5 909.5h3.5" stroke="#555" stroke-width="1"/>
<text x="1845.6" y="913.3" class="ax">25.0000</text>
<path d="M1838.5 815.5h3.5" stroke="#555" stroke-width="1"/>
<text x="1845.5" y="819.6" class="ax">0</text>
<rect x="1838" y="416.9" width="45" height="16" fill="#ee00ee"/>
<path d="M1838 425.5h3" stroke="#fff" stroke-width="1"/>
<text x="1845" y="428.9" class="axw">7.0121</text>
<rect x="1838" y="432.9" width="45" height="16" fill="#9d00ee"/>
<path d="M1838 441.5h3" stroke="#fff" stroke-width="1"/>
<text x="1845" y="444.9" class="axw">6.9201</text>
<rect x="1838" y="448.9" width="45" height="16" fill="#4c00f5"/>
<path d="M1838 457.5h3" stroke="#fff" stroke-width="1"/>
<text x="1845" y="460.9" class="axw">6.6214</text>
<rect x="1838" y="464.9" width="45" height="16" fill="#00dd00"/>
<path d="M1838 473.5h3" stroke="#fff" stroke-width="1"/>
<text x="1845" y="476.9" class="axw">6.4850</text>
<rect x="1838" y="480.9" width="45" height="16" fill="#0000ee"/>
<path d="M1838 489.5h3" stroke="#fff" stroke-width="1"/>
<text x="1845" y="492.9" class="axw">6.1095</text>
<rect x="1838" y="775.9" width="60" height="16" fill="#000"/>
<text x="1844.5" y="788.2" class="axw">708.513K</text>
<rect x="1838" y="791.9" width="60" height="16" fill="#22b522"/>
<text x="1844.5" y="804.2" class="axw">616.918K</text>
<rect x="1838" y="864.2" width="51" height="15.6" fill="#800080"/>
<text x="1844.5" y="876.3" class="axw">57.8141</text>
<path d="M132.5 922v3.5" stroke="#555" stroke-width="1"/>
<text x="132.5" y="937" class="tx b" text-anchor="middle">2017</text>
<path d="M234.5 922v3.5" stroke="#555" stroke-width="1"/>
<text x="234.5" y="937" class="tx" text-anchor="middle">Mar</text>
<path d="M334.5 922v3.5" stroke="#555" stroke-width="1"/>
<text x="334.5" y="937" class="tx" text-anchor="middle">Mai</text>
<path d="M440.5 922v3.5" stroke="#555" stroke-width="1"/>
<text x="440.5" y="937" class="tx" text-anchor="middle">Jul</text>
<path d="M547.5 922v3.5" stroke="#555" stroke-width="1"/>
<text x="547.5" y="937" class="tx" text-anchor="middle">Set</text>
<path d="M652.5 922v3.5" stroke="#555" stroke-width="1"/>
<text x="652.5" y="937" class="tx" text-anchor="middle">Nov</text>
<path d="M751.5 922v3.5" stroke="#555" stroke-width="1"/>
<text x="751.5" y="937" class="tx b" text-anchor="middle">2018</text>
<path d="M853.5 922v3.5" stroke="#555" stroke-width="1"/>
<text x="853.5" y="937" class="tx" text-anchor="middle">Mar</text>
<path d="M953.5 922v3.5" stroke="#555" stroke-width="1"/>
<text x="953.5" y="937" class="tx" text-anchor="middle">Mai</text>
<path d="M1057.5 922v3.5" stroke="#555" stroke-width="1"/>
<text x="1057.5" y="937" class="tx" text-anchor="middle">Jul</text>
<path d="M1166.5 922v3.5" stroke="#555" stroke-width="1"/>
<text x="1166.5" y="937" class="tx" text-anchor="middle">Set</text>
<path d="M1271.5 922v3.5" stroke="#555" stroke-width="1"/>
<text x="1271.5" y="937" class="tx" text-anchor="middle">Nov</text>
<path d="M1370.5 922v3.5" stroke="#555" stroke-width="1"/>
<text x="1370.5" y="937" class="tx b" text-anchor="middle">2019</text>
<path d="M1472.5 922v3.5" stroke="#555" stroke-width="1"/>
<text x="1472.5" y="937" class="tx" text-anchor="middle">Mar</text>
<path d="M1572.5 922v3.5" stroke="#555" stroke-width="1"/>
<text x="1572.5" y="937" class="tx" text-anchor="middle">Mai</text>
<path d="M1674.5 922v3.5" stroke="#555" stroke-width="1"/>
<text x="1674.5" y="937" class="tx" text-anchor="middle">Jul</text>
<path d="M1783.5 922v3.5" stroke="#555" stroke-width="1"/>
<text x="1783.5" y="937" class="tx" text-anchor="middle">Set</text>
<rect x="63.5" y="91.5" width="12" height="12" fill="none" stroke="#555" stroke-width="1"/><path d="M66 97.5h7" stroke="#555" stroke-width="1"/>
<text x="82.3" y="103.9" class="ttl">Altri SGPS SA, Portugal, D, Lisboa</text>
<path d="M341.5 96.5h7l-3.5 3.5z" fill="#c8c8c8"/>
<rect x="358.8" y="91.0" width="14" height="14" fill="#dcdcdc"/><path d="M361.0 98.0q4.8 -6.2 9.6 0q-4.8 6.2 -9.6 0z" fill="none" stroke="#fff" stroke-width="1.7"/><circle cx="365.8" cy="98.0" r="1.5" fill="#fff"/>
<rect x="376.3" y="91.0" width="14" height="14" fill="#dcdcdc"/><circle cx="383.3" cy="98.0" r="3.6" fill="none" stroke="#fff" stroke-width="2.4" stroke-dasharray="1.6 1.2"/><circle cx="383.3" cy="98.0" r="2.6" fill="none" stroke="#fff" stroke-width="1.2"/>
<text x="398" y="103.7" class="ohl"><tspan fill="#555">Abr</tspan><tspan x="423" fill="#2a6e44">6.1200</tspan><tspan x="476.7" fill="#555">Max</tspan><tspan x="504.3" fill="#2a6e44">6.4200</tspan><tspan x="557.9" fill="#555">Min</tspan><tspan x="582.9" fill="#2a6e44">6.1200</tspan><tspan x="636.7" fill="#555">Fch</tspan><tspan x="661.5" fill="#2a6e44">6.4850</tspan></text>
<text x="63.1" y="123.4" class="lg">MA (20, close, 0)</text>
<path d="M157.5 116.9h7l-3.5 3.5z" fill="#c8c8c8"/>
<rect x="175.0" y="111.9" width="14" height="14" fill="#dcdcdc"/><path d="M177.2 118.9q4.8 -6.2 9.6 0q-4.8 6.2 -9.6 0z" fill="none" stroke="#fff" stroke-width="1.7"/><circle cx="182.0" cy="118.9" r="1.5" fill="#fff"/>
<rect x="192.0" y="111.9" width="14" height="14" fill="#dcdcdc"/><circle cx="199.0" cy="118.9" r="3.6" fill="none" stroke="#fff" stroke-width="2.4" stroke-dasharray="1.6 1.2"/><circle cx="199.0" cy="118.9" r="2.6" fill="none" stroke="#fff" stroke-width="1.2"/>
<rect x="209.0" y="111.9" width="14" height="14" fill="#dcdcdc"/><path d="M212.0 114.9l8 8m0 -8l-8 8" stroke="#fff" stroke-width="1.5"/>
<text x="231.4" y="123.4" class="lg" style="fill:#1a1aff">6.1095</text>
<text x="63.1" y="143.6" class="lg">MA (50, close, 0)</text>
<path d="M157.5 137.1h7l-3.5 3.5z" fill="#c8c8c8"/>
<rect x="175.0" y="132.1" width="14" height="14" fill="#dcdcdc"/><path d="M177.2 139.1q4.8 -6.2 9.6 0q-4.8 6.2 -9.6 0z" fill="none" stroke="#fff" stroke-width="1.7"/><circle cx="182.0" cy="139.1" r="1.5" fill="#fff"/>
<rect x="192.0" y="132.1" width="14" height="14" fill="#dcdcdc"/><circle cx="199.0" cy="139.1" r="3.6" fill="none" stroke="#fff" stroke-width="2.4" stroke-dasharray="1.6 1.2"/><circle cx="199.0" cy="139.1" r="2.6" fill="none" stroke="#fff" stroke-width="1.2"/>
<rect x="209.0" y="132.1" width="14" height="14" fill="#dcdcdc"/><path d="M212.0 135.1l8 8m0 -8l-8 8" stroke="#fff" stroke-width="1.5"/>
<text x="231.4" y="143.6" class="lg" style="fill:#5010ff">6.6214</text>
<text x="63.1" y="164.0" class="lg">MA (100, close, 0)</text>
<path d="M164.5 157.5h7l-3.5 3.5z" fill="#c8c8c8"/>
<rect x="182.0" y="152.5" width="14" height="14" fill="#dcdcdc"/><path d="M184.2 159.5q4.8 -6.2 9.6 0q-4.8 6.2 -9.6 0z" fill="none" stroke="#fff" stroke-width="1.7"/><circle cx="189.0" cy="159.5" r="1.5" fill="#fff"/>
<rect x="199.0" y="152.5" width="14" height="14" fill="#dcdcdc"/><circle cx="206.0" cy="159.5" r="3.6" fill="none" stroke="#fff" stroke-width="2.4" stroke-dasharray="1.6 1.2"/><circle cx="206.0" cy="159.5" r="2.6" fill="none" stroke="#fff" stroke-width="1.2"/>
<rect x="216.0" y="152.5" width="14" height="14" fill="#dcdcdc"/><path d="M219.0 155.5l8 8m0 -8l-8 8" stroke="#fff" stroke-width="1.5"/>
<text x="237.6" y="164.0" class="lg" style="fill:#9a00ff">6.9201</text>
<text x="63.1" y="184.2" class="lg">MA (200, close, 0)</text>
<path d="M164.5 177.7h7l-3.5 3.5z" fill="#c8c8c8"/>
<rect x="182.0" y="172.7" width="14" height="14" fill="#dcdcdc"/><path d="M184.2 179.7q4.8 -6.2 9.6 0q-4.8 6.2 -9.6 0z" fill="none" stroke="#fff" stroke-width="1.7"/><circle cx="189.0" cy="179.7" r="1.5" fill="#fff"/>
<rect x="199.0" y="172.7" width="14" height="14" fill="#dcdcdc"/><circle cx="206.0" cy="179.7" r="3.6" fill="none" stroke="#fff" stroke-width="2.4" stroke-dasharray="1.6 1.2"/><circle cx="206.0" cy="179.7" r="2.6" fill="none" stroke="#fff" stroke-width="1.2"/>
<rect x="216.0" y="172.7" width="14" height="14" fill="#dcdcdc"/><path d="M219.0 175.7l8 8m0 -8l-8 8" stroke="#fff" stroke-width="1.5"/>
<text x="237.6" y="184.2" class="lg" style="fill:#ff00ff">7.0121</text>
<text x="63.3" y="782.8" class="lg">Volume (20)</text>
<path d="M134 776.5h7l-3.5 3.5z" fill="#c8c8c8"/>
<rect x="150.0" y="771.5" width="14" height="14" fill="#dcdcdc"/><path d="M152.2 778.5q4.8 -6.2 9.6 0q-4.8 6.2 -9.6 0z" fill="none" stroke="#fff" stroke-width="1.7"/><circle cx="157.0" cy="778.5" r="1.5" fill="#fff"/>
<rect x="167.0" y="771.5" width="14" height="14" fill="#dcdcdc"/><circle cx="174.0" cy="778.5" r="3.6" fill="none" stroke="#fff" stroke-width="2.4" stroke-dasharray="1.6 1.2"/><circle cx="174.0" cy="778.5" r="2.6" fill="none" stroke="#fff" stroke-width="1.2"/>
<rect x="184.0" y="771.5" width="14" height="14" fill="#dcdcdc"/><path d="M187.0 774.5l8 8m0 -8l-8 8" stroke="#fff" stroke-width="1.5"/>
<text x="205.7" y="782.8" class="lg" style="fill:#27b027">616.918K</text>
<text x="265.6" y="782.8" class="lg" style="fill:#222">708.513K</text>
<text x="63.3" y="839.3" class="lg" textLength="69" lengthAdjust="spacingAndGlyphs">RSI (IFR) (14)</text>
<path d="M138 833h7l-3.5 3.5z" fill="#c8c8c8"/>
<rect x="154.9" y="828.0" width="14" height="14" fill="#dcdcdc"/><path d="M157.1 835.0q4.8 -6.2 9.6 0q-4.8 6.2 -9.6 0z" fill="none" stroke="#fff" stroke-width="1.7"/><circle cx="161.9" cy="835.0" r="1.5" fill="#fff"/>
<rect x="172.0" y="828.0" width="14" height="14" fill="#dcdcdc"/><circle cx="179.0" cy="835.0" r="3.6" fill="none" stroke="#fff" stroke-width="2.4" stroke-dasharray="1.6 1.2"/><circle cx="179.0" cy="835.0" r="2.6" fill="none" stroke="#fff" stroke-width="1.2"/>
<rect x="189.0" y="828.0" width="14" height="14" fill="#dcdcdc"/><path d="M192.0 831.0l8 8m0 -8l-8 8" stroke="#fff" stroke-width="1.5"/>
<text x="211.4" y="839.3" class="lg" style="fill:#8a1a8a">57.8141</text>
<text x="70.5" y="743.7" class="wm">Investing<tspan class="wmc" dx="0.5">.com</tspan></text>
<rect x="131.2" y="726.3" width="4" height="3.8" fill="#f5a000" transform="skewX(-8)" transform-origin="133 728"/>
</svg>
</body></html>
